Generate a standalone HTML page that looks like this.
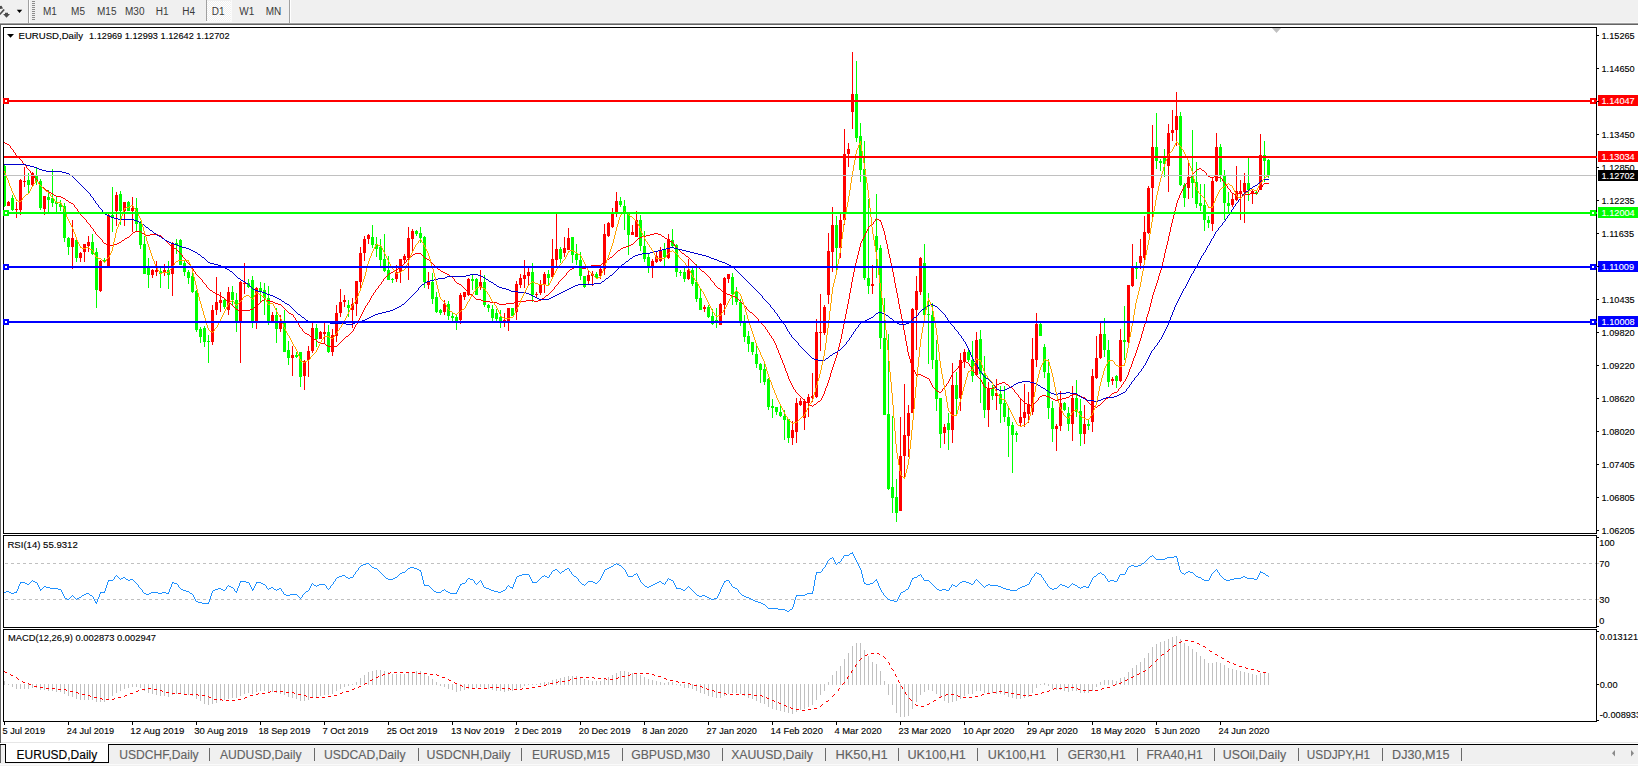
<!DOCTYPE html>
<html><head><meta charset="utf-8"><title>EURUSD,Daily</title>
<style>html,body{margin:0;padding:0;background:#fff;overflow:hidden}body{width:1638px;height:766px;position:relative}
text{font-family:"Liberation Sans",Arial,sans-serif}</style></head>
<body>
<svg width="1638" height="766" viewBox="0 0 1638 766" style="position:absolute;left:0;top:0" font-family="Liberation Sans, Arial, sans-serif">
<defs><clipPath id="cm"><rect x="4" y="28" width="1592" height="505"/></clipPath><clipPath id="cr"><rect x="4" y="536" width="1592" height="91"/></clipPath><clipPath id="cd"><rect x="4" y="630" width="1592" height="91"/></clipPath></defs>
<g shape-rendering="crispEdges">
<rect x="0" y="0" width="1638" height="23" fill="#f0f0f0"/>
<rect x="0" y="22" width="1638" height="1" fill="#f7f7f7"/>
<rect x="0" y="23" width="1638" height="1" fill="#a0a0a0"/>
<rect x="0" y="24" width="1638" height="1" fill="#646464"/>
<rect x="0" y="24" width="1" height="719" fill="#646464"/>
<rect x="28" y="0" width="1" height="23" fill="#a0a0a0"/><rect x="29" y="0" width="1" height="23" fill="#ffffff"/>
<rect x="32" y="1" width="3" height="1" fill="#8c8c8c"/>
<rect x="32" y="3" width="3" height="1" fill="#8c8c8c"/>
<rect x="32" y="5" width="3" height="1" fill="#8c8c8c"/>
<rect x="32" y="7" width="3" height="1" fill="#8c8c8c"/>
<rect x="32" y="9" width="3" height="1" fill="#8c8c8c"/>
<rect x="32" y="11" width="3" height="1" fill="#8c8c8c"/>
<rect x="32" y="13" width="3" height="1" fill="#8c8c8c"/>
<rect x="32" y="15" width="3" height="1" fill="#8c8c8c"/>
<rect x="32" y="17" width="3" height="1" fill="#8c8c8c"/>
<rect x="32" y="19" width="3" height="1" fill="#8c8c8c"/>
<defs><pattern id="chk" x="0" y="0" width="2" height="2" patternUnits="userSpaceOnUse"><rect width="2" height="2" fill="#f0f0f0"/><rect width="1" height="1" fill="#fff"/><rect x="1" y="1" width="1" height="1" fill="#fff"/></pattern></defs>
<rect x="207" y="1" width="24" height="20" fill="url(#chk)"/>
<rect x="206" y="0" width="1" height="21" fill="#a0a0a0"/>
<rect x="231" y="0" width="1" height="22" fill="#fafafa"/>
<rect x="206" y="21" width="26" height="1" fill="#fafafa"/>
<rect x="289" y="0" width="1" height="23" fill="#a0a0a0"/><rect x="290" y="0" width="1" height="23" fill="#ffffff"/>
<rect x="3" y="27" width="1594" height="507" fill="#000"/>
<rect x="4" y="28" width="1592" height="505" fill="#fff"/>
<rect x="3" y="535" width="1594" height="93" fill="#000"/>
<rect x="4" y="536" width="1592" height="91" fill="#fff"/>
<rect x="3" y="629" width="1594" height="93" fill="#000"/>
<rect x="4" y="630" width="1592" height="91" fill="#fff"/>
<rect x="1" y="742" width="1637" height="1" fill="#e6e6e6"/>
<rect x="0" y="744" width="1638" height="1" fill="#000"/>
<rect x="0" y="745" width="1638" height="21" fill="#f0f0f0"/>
<rect x="0" y="764" width="1638" height="1" fill="#fafafa"/>
<rect x="0" y="745" width="1" height="18" fill="#646464"/>
<rect x="5" y="744" width="104" height="19" fill="#000"/>
<rect x="6" y="744" width="102" height="18" fill="#fff"/>
</g>
<g clip-path="url(#cm)" shape-rendering="crispEdges">
<rect x="4" y="165" width="1" height="42" fill="#00ff00"/>
<rect x="3" y="166" width="3" height="40" fill="#00ff00"/>
<rect x="8" y="201" width="1" height="5" fill="#ff0000"/>
<rect x="7" y="202" width="3" height="4" fill="#ff0000"/>
<rect x="12" y="195" width="1" height="16" fill="#00ff00"/>
<rect x="11" y="198" width="3" height="12" fill="#00ff00"/>
<rect x="16" y="202" width="1" height="16" fill="#ff0000"/>
<rect x="15" y="209" width="3" height="1" fill="#ff0000"/>
<rect x="20" y="179" width="1" height="36" fill="#ff0000"/>
<rect x="19" y="180" width="3" height="30" fill="#ff0000"/>
<rect x="24" y="167" width="1" height="20" fill="#ff0000"/>
<rect x="23" y="181" width="3" height="1" fill="#ff0000"/>
<rect x="28" y="173" width="1" height="20" fill="#00ff00"/>
<rect x="27" y="180" width="3" height="5" fill="#00ff00"/>
<rect x="32" y="172" width="1" height="14" fill="#ff0000"/>
<rect x="31" y="173" width="3" height="12" fill="#ff0000"/>
<rect x="36" y="167" width="1" height="18" fill="#00ff00"/>
<rect x="35" y="175" width="3" height="6" fill="#00ff00"/>
<rect x="40" y="179" width="1" height="31" fill="#00ff00"/>
<rect x="39" y="181" width="3" height="27" fill="#00ff00"/>
<rect x="44" y="196" width="1" height="19" fill="#ff0000"/>
<rect x="43" y="196" width="3" height="13" fill="#ff0000"/>
<rect x="48" y="190" width="1" height="22" fill="#00ff00"/>
<rect x="47" y="197" width="3" height="3" fill="#00ff00"/>
<rect x="52" y="169" width="1" height="38" fill="#00ff00"/>
<rect x="51" y="198" width="3" height="5" fill="#00ff00"/>
<rect x="56" y="197" width="1" height="15" fill="#00ff00"/>
<rect x="55" y="202" width="3" height="2" fill="#00ff00"/>
<rect x="60" y="200" width="1" height="11" fill="#00ff00"/>
<rect x="59" y="204" width="3" height="3" fill="#00ff00"/>
<rect x="64" y="203" width="1" height="39" fill="#00ff00"/>
<rect x="63" y="206" width="3" height="32" fill="#00ff00"/>
<rect x="68" y="237" width="1" height="18" fill="#00ff00"/>
<rect x="67" y="238" width="3" height="9" fill="#00ff00"/>
<rect x="72" y="220" width="1" height="49" fill="#ff0000"/>
<rect x="71" y="238" width="3" height="9" fill="#ff0000"/>
<rect x="76" y="239" width="1" height="23" fill="#00ff00"/>
<rect x="75" y="240" width="3" height="18" fill="#00ff00"/>
<rect x="80" y="252" width="1" height="10" fill="#ff0000"/>
<rect x="79" y="253" width="3" height="5" fill="#ff0000"/>
<rect x="84" y="244" width="1" height="18" fill="#ff0000"/>
<rect x="83" y="244" width="3" height="8" fill="#ff0000"/>
<rect x="88" y="236" width="1" height="16" fill="#ff0000"/>
<rect x="87" y="242" width="3" height="4" fill="#ff0000"/>
<rect x="92" y="234" width="1" height="21" fill="#00ff00"/>
<rect x="91" y="242" width="3" height="12" fill="#00ff00"/>
<rect x="96" y="248" width="1" height="60" fill="#00ff00"/>
<rect x="95" y="252" width="3" height="38" fill="#00ff00"/>
<rect x="100" y="260" width="1" height="32" fill="#ff0000"/>
<rect x="99" y="261" width="3" height="30" fill="#ff0000"/>
<rect x="104" y="258" width="1" height="5" fill="#00ff00"/>
<rect x="103" y="260" width="3" height="2" fill="#00ff00"/>
<rect x="108" y="214" width="1" height="52" fill="#ff0000"/>
<rect x="107" y="215" width="3" height="51" fill="#ff0000"/>
<rect x="112" y="187" width="1" height="45" fill="#00ff00"/>
<rect x="111" y="215" width="3" height="2" fill="#00ff00"/>
<rect x="116" y="192" width="1" height="34" fill="#ff0000"/>
<rect x="115" y="195" width="3" height="16" fill="#ff0000"/>
<rect x="120" y="191" width="1" height="34" fill="#00ff00"/>
<rect x="119" y="194" width="3" height="17" fill="#00ff00"/>
<rect x="124" y="202" width="1" height="24" fill="#ff0000"/>
<rect x="123" y="202" width="3" height="9" fill="#ff0000"/>
<rect x="128" y="201" width="1" height="10" fill="#00ff00"/>
<rect x="127" y="202" width="3" height="9" fill="#00ff00"/>
<rect x="132" y="197" width="1" height="35" fill="#ff0000"/>
<rect x="131" y="208" width="3" height="3" fill="#ff0000"/>
<rect x="136" y="198" width="1" height="33" fill="#00ff00"/>
<rect x="135" y="208" width="3" height="16" fill="#00ff00"/>
<rect x="140" y="221" width="1" height="28" fill="#00ff00"/>
<rect x="139" y="222" width="3" height="23" fill="#00ff00"/>
<rect x="144" y="236" width="1" height="38" fill="#00ff00"/>
<rect x="143" y="244" width="3" height="30" fill="#00ff00"/>
<rect x="148" y="258" width="1" height="30" fill="#00ff00"/>
<rect x="147" y="267" width="3" height="8" fill="#00ff00"/>
<rect x="152" y="269" width="1" height="9" fill="#ff0000"/>
<rect x="151" y="270" width="3" height="5" fill="#ff0000"/>
<rect x="156" y="261" width="1" height="15" fill="#ff0000"/>
<rect x="155" y="270" width="3" height="2" fill="#ff0000"/>
<rect x="160" y="266" width="1" height="22" fill="#00ff00"/>
<rect x="159" y="271" width="3" height="3" fill="#00ff00"/>
<rect x="164" y="264" width="1" height="12" fill="#ff0000"/>
<rect x="163" y="270" width="3" height="2" fill="#ff0000"/>
<rect x="168" y="261" width="1" height="28" fill="#00ff00"/>
<rect x="167" y="270" width="3" height="5" fill="#00ff00"/>
<rect x="172" y="242" width="1" height="54" fill="#ff0000"/>
<rect x="171" y="243" width="3" height="31" fill="#ff0000"/>
<rect x="176" y="239" width="1" height="15" fill="#00ff00"/>
<rect x="175" y="243" width="3" height="2" fill="#00ff00"/>
<rect x="180" y="239" width="1" height="26" fill="#00ff00"/>
<rect x="179" y="240" width="3" height="25" fill="#00ff00"/>
<rect x="184" y="260" width="1" height="16" fill="#00ff00"/>
<rect x="183" y="263" width="3" height="9" fill="#00ff00"/>
<rect x="188" y="270" width="1" height="14" fill="#00ff00"/>
<rect x="187" y="272" width="3" height="6" fill="#00ff00"/>
<rect x="192" y="272" width="1" height="21" fill="#00ff00"/>
<rect x="191" y="276" width="3" height="16" fill="#00ff00"/>
<rect x="196" y="290" width="1" height="42" fill="#00ff00"/>
<rect x="195" y="291" width="3" height="39" fill="#00ff00"/>
<rect x="200" y="327" width="1" height="16" fill="#00ff00"/>
<rect x="199" y="329" width="3" height="8" fill="#00ff00"/>
<rect x="204" y="326" width="1" height="21" fill="#00ff00"/>
<rect x="203" y="328" width="3" height="14" fill="#00ff00"/>
<rect x="208" y="335" width="1" height="28" fill="#00ff00"/>
<rect x="207" y="341" width="3" height="1" fill="#00ff00"/>
<rect x="212" y="305" width="1" height="40" fill="#ff0000"/>
<rect x="211" y="310" width="3" height="32" fill="#ff0000"/>
<rect x="216" y="277" width="1" height="38" fill="#ff0000"/>
<rect x="215" y="302" width="3" height="8" fill="#ff0000"/>
<rect x="220" y="292" width="1" height="20" fill="#ff0000"/>
<rect x="219" y="300" width="3" height="3" fill="#ff0000"/>
<rect x="224" y="298" width="1" height="11" fill="#00ff00"/>
<rect x="223" y="300" width="3" height="7" fill="#00ff00"/>
<rect x="228" y="287" width="1" height="28" fill="#ff0000"/>
<rect x="227" y="292" width="3" height="18" fill="#ff0000"/>
<rect x="232" y="286" width="1" height="20" fill="#00ff00"/>
<rect x="231" y="292" width="3" height="8" fill="#00ff00"/>
<rect x="236" y="293" width="1" height="39" fill="#00ff00"/>
<rect x="235" y="300" width="3" height="23" fill="#00ff00"/>
<rect x="240" y="281" width="1" height="82" fill="#ff0000"/>
<rect x="239" y="282" width="3" height="41" fill="#ff0000"/>
<rect x="244" y="263" width="1" height="31" fill="#ff0000"/>
<rect x="243" y="283" width="3" height="1" fill="#ff0000"/>
<rect x="248" y="279" width="1" height="9" fill="#00ff00"/>
<rect x="247" y="283" width="3" height="4" fill="#00ff00"/>
<rect x="252" y="276" width="1" height="52" fill="#00ff00"/>
<rect x="251" y="280" width="3" height="41" fill="#00ff00"/>
<rect x="256" y="287" width="1" height="42" fill="#ff0000"/>
<rect x="255" y="288" width="3" height="33" fill="#ff0000"/>
<rect x="260" y="282" width="1" height="20" fill="#00ff00"/>
<rect x="259" y="288" width="3" height="3" fill="#00ff00"/>
<rect x="264" y="283" width="1" height="32" fill="#00ff00"/>
<rect x="263" y="290" width="3" height="8" fill="#00ff00"/>
<rect x="268" y="286" width="1" height="39" fill="#00ff00"/>
<rect x="267" y="298" width="3" height="23" fill="#00ff00"/>
<rect x="272" y="312" width="1" height="9" fill="#ff0000"/>
<rect x="271" y="315" width="3" height="6" fill="#ff0000"/>
<rect x="276" y="308" width="1" height="35" fill="#00ff00"/>
<rect x="275" y="315" width="3" height="14" fill="#00ff00"/>
<rect x="280" y="315" width="1" height="17" fill="#ff0000"/>
<rect x="279" y="322" width="3" height="7" fill="#ff0000"/>
<rect x="284" y="310" width="1" height="42" fill="#00ff00"/>
<rect x="283" y="323" width="3" height="29" fill="#00ff00"/>
<rect x="288" y="341" width="1" height="24" fill="#00ff00"/>
<rect x="287" y="350" width="3" height="8" fill="#00ff00"/>
<rect x="292" y="346" width="1" height="30" fill="#ff0000"/>
<rect x="291" y="355" width="3" height="3" fill="#ff0000"/>
<rect x="296" y="352" width="1" height="6" fill="#00ff00"/>
<rect x="295" y="355" width="3" height="2" fill="#00ff00"/>
<rect x="300" y="352" width="1" height="35" fill="#00ff00"/>
<rect x="299" y="352" width="3" height="25" fill="#00ff00"/>
<rect x="304" y="360" width="1" height="30" fill="#ff0000"/>
<rect x="303" y="361" width="3" height="15" fill="#ff0000"/>
<rect x="308" y="346" width="1" height="31" fill="#ff0000"/>
<rect x="307" y="351" width="3" height="9" fill="#ff0000"/>
<rect x="312" y="323" width="1" height="30" fill="#ff0000"/>
<rect x="311" y="328" width="3" height="23" fill="#ff0000"/>
<rect x="316" y="324" width="1" height="23" fill="#00ff00"/>
<rect x="315" y="328" width="3" height="11" fill="#00ff00"/>
<rect x="320" y="331" width="1" height="8" fill="#ff0000"/>
<rect x="319" y="332" width="3" height="7" fill="#ff0000"/>
<rect x="324" y="323" width="1" height="21" fill="#ff0000"/>
<rect x="323" y="332" width="3" height="2" fill="#ff0000"/>
<rect x="328" y="325" width="1" height="28" fill="#00ff00"/>
<rect x="327" y="332" width="3" height="20" fill="#00ff00"/>
<rect x="332" y="329" width="1" height="27" fill="#ff0000"/>
<rect x="331" y="335" width="3" height="17" fill="#ff0000"/>
<rect x="336" y="305" width="1" height="37" fill="#ff0000"/>
<rect x="335" y="313" width="3" height="23" fill="#ff0000"/>
<rect x="340" y="289" width="1" height="28" fill="#ff0000"/>
<rect x="339" y="302" width="3" height="11" fill="#ff0000"/>
<rect x="344" y="295" width="1" height="12" fill="#ff0000"/>
<rect x="343" y="300" width="3" height="2" fill="#ff0000"/>
<rect x="348" y="300" width="1" height="17" fill="#00ff00"/>
<rect x="347" y="305" width="3" height="3" fill="#00ff00"/>
<rect x="352" y="298" width="1" height="30" fill="#ff0000"/>
<rect x="351" y="304" width="3" height="6" fill="#ff0000"/>
<rect x="356" y="281" width="1" height="35" fill="#ff0000"/>
<rect x="355" y="281" width="3" height="23" fill="#ff0000"/>
<rect x="360" y="247" width="1" height="41" fill="#ff0000"/>
<rect x="359" y="253" width="3" height="29" fill="#ff0000"/>
<rect x="364" y="236" width="1" height="25" fill="#ff0000"/>
<rect x="363" y="239" width="3" height="14" fill="#ff0000"/>
<rect x="368" y="234" width="1" height="10" fill="#ff0000"/>
<rect x="367" y="235" width="3" height="4" fill="#ff0000"/>
<rect x="372" y="225" width="1" height="23" fill="#00ff00"/>
<rect x="371" y="237" width="3" height="8" fill="#00ff00"/>
<rect x="376" y="237" width="1" height="20" fill="#00ff00"/>
<rect x="375" y="244" width="3" height="5" fill="#00ff00"/>
<rect x="380" y="239" width="1" height="27" fill="#00ff00"/>
<rect x="379" y="247" width="3" height="13" fill="#00ff00"/>
<rect x="384" y="234" width="1" height="38" fill="#00ff00"/>
<rect x="383" y="259" width="3" height="12" fill="#00ff00"/>
<rect x="388" y="256" width="1" height="24" fill="#00ff00"/>
<rect x="387" y="270" width="3" height="10" fill="#00ff00"/>
<rect x="392" y="278" width="1" height="5" fill="#00ff00"/>
<rect x="391" y="279" width="3" height="1" fill="#00ff00"/>
<rect x="396" y="265" width="1" height="17" fill="#ff0000"/>
<rect x="395" y="272" width="3" height="7" fill="#ff0000"/>
<rect x="400" y="259" width="1" height="24" fill="#ff0000"/>
<rect x="399" y="259" width="3" height="13" fill="#ff0000"/>
<rect x="404" y="254" width="1" height="10" fill="#ff0000"/>
<rect x="403" y="256" width="3" height="4" fill="#ff0000"/>
<rect x="408" y="227" width="1" height="53" fill="#ff0000"/>
<rect x="407" y="238" width="3" height="20" fill="#ff0000"/>
<rect x="412" y="229" width="1" height="24" fill="#ff0000"/>
<rect x="411" y="231" width="3" height="8" fill="#ff0000"/>
<rect x="416" y="230" width="1" height="6" fill="#00ff00"/>
<rect x="415" y="231" width="3" height="3" fill="#00ff00"/>
<rect x="420" y="227" width="1" height="16" fill="#00ff00"/>
<rect x="419" y="233" width="3" height="5" fill="#00ff00"/>
<rect x="424" y="236" width="1" height="52" fill="#00ff00"/>
<rect x="423" y="237" width="3" height="45" fill="#00ff00"/>
<rect x="428" y="272" width="1" height="17" fill="#ff0000"/>
<rect x="427" y="282" width="3" height="3" fill="#ff0000"/>
<rect x="432" y="273" width="1" height="31" fill="#00ff00"/>
<rect x="431" y="282" width="3" height="17" fill="#00ff00"/>
<rect x="436" y="292" width="1" height="21" fill="#00ff00"/>
<rect x="435" y="297" width="3" height="15" fill="#00ff00"/>
<rect x="440" y="309" width="1" height="6" fill="#00ff00"/>
<rect x="439" y="310" width="3" height="3" fill="#00ff00"/>
<rect x="444" y="300" width="1" height="15" fill="#ff0000"/>
<rect x="443" y="304" width="3" height="8" fill="#ff0000"/>
<rect x="448" y="301" width="1" height="19" fill="#00ff00"/>
<rect x="447" y="304" width="3" height="12" fill="#00ff00"/>
<rect x="452" y="312" width="1" height="11" fill="#00ff00"/>
<rect x="451" y="316" width="3" height="2" fill="#00ff00"/>
<rect x="456" y="315" width="1" height="15" fill="#00ff00"/>
<rect x="455" y="317" width="3" height="4" fill="#00ff00"/>
<rect x="460" y="293" width="1" height="31" fill="#ff0000"/>
<rect x="459" y="295" width="3" height="25" fill="#ff0000"/>
<rect x="464" y="292" width="1" height="8" fill="#ff0000"/>
<rect x="463" y="292" width="3" height="5" fill="#ff0000"/>
<rect x="468" y="278" width="1" height="18" fill="#ff0000"/>
<rect x="467" y="279" width="3" height="16" fill="#ff0000"/>
<rect x="472" y="275" width="1" height="15" fill="#00ff00"/>
<rect x="471" y="279" width="3" height="2" fill="#00ff00"/>
<rect x="476" y="278" width="1" height="17" fill="#00ff00"/>
<rect x="475" y="279" width="3" height="16" fill="#00ff00"/>
<rect x="480" y="270" width="1" height="20" fill="#ff0000"/>
<rect x="479" y="282" width="3" height="5" fill="#ff0000"/>
<rect x="484" y="275" width="1" height="32" fill="#00ff00"/>
<rect x="483" y="282" width="3" height="23" fill="#00ff00"/>
<rect x="488" y="304" width="1" height="8" fill="#00ff00"/>
<rect x="487" y="305" width="3" height="3" fill="#00ff00"/>
<rect x="492" y="305" width="1" height="16" fill="#00ff00"/>
<rect x="491" y="309" width="3" height="9" fill="#00ff00"/>
<rect x="496" y="309" width="1" height="12" fill="#00ff00"/>
<rect x="495" y="313" width="3" height="6" fill="#00ff00"/>
<rect x="500" y="310" width="1" height="18" fill="#00ff00"/>
<rect x="499" y="317" width="3" height="6" fill="#00ff00"/>
<rect x="504" y="313" width="1" height="14" fill="#ff0000"/>
<rect x="503" y="320" width="3" height="3" fill="#ff0000"/>
<rect x="508" y="308" width="1" height="23" fill="#ff0000"/>
<rect x="507" y="308" width="3" height="13" fill="#ff0000"/>
<rect x="512" y="308" width="1" height="8" fill="#00ff00"/>
<rect x="511" y="308" width="3" height="8" fill="#00ff00"/>
<rect x="516" y="281" width="1" height="39" fill="#ff0000"/>
<rect x="515" y="284" width="3" height="28" fill="#ff0000"/>
<rect x="520" y="274" width="1" height="14" fill="#ff0000"/>
<rect x="519" y="278" width="3" height="7" fill="#ff0000"/>
<rect x="524" y="260" width="1" height="28" fill="#ff0000"/>
<rect x="523" y="275" width="3" height="4" fill="#ff0000"/>
<rect x="528" y="267" width="1" height="19" fill="#ff0000"/>
<rect x="527" y="272" width="3" height="4" fill="#ff0000"/>
<rect x="532" y="263" width="1" height="39" fill="#00ff00"/>
<rect x="531" y="272" width="3" height="23" fill="#00ff00"/>
<rect x="536" y="292" width="1" height="5" fill="#ff0000"/>
<rect x="535" y="294" width="3" height="1" fill="#ff0000"/>
<rect x="540" y="280" width="1" height="15" fill="#ff0000"/>
<rect x="539" y="284" width="3" height="9" fill="#ff0000"/>
<rect x="544" y="272" width="1" height="21" fill="#ff0000"/>
<rect x="543" y="274" width="3" height="11" fill="#ff0000"/>
<rect x="548" y="270" width="1" height="15" fill="#00ff00"/>
<rect x="547" y="274" width="3" height="4" fill="#00ff00"/>
<rect x="552" y="239" width="1" height="39" fill="#ff0000"/>
<rect x="551" y="259" width="3" height="18" fill="#ff0000"/>
<rect x="556" y="214" width="1" height="52" fill="#ff0000"/>
<rect x="555" y="249" width="3" height="11" fill="#ff0000"/>
<rect x="560" y="247" width="1" height="16" fill="#00ff00"/>
<rect x="559" y="249" width="3" height="10" fill="#00ff00"/>
<rect x="564" y="237" width="1" height="20" fill="#ff0000"/>
<rect x="563" y="248" width="3" height="5" fill="#ff0000"/>
<rect x="568" y="228" width="1" height="22" fill="#ff0000"/>
<rect x="567" y="238" width="3" height="12" fill="#ff0000"/>
<rect x="572" y="237" width="1" height="26" fill="#00ff00"/>
<rect x="571" y="237" width="3" height="18" fill="#00ff00"/>
<rect x="576" y="244" width="1" height="21" fill="#00ff00"/>
<rect x="575" y="254" width="3" height="6" fill="#00ff00"/>
<rect x="580" y="252" width="1" height="28" fill="#00ff00"/>
<rect x="579" y="260" width="3" height="16" fill="#00ff00"/>
<rect x="584" y="276" width="1" height="12" fill="#00ff00"/>
<rect x="583" y="276" width="3" height="11" fill="#00ff00"/>
<rect x="588" y="271" width="1" height="14" fill="#ff0000"/>
<rect x="587" y="275" width="3" height="6" fill="#ff0000"/>
<rect x="592" y="271" width="1" height="15" fill="#ff0000"/>
<rect x="591" y="274" width="3" height="2" fill="#ff0000"/>
<rect x="596" y="272" width="1" height="7" fill="#00ff00"/>
<rect x="595" y="274" width="3" height="4" fill="#00ff00"/>
<rect x="600" y="268" width="1" height="11" fill="#ff0000"/>
<rect x="599" y="269" width="3" height="7" fill="#ff0000"/>
<rect x="604" y="224" width="1" height="51" fill="#ff0000"/>
<rect x="603" y="234" width="3" height="35" fill="#ff0000"/>
<rect x="608" y="222" width="1" height="15" fill="#ff0000"/>
<rect x="607" y="223" width="3" height="13" fill="#ff0000"/>
<rect x="612" y="208" width="1" height="20" fill="#ff0000"/>
<rect x="611" y="214" width="3" height="13" fill="#ff0000"/>
<rect x="616" y="192" width="1" height="25" fill="#ff0000"/>
<rect x="615" y="201" width="3" height="13" fill="#ff0000"/>
<rect x="620" y="197" width="1" height="10" fill="#00ff00"/>
<rect x="619" y="201" width="3" height="4" fill="#00ff00"/>
<rect x="624" y="200" width="1" height="30" fill="#00ff00"/>
<rect x="623" y="206" width="3" height="8" fill="#00ff00"/>
<rect x="628" y="214" width="1" height="41" fill="#00ff00"/>
<rect x="627" y="214" width="3" height="21" fill="#00ff00"/>
<rect x="632" y="225" width="1" height="10" fill="#ff0000"/>
<rect x="631" y="232" width="3" height="3" fill="#ff0000"/>
<rect x="636" y="211" width="1" height="26" fill="#ff0000"/>
<rect x="635" y="220" width="3" height="17" fill="#ff0000"/>
<rect x="640" y="215" width="1" height="36" fill="#00ff00"/>
<rect x="639" y="220" width="3" height="26" fill="#00ff00"/>
<rect x="644" y="231" width="1" height="31" fill="#00ff00"/>
<rect x="643" y="246" width="3" height="13" fill="#00ff00"/>
<rect x="648" y="254" width="1" height="19" fill="#00ff00"/>
<rect x="647" y="257" width="3" height="9" fill="#00ff00"/>
<rect x="652" y="259" width="1" height="19" fill="#ff0000"/>
<rect x="651" y="261" width="3" height="5" fill="#ff0000"/>
<rect x="656" y="252" width="1" height="11" fill="#ff0000"/>
<rect x="655" y="256" width="3" height="6" fill="#ff0000"/>
<rect x="660" y="247" width="1" height="15" fill="#ff0000"/>
<rect x="659" y="250" width="3" height="11" fill="#ff0000"/>
<rect x="664" y="243" width="1" height="23" fill="#00ff00"/>
<rect x="663" y="250" width="3" height="7" fill="#00ff00"/>
<rect x="668" y="234" width="1" height="25" fill="#ff0000"/>
<rect x="667" y="239" width="3" height="19" fill="#ff0000"/>
<rect x="672" y="229" width="1" height="18" fill="#00ff00"/>
<rect x="671" y="240" width="3" height="6" fill="#00ff00"/>
<rect x="676" y="244" width="1" height="33" fill="#00ff00"/>
<rect x="675" y="245" width="3" height="27" fill="#00ff00"/>
<rect x="680" y="270" width="1" height="6" fill="#00ff00"/>
<rect x="679" y="272" width="3" height="1" fill="#00ff00"/>
<rect x="684" y="268" width="1" height="14" fill="#00ff00"/>
<rect x="683" y="272" width="3" height="7" fill="#00ff00"/>
<rect x="688" y="259" width="1" height="21" fill="#ff0000"/>
<rect x="687" y="270" width="3" height="9" fill="#ff0000"/>
<rect x="692" y="268" width="1" height="18" fill="#00ff00"/>
<rect x="691" y="270" width="3" height="14" fill="#00ff00"/>
<rect x="696" y="264" width="1" height="38" fill="#00ff00"/>
<rect x="695" y="282" width="3" height="17" fill="#00ff00"/>
<rect x="700" y="289" width="1" height="21" fill="#00ff00"/>
<rect x="699" y="298" width="3" height="12" fill="#00ff00"/>
<rect x="704" y="305" width="1" height="7" fill="#ff0000"/>
<rect x="703" y="307" width="3" height="2" fill="#ff0000"/>
<rect x="708" y="305" width="1" height="13" fill="#00ff00"/>
<rect x="707" y="307" width="3" height="10" fill="#00ff00"/>
<rect x="712" y="309" width="1" height="16" fill="#00ff00"/>
<rect x="711" y="316" width="3" height="8" fill="#00ff00"/>
<rect x="716" y="308" width="1" height="20" fill="#00ff00"/>
<rect x="715" y="320" width="3" height="3" fill="#00ff00"/>
<rect x="720" y="303" width="1" height="22" fill="#ff0000"/>
<rect x="719" y="304" width="3" height="21" fill="#ff0000"/>
<rect x="724" y="277" width="1" height="38" fill="#ff0000"/>
<rect x="723" y="278" width="3" height="27" fill="#ff0000"/>
<rect x="728" y="274" width="1" height="9" fill="#ff0000"/>
<rect x="727" y="274" width="3" height="5" fill="#ff0000"/>
<rect x="732" y="273" width="1" height="32" fill="#00ff00"/>
<rect x="731" y="277" width="3" height="17" fill="#00ff00"/>
<rect x="736" y="287" width="1" height="18" fill="#00ff00"/>
<rect x="735" y="291" width="3" height="11" fill="#00ff00"/>
<rect x="740" y="299" width="1" height="27" fill="#00ff00"/>
<rect x="739" y="302" width="3" height="21" fill="#00ff00"/>
<rect x="744" y="315" width="1" height="27" fill="#00ff00"/>
<rect x="743" y="322" width="3" height="15" fill="#00ff00"/>
<rect x="748" y="331" width="1" height="21" fill="#00ff00"/>
<rect x="747" y="336" width="3" height="8" fill="#00ff00"/>
<rect x="752" y="342" width="1" height="13" fill="#00ff00"/>
<rect x="751" y="342" width="3" height="10" fill="#00ff00"/>
<rect x="756" y="346" width="1" height="22" fill="#00ff00"/>
<rect x="755" y="354" width="3" height="10" fill="#00ff00"/>
<rect x="760" y="363" width="1" height="20" fill="#00ff00"/>
<rect x="759" y="364" width="3" height="6" fill="#00ff00"/>
<rect x="764" y="363" width="1" height="22" fill="#00ff00"/>
<rect x="763" y="369" width="3" height="13" fill="#00ff00"/>
<rect x="768" y="378" width="1" height="32" fill="#00ff00"/>
<rect x="767" y="379" width="3" height="28" fill="#00ff00"/>
<rect x="772" y="399" width="1" height="19" fill="#00ff00"/>
<rect x="771" y="406" width="3" height="2" fill="#00ff00"/>
<rect x="776" y="407" width="1" height="8" fill="#00ff00"/>
<rect x="775" y="407" width="3" height="5" fill="#00ff00"/>
<rect x="780" y="406" width="1" height="11" fill="#00ff00"/>
<rect x="779" y="412" width="3" height="4" fill="#00ff00"/>
<rect x="784" y="410" width="1" height="30" fill="#00ff00"/>
<rect x="783" y="416" width="3" height="4" fill="#00ff00"/>
<rect x="788" y="419" width="1" height="24" fill="#00ff00"/>
<rect x="787" y="419" width="3" height="19" fill="#00ff00"/>
<rect x="792" y="421" width="1" height="24" fill="#ff0000"/>
<rect x="791" y="430" width="3" height="8" fill="#ff0000"/>
<rect x="796" y="398" width="1" height="45" fill="#ff0000"/>
<rect x="795" y="403" width="3" height="29" fill="#ff0000"/>
<rect x="800" y="398" width="1" height="8" fill="#ff0000"/>
<rect x="799" y="401" width="3" height="4" fill="#ff0000"/>
<rect x="804" y="399" width="1" height="31" fill="#ff0000"/>
<rect x="803" y="401" width="3" height="17" fill="#ff0000"/>
<rect x="808" y="394" width="1" height="23" fill="#ff0000"/>
<rect x="807" y="397" width="3" height="6" fill="#ff0000"/>
<rect x="812" y="373" width="1" height="29" fill="#ff0000"/>
<rect x="811" y="396" width="3" height="2" fill="#ff0000"/>
<rect x="816" y="319" width="1" height="79" fill="#ff0000"/>
<rect x="815" y="332" width="3" height="65" fill="#ff0000"/>
<rect x="820" y="294" width="1" height="57" fill="#ff0000"/>
<rect x="819" y="332" width="3" height="1" fill="#ff0000"/>
<rect x="824" y="305" width="1" height="30" fill="#ff0000"/>
<rect x="823" y="307" width="3" height="26" fill="#ff0000"/>
<rect x="828" y="233" width="1" height="71" fill="#ff0000"/>
<rect x="827" y="251" width="3" height="44" fill="#ff0000"/>
<rect x="832" y="207" width="1" height="65" fill="#ff0000"/>
<rect x="831" y="225" width="3" height="27" fill="#ff0000"/>
<rect x="836" y="216" width="1" height="54" fill="#00ff00"/>
<rect x="835" y="225" width="3" height="23" fill="#00ff00"/>
<rect x="840" y="214" width="1" height="44" fill="#ff0000"/>
<rect x="839" y="220" width="3" height="28" fill="#ff0000"/>
<rect x="844" y="129" width="1" height="96" fill="#ff0000"/>
<rect x="843" y="154" width="3" height="66" fill="#ff0000"/>
<rect x="848" y="143" width="1" height="24" fill="#ff0000"/>
<rect x="847" y="149" width="3" height="5" fill="#ff0000"/>
<rect x="852" y="52" width="1" height="77" fill="#ff0000"/>
<rect x="851" y="94" width="3" height="18" fill="#ff0000"/>
<rect x="856" y="61" width="1" height="81" fill="#00ff00"/>
<rect x="855" y="94" width="3" height="44" fill="#00ff00"/>
<rect x="860" y="123" width="1" height="59" fill="#00ff00"/>
<rect x="859" y="136" width="3" height="34" fill="#00ff00"/>
<rect x="864" y="141" width="1" height="139" fill="#00ff00"/>
<rect x="863" y="169" width="3" height="109" fill="#00ff00"/>
<rect x="868" y="199" width="1" height="95" fill="#00ff00"/>
<rect x="867" y="278" width="3" height="8" fill="#00ff00"/>
<rect x="872" y="265" width="1" height="29" fill="#ff0000"/>
<rect x="871" y="284" width="3" height="2" fill="#ff0000"/>
<rect x="876" y="194" width="1" height="84" fill="#00ff00"/>
<rect x="875" y="236" width="3" height="14" fill="#00ff00"/>
<rect x="880" y="245" width="1" height="104" fill="#00ff00"/>
<rect x="879" y="248" width="3" height="90" fill="#00ff00"/>
<rect x="884" y="298" width="1" height="117" fill="#00ff00"/>
<rect x="883" y="338" width="3" height="77" fill="#00ff00"/>
<rect x="888" y="334" width="1" height="156" fill="#00ff00"/>
<rect x="887" y="414" width="3" height="75" fill="#00ff00"/>
<rect x="892" y="416" width="1" height="97" fill="#00ff00"/>
<rect x="891" y="487" width="3" height="11" fill="#00ff00"/>
<rect x="896" y="479" width="1" height="43" fill="#00ff00"/>
<rect x="895" y="497" width="3" height="16" fill="#00ff00"/>
<rect x="900" y="417" width="1" height="94" fill="#ff0000"/>
<rect x="899" y="456" width="3" height="55" fill="#ff0000"/>
<rect x="904" y="384" width="1" height="93" fill="#ff0000"/>
<rect x="903" y="435" width="3" height="21" fill="#ff0000"/>
<rect x="908" y="405" width="1" height="52" fill="#ff0000"/>
<rect x="907" y="413" width="3" height="23" fill="#ff0000"/>
<rect x="912" y="308" width="1" height="105" fill="#ff0000"/>
<rect x="911" y="309" width="3" height="104" fill="#ff0000"/>
<rect x="916" y="276" width="1" height="74" fill="#ff0000"/>
<rect x="915" y="291" width="3" height="19" fill="#ff0000"/>
<rect x="920" y="257" width="1" height="38" fill="#ff0000"/>
<rect x="919" y="258" width="3" height="34" fill="#ff0000"/>
<rect x="924" y="244" width="1" height="71" fill="#00ff00"/>
<rect x="923" y="263" width="3" height="52" fill="#00ff00"/>
<rect x="928" y="293" width="1" height="71" fill="#00ff00"/>
<rect x="927" y="314" width="3" height="1" fill="#00ff00"/>
<rect x="932" y="303" width="1" height="66" fill="#00ff00"/>
<rect x="931" y="315" width="3" height="45" fill="#00ff00"/>
<rect x="936" y="340" width="1" height="71" fill="#00ff00"/>
<rect x="935" y="360" width="3" height="39" fill="#00ff00"/>
<rect x="940" y="398" width="1" height="50" fill="#00ff00"/>
<rect x="939" y="398" width="3" height="36" fill="#00ff00"/>
<rect x="944" y="424" width="1" height="20" fill="#ff0000"/>
<rect x="943" y="427" width="3" height="6" fill="#ff0000"/>
<rect x="948" y="413" width="1" height="37" fill="#00ff00"/>
<rect x="947" y="423" width="3" height="7" fill="#00ff00"/>
<rect x="952" y="363" width="1" height="80" fill="#ff0000"/>
<rect x="951" y="385" width="3" height="45" fill="#ff0000"/>
<rect x="956" y="372" width="1" height="44" fill="#00ff00"/>
<rect x="955" y="385" width="3" height="14" fill="#00ff00"/>
<rect x="960" y="353" width="1" height="58" fill="#ff0000"/>
<rect x="959" y="360" width="3" height="38" fill="#ff0000"/>
<rect x="964" y="349" width="1" height="19" fill="#ff0000"/>
<rect x="963" y="352" width="3" height="9" fill="#ff0000"/>
<rect x="968" y="349" width="1" height="13" fill="#00ff00"/>
<rect x="967" y="352" width="3" height="8" fill="#00ff00"/>
<rect x="972" y="341" width="1" height="41" fill="#00ff00"/>
<rect x="971" y="360" width="3" height="16" fill="#00ff00"/>
<rect x="976" y="332" width="1" height="44" fill="#ff0000"/>
<rect x="975" y="340" width="3" height="35" fill="#ff0000"/>
<rect x="980" y="330" width="1" height="73" fill="#00ff00"/>
<rect x="979" y="339" width="3" height="35" fill="#00ff00"/>
<rect x="984" y="356" width="1" height="62" fill="#00ff00"/>
<rect x="983" y="374" width="3" height="36" fill="#00ff00"/>
<rect x="988" y="382" width="1" height="45" fill="#ff0000"/>
<rect x="987" y="388" width="3" height="22" fill="#ff0000"/>
<rect x="992" y="385" width="1" height="15" fill="#00ff00"/>
<rect x="991" y="388" width="3" height="8" fill="#00ff00"/>
<rect x="996" y="379" width="1" height="31" fill="#ff0000"/>
<rect x="995" y="393" width="3" height="3" fill="#ff0000"/>
<rect x="1000" y="386" width="1" height="37" fill="#00ff00"/>
<rect x="999" y="394" width="3" height="10" fill="#00ff00"/>
<rect x="1004" y="386" width="1" height="36" fill="#00ff00"/>
<rect x="1003" y="403" width="3" height="14" fill="#00ff00"/>
<rect x="1008" y="408" width="1" height="49" fill="#00ff00"/>
<rect x="1007" y="417" width="3" height="9" fill="#00ff00"/>
<rect x="1012" y="422" width="1" height="51" fill="#00ff00"/>
<rect x="1011" y="425" width="3" height="10" fill="#00ff00"/>
<rect x="1016" y="431" width="1" height="11" fill="#00ff00"/>
<rect x="1015" y="433" width="3" height="2" fill="#00ff00"/>
<rect x="1020" y="399" width="1" height="27" fill="#ff0000"/>
<rect x="1019" y="417" width="3" height="6" fill="#ff0000"/>
<rect x="1024" y="384" width="1" height="43" fill="#ff0000"/>
<rect x="1023" y="412" width="3" height="6" fill="#ff0000"/>
<rect x="1028" y="392" width="1" height="31" fill="#ff0000"/>
<rect x="1027" y="404" width="3" height="10" fill="#ff0000"/>
<rect x="1032" y="338" width="1" height="77" fill="#ff0000"/>
<rect x="1031" y="359" width="3" height="53" fill="#ff0000"/>
<rect x="1036" y="313" width="1" height="54" fill="#ff0000"/>
<rect x="1035" y="324" width="3" height="36" fill="#ff0000"/>
<rect x="1040" y="323" width="1" height="13" fill="#00ff00"/>
<rect x="1039" y="324" width="3" height="12" fill="#00ff00"/>
<rect x="1044" y="344" width="1" height="34" fill="#00ff00"/>
<rect x="1043" y="347" width="3" height="25" fill="#00ff00"/>
<rect x="1048" y="359" width="1" height="60" fill="#00ff00"/>
<rect x="1047" y="373" width="3" height="35" fill="#00ff00"/>
<rect x="1052" y="401" width="1" height="41" fill="#00ff00"/>
<rect x="1051" y="408" width="3" height="21" fill="#00ff00"/>
<rect x="1056" y="424" width="1" height="27" fill="#ff0000"/>
<rect x="1055" y="426" width="3" height="3" fill="#ff0000"/>
<rect x="1060" y="391" width="1" height="40" fill="#ff0000"/>
<rect x="1059" y="403" width="3" height="23" fill="#ff0000"/>
<rect x="1064" y="402" width="1" height="9" fill="#00ff00"/>
<rect x="1063" y="403" width="3" height="7" fill="#00ff00"/>
<rect x="1068" y="407" width="1" height="24" fill="#00ff00"/>
<rect x="1067" y="413" width="3" height="11" fill="#00ff00"/>
<rect x="1072" y="386" width="1" height="55" fill="#ff0000"/>
<rect x="1071" y="398" width="3" height="26" fill="#ff0000"/>
<rect x="1076" y="380" width="1" height="37" fill="#00ff00"/>
<rect x="1075" y="398" width="3" height="14" fill="#00ff00"/>
<rect x="1080" y="399" width="1" height="47" fill="#00ff00"/>
<rect x="1079" y="411" width="3" height="23" fill="#00ff00"/>
<rect x="1084" y="405" width="1" height="39" fill="#ff0000"/>
<rect x="1083" y="424" width="3" height="10" fill="#ff0000"/>
<rect x="1088" y="420" width="1" height="10" fill="#00ff00"/>
<rect x="1087" y="424" width="3" height="2" fill="#00ff00"/>
<rect x="1092" y="369" width="1" height="63" fill="#ff0000"/>
<rect x="1091" y="376" width="3" height="46" fill="#ff0000"/>
<rect x="1096" y="336" width="1" height="43" fill="#ff0000"/>
<rect x="1095" y="358" width="3" height="20" fill="#ff0000"/>
<rect x="1100" y="322" width="1" height="37" fill="#ff0000"/>
<rect x="1099" y="334" width="3" height="24" fill="#ff0000"/>
<rect x="1104" y="318" width="1" height="39" fill="#00ff00"/>
<rect x="1103" y="334" width="3" height="16" fill="#00ff00"/>
<rect x="1108" y="340" width="1" height="47" fill="#00ff00"/>
<rect x="1107" y="350" width="3" height="32" fill="#00ff00"/>
<rect x="1112" y="377" width="1" height="8" fill="#ff0000"/>
<rect x="1111" y="379" width="3" height="2" fill="#ff0000"/>
<rect x="1116" y="375" width="1" height="13" fill="#00ff00"/>
<rect x="1115" y="376" width="3" height="5" fill="#00ff00"/>
<rect x="1120" y="329" width="1" height="53" fill="#ff0000"/>
<rect x="1119" y="340" width="3" height="41" fill="#ff0000"/>
<rect x="1124" y="306" width="1" height="54" fill="#00ff00"/>
<rect x="1123" y="340" width="3" height="2" fill="#00ff00"/>
<rect x="1128" y="285" width="1" height="59" fill="#ff0000"/>
<rect x="1127" y="285" width="3" height="57" fill="#ff0000"/>
<rect x="1132" y="244" width="1" height="43" fill="#ff0000"/>
<rect x="1131" y="266" width="3" height="20" fill="#ff0000"/>
<rect x="1136" y="262" width="1" height="17" fill="#00ff00"/>
<rect x="1135" y="267" width="3" height="2" fill="#00ff00"/>
<rect x="1140" y="239" width="1" height="30" fill="#ff0000"/>
<rect x="1139" y="256" width="3" height="7" fill="#ff0000"/>
<rect x="1144" y="216" width="1" height="44" fill="#ff0000"/>
<rect x="1143" y="232" width="3" height="26" fill="#ff0000"/>
<rect x="1148" y="186" width="1" height="48" fill="#ff0000"/>
<rect x="1147" y="188" width="3" height="45" fill="#ff0000"/>
<rect x="1152" y="125" width="1" height="92" fill="#ff0000"/>
<rect x="1151" y="147" width="3" height="41" fill="#ff0000"/>
<rect x="1156" y="113" width="1" height="56" fill="#00ff00"/>
<rect x="1155" y="147" width="3" height="14" fill="#00ff00"/>
<rect x="1160" y="159" width="1" height="12" fill="#00ff00"/>
<rect x="1159" y="161" width="3" height="2" fill="#00ff00"/>
<rect x="1164" y="149" width="1" height="28" fill="#00ff00"/>
<rect x="1163" y="158" width="3" height="6" fill="#00ff00"/>
<rect x="1168" y="124" width="1" height="68" fill="#ff0000"/>
<rect x="1167" y="133" width="3" height="33" fill="#ff0000"/>
<rect x="1172" y="110" width="1" height="31" fill="#ff0000"/>
<rect x="1171" y="130" width="3" height="3" fill="#ff0000"/>
<rect x="1176" y="92" width="1" height="54" fill="#ff0000"/>
<rect x="1175" y="116" width="3" height="14" fill="#ff0000"/>
<rect x="1180" y="112" width="1" height="74" fill="#00ff00"/>
<rect x="1179" y="116" width="3" height="69" fill="#00ff00"/>
<rect x="1184" y="183" width="1" height="24" fill="#00ff00"/>
<rect x="1183" y="185" width="3" height="13" fill="#00ff00"/>
<rect x="1188" y="162" width="1" height="37" fill="#ff0000"/>
<rect x="1187" y="177" width="3" height="11" fill="#ff0000"/>
<rect x="1192" y="130" width="1" height="68" fill="#00ff00"/>
<rect x="1191" y="177" width="3" height="6" fill="#00ff00"/>
<rect x="1196" y="162" width="1" height="46" fill="#00ff00"/>
<rect x="1195" y="182" width="3" height="22" fill="#00ff00"/>
<rect x="1200" y="184" width="1" height="27" fill="#00ff00"/>
<rect x="1199" y="203" width="3" height="3" fill="#00ff00"/>
<rect x="1204" y="184" width="1" height="47" fill="#00ff00"/>
<rect x="1203" y="205" width="3" height="15" fill="#00ff00"/>
<rect x="1208" y="216" width="1" height="12" fill="#00ff00"/>
<rect x="1207" y="220" width="3" height="3" fill="#00ff00"/>
<rect x="1212" y="177" width="1" height="54" fill="#ff0000"/>
<rect x="1211" y="181" width="3" height="43" fill="#ff0000"/>
<rect x="1216" y="133" width="1" height="49" fill="#ff0000"/>
<rect x="1215" y="147" width="3" height="34" fill="#ff0000"/>
<rect x="1220" y="144" width="1" height="38" fill="#00ff00"/>
<rect x="1219" y="147" width="3" height="29" fill="#00ff00"/>
<rect x="1224" y="170" width="1" height="50" fill="#00ff00"/>
<rect x="1223" y="176" width="3" height="27" fill="#00ff00"/>
<rect x="1228" y="192" width="1" height="20" fill="#00ff00"/>
<rect x="1227" y="203" width="3" height="3" fill="#00ff00"/>
<rect x="1232" y="193" width="1" height="14" fill="#ff0000"/>
<rect x="1231" y="199" width="3" height="6" fill="#ff0000"/>
<rect x="1236" y="166" width="1" height="35" fill="#ff0000"/>
<rect x="1235" y="191" width="3" height="9" fill="#ff0000"/>
<rect x="1240" y="180" width="1" height="40" fill="#ff0000"/>
<rect x="1239" y="191" width="3" height="3" fill="#ff0000"/>
<rect x="1244" y="173" width="1" height="50" fill="#ff0000"/>
<rect x="1243" y="183" width="3" height="9" fill="#ff0000"/>
<rect x="1248" y="158" width="1" height="43" fill="#00ff00"/>
<rect x="1247" y="183" width="3" height="7" fill="#00ff00"/>
<rect x="1252" y="190" width="1" height="14" fill="#ff0000"/>
<rect x="1251" y="191" width="3" height="3" fill="#ff0000"/>
<rect x="1256" y="190" width="1" height="5" fill="#00ff00"/>
<rect x="1255" y="192" width="3" height="2" fill="#00ff00"/>
<rect x="1260" y="134" width="1" height="56" fill="#ff0000"/>
<rect x="1259" y="155" width="3" height="35" fill="#ff0000"/>
<rect x="1264" y="141" width="1" height="41" fill="#00ff00"/>
<rect x="1263" y="155" width="3" height="6" fill="#00ff00"/>
<rect x="1268" y="159" width="1" height="19" fill="#00ff00"/>
<rect x="1267" y="160" width="3" height="15" fill="#00ff00"/>
<path fill="none" stroke="#ff0000" stroke-width="1" shape-rendering="crispEdges" d="M4.5 142v1M5.5 143v1M6.5 143v1M7.5 144v1M8.5 144v1M9.5 145v1M10.5 146v2M11.5 148v1M12.5 149v1M13.5 150v2M14.5 152v1M15.5 153v2M16.5 155v1M17.5 156v1M18.5 157v1M19.5 158v1M20.5 159v1M21.5 160v1M22.5 161v2M23.5 163v1M24.5 164v1M25.5 165v1M26.5 166v2M27.5 168v1M28.5 169v1M29.5 170v1M30.5 171v2M31.5 173v1M32.5 174v1M33.5 175v1M34.5 176v2M35.5 178v1M36.5 179v1M37.5 180v2M38.5 182v1M39.5 183v2M40.5 185v1M41.5 186v1M42.5 187v1M43.5 187v1M44.5 188v1M45.5 189v1M46.5 190v1M47.5 190v1M48.5 191v1M49.5 192v1M50.5 192v1M51.5 193v1M52.5 193v1M53.5 194v1M54.5 195v1M55.5 195v1M56.5 196v1M57.5 196v1M58.5 196v1M59.5 196v1M60.5 196v1M61.5 197v1M62.5 197v1M63.5 198v1M64.5 198v1M65.5 199v1M66.5 200v1M67.5 200v1M68.5 201v1M69.5 202v1M70.5 202v1M71.5 203v1M72.5 203v1M73.5 204v1M74.5 205v2M75.5 207v1M76.5 208v1M77.5 209v2M78.5 211v1M79.5 212v2M80.5 214v1M81.5 215v1M82.5 216v1M83.5 217v1M84.5 218v1M85.5 219v1M86.5 220v2M87.5 222v1M88.5 223v1M89.5 224v1M90.5 225v2M91.5 227v1M92.5 228v1M93.5 229v2M94.5 231v1M95.5 232v2M96.5 234v1M97.5 235v1M98.5 236v1M99.5 237v1M100.5 238v1M101.5 239v1M102.5 240v2M103.5 242v1M104.5 243v1M105.5 243v1M106.5 244v1M107.5 244v1M108.5 244v1M109.5 244v1M110.5 245v1M111.5 245v1M112.5 245v1M113.5 245v1M114.5 244v1M115.5 244v1M116.5 244v1M117.5 243v1M118.5 243v1M119.5 242v1M120.5 242v1M121.5 241v1M122.5 240v1M123.5 240v1M124.5 239v1M125.5 238v1M126.5 238v1M127.5 237v1M128.5 237v1M129.5 236v1M130.5 235v1M131.5 234v1M132.5 233v1M133.5 232v1M134.5 232v1M135.5 231v1M136.5 231v1M137.5 231v1M138.5 231v1M139.5 231v1M140.5 231v1M141.5 232v1M142.5 233v1M143.5 233v1M144.5 234v1M145.5 234v1M146.5 235v1M147.5 235v1M148.5 235v1M149.5 235v1M150.5 234v1M151.5 234v1M152.5 234v1M153.5 234v1M154.5 234v1M155.5 234v1M156.5 234v1M157.5 234v1M158.5 235v1M159.5 235v1M160.5 235v1M161.5 236v1M162.5 237v1M163.5 238v1M164.5 239v1M165.5 240v1M166.5 241v1M167.5 242v1M168.5 243v1M169.5 244v1M170.5 245v1M171.5 245v1M172.5 246v1M173.5 247v1M174.5 248v1M175.5 248v1M176.5 249v1M177.5 250v1M178.5 251v1M179.5 252v1M180.5 253v1M181.5 254v1M182.5 255v2M183.5 257v1M184.5 258v1M185.5 259v1M186.5 260v2M187.5 262v1M188.5 263v1M189.5 264v1M190.5 265v2M191.5 267v1M192.5 268v1M193.5 269v2M194.5 271v1M195.5 272v2M196.5 274v1M197.5 275v1M198.5 276v1M199.5 277v1M200.5 278v1M201.5 279v1M202.5 280v2M203.5 282v1M204.5 283v1M205.5 284v1M206.5 285v2M207.5 287v1M208.5 288v1M209.5 289v1M210.5 290v1M211.5 290v1M212.5 291v1M213.5 292v1M214.5 292v1M215.5 293v1M216.5 293v1M217.5 294v1M218.5 294v1M219.5 295v1M220.5 295v1M221.5 296v1M222.5 297v1M223.5 297v1M224.5 298v1M225.5 299v1M226.5 300v1M227.5 300v1M228.5 301v1M229.5 302v1M230.5 303v1M231.5 304v1M232.5 305v1M233.5 306v1M234.5 307v1M235.5 308v1M236.5 309v1M237.5 309v1M238.5 310v1M239.5 310v1M240.5 310v1M241.5 310v1M242.5 310v1M243.5 310v1M244.5 310v1M245.5 310v1M246.5 310v1M247.5 310v1M248.5 310v1M249.5 310v1M250.5 309v1M251.5 309v1M252.5 309v1M253.5 308v1M254.5 307v1M255.5 307v1M256.5 306v1M257.5 305v1M258.5 304v1M259.5 303v1M260.5 302v1M261.5 301v1M262.5 300v1M263.5 300v1M264.5 299v1M265.5 299v1M266.5 300v1M267.5 300v1M268.5 300v1M269.5 300v1M270.5 301v1M271.5 301v1M272.5 301v1M273.5 302v1M274.5 302v1M275.5 303v1M276.5 303v1M277.5 303v1M278.5 304v1M279.5 304v1M280.5 304v1M281.5 305v1M282.5 306v1M283.5 307v1M284.5 308v1M285.5 309v1M286.5 310v1M287.5 311v1M288.5 312v1M289.5 313v1M290.5 313v1M291.5 314v1M292.5 314v1M293.5 315v2M294.5 317v1M295.5 318v2M296.5 320v1M297.5 321v2M298.5 323v2M299.5 325v2M300.5 327v1M301.5 328v1M302.5 329v2M303.5 331v1M304.5 332v1M305.5 333v1M306.5 333v1M307.5 334v1M308.5 334v1M309.5 335v1M310.5 336v1M311.5 336v1M312.5 337v1M313.5 338v1M314.5 339v1M315.5 339v1M316.5 340v1M317.5 341v1M318.5 342v1M319.5 342v1M320.5 343v1M321.5 343v1M322.5 343v1M323.5 343v1M324.5 343v1M325.5 344v1M326.5 345v1M327.5 345v1M328.5 346v1M329.5 346v1M330.5 346v1M331.5 346v1M332.5 346v1M333.5 346v1M334.5 346v1M335.5 346v1M336.5 346v1M337.5 345v1M338.5 344v1M339.5 343v1M340.5 342v1M341.5 341v1M342.5 340v1M343.5 339v1M344.5 338v1M345.5 337v1M346.5 336v1M347.5 336v1M348.5 335v1M349.5 334v1M350.5 333v1M351.5 332v1M352.5 331v1M353.5 329v2M354.5 327v2M355.5 325v2M356.5 324v1M357.5 322v2M358.5 320v2M359.5 318v2M360.5 316v2M361.5 314v2M362.5 312v2M363.5 310v2M364.5 308v2M365.5 306v2M366.5 305v1M367.5 303v2M368.5 302v1M369.5 300v2M370.5 298v2M371.5 296v2M372.5 295v1M373.5 293v2M374.5 292v1M375.5 290v2M376.5 289v1M377.5 288v1M378.5 286v2M379.5 285v1M380.5 284v1M381.5 282v2M382.5 281v1M383.5 279v2M384.5 278v1M385.5 277v1M386.5 276v1M387.5 275v1M388.5 274v1M389.5 273v1M390.5 273v1M391.5 272v1M392.5 272v1M393.5 271v1M394.5 271v1M395.5 270v1M396.5 270v1M397.5 269v1M398.5 268v1M399.5 268v1M400.5 267v1M401.5 266v1M402.5 265v1M403.5 264v1M404.5 263v1M405.5 262v1M406.5 260v2M407.5 259v1M408.5 258v1M409.5 257v1M410.5 256v1M411.5 256v1M412.5 255v1M413.5 254v1M414.5 254v1M415.5 253v1M416.5 253v1M417.5 253v1M418.5 253v1M419.5 253v1M420.5 253v1M421.5 254v1M422.5 255v1M423.5 256v1M424.5 257v1M425.5 258v1M426.5 258v1M427.5 259v1M428.5 259v1M429.5 260v1M430.5 261v1M431.5 262v1M432.5 263v1M433.5 264v1M434.5 265v1M435.5 266v1M436.5 267v1M437.5 268v1M438.5 269v1M439.5 269v1M440.5 270v1M441.5 271v1M442.5 271v1M443.5 272v1M444.5 272v1M445.5 273v1M446.5 273v1M447.5 274v1M448.5 274v1M449.5 275v1M450.5 276v1M451.5 276v1M452.5 277v1M453.5 278v1M454.5 279v2M455.5 281v1M456.5 282v1M457.5 283v1M458.5 283v1M459.5 284v1M460.5 284v1M461.5 285v1M462.5 286v1M463.5 287v1M464.5 288v1M465.5 289v1M466.5 290v1M467.5 291v1M468.5 292v1M469.5 293v1M470.5 294v1M471.5 294v1M472.5 295v1M473.5 296v1M474.5 297v1M475.5 298v1M476.5 299v1M477.5 299v1M478.5 299v1M479.5 299v1M480.5 299v1M481.5 300v1M482.5 300v1M483.5 301v1M484.5 301v1M485.5 301v1M486.5 301v1M487.5 301v1M488.5 301v1M489.5 301v1M490.5 302v1M491.5 302v1M492.5 302v1M493.5 302v1M494.5 302v1M495.5 302v1M496.5 302v1M497.5 303v1M498.5 303v1M499.5 304v1M500.5 304v1M501.5 304v1M502.5 304v1M503.5 304v1M504.5 304v1M505.5 304v1M506.5 303v1M507.5 303v1M508.5 303v1M509.5 303v1M510.5 303v1M511.5 303v1M512.5 303v1M513.5 303v1M514.5 302v1M515.5 302v1M516.5 302v1M517.5 302v1M518.5 301v1M519.5 301v1M520.5 301v1M521.5 301v1M522.5 301v1M523.5 301v1M524.5 301v1M525.5 301v1M526.5 300v1M527.5 300v1M528.5 300v1M529.5 300v1M530.5 300v1M531.5 300v1M532.5 300v1M533.5 300v1M534.5 301v1M535.5 301v1M536.5 301v1M537.5 301v1M538.5 300v1M539.5 300v1M540.5 300v1M541.5 299v1M542.5 298v1M543.5 298v1M544.5 297v1M545.5 296v1M546.5 295v1M547.5 295v1M548.5 294v1M549.5 293v1M550.5 292v1M551.5 291v1M552.5 290v1M553.5 289v1M554.5 287v2M555.5 286v1M556.5 285v1M557.5 284v1M558.5 282v2M559.5 281v1M560.5 280v1M561.5 279v1M562.5 278v1M563.5 277v1M564.5 276v1M565.5 275v1M566.5 273v2M567.5 272v1M568.5 271v1M569.5 270v1M570.5 269v1M571.5 269v1M572.5 268v1M573.5 268v1M574.5 267v1M575.5 267v1M576.5 267v1M577.5 267v1M578.5 267v1M579.5 267v1M580.5 267v1M581.5 267v1M582.5 268v1M583.5 268v1M584.5 268v1M585.5 268v1M586.5 267v1M587.5 267v1M588.5 267v1M589.5 266v1M590.5 266v1M591.5 265v1M592.5 265v1M593.5 265v1M594.5 265v1M595.5 265v1M596.5 265v1M597.5 265v1M598.5 265v1M599.5 265v1M600.5 265v1M601.5 264v1M602.5 263v1M603.5 262v1M604.5 261v1M605.5 260v1M606.5 260v1M607.5 259v1M608.5 259v1M609.5 258v1M610.5 257v1M611.5 257v1M612.5 256v1M613.5 255v1M614.5 254v1M615.5 253v1M616.5 252v1M617.5 251v1M618.5 250v1M619.5 250v1M620.5 249v1M621.5 248v1M622.5 248v1M623.5 247v1M624.5 247v1M625.5 247v1M626.5 246v1M627.5 246v1M628.5 246v1M629.5 245v1M630.5 245v1M631.5 244v1M632.5 244v1M633.5 243v1M634.5 242v1M635.5 241v1M636.5 240v1M637.5 239v1M638.5 238v1M639.5 238v1M640.5 237v1M641.5 237v1M642.5 236v1M643.5 236v1M644.5 236v1M645.5 236v1M646.5 235v1M647.5 235v1M648.5 235v1M649.5 235v1M650.5 234v1M651.5 234v1M652.5 234v1M653.5 234v1M654.5 233v1M655.5 233v1M656.5 233v1M657.5 233v1M658.5 234v1M659.5 234v1M660.5 234v1M661.5 235v1M662.5 236v1M663.5 236v1M664.5 237v1M665.5 238v1M666.5 238v1M667.5 239v1M668.5 239v1M669.5 240v1M670.5 241v1M671.5 241v1M672.5 242v1M673.5 243v1M674.5 244v2M675.5 246v1M676.5 247v1M677.5 248v1M678.5 249v1M679.5 250v1M680.5 251v1M681.5 252v1M682.5 253v1M683.5 253v1M684.5 254v1M685.5 255v1M686.5 256v1M687.5 256v1M688.5 257v1M689.5 258v1M690.5 259v1M691.5 260v1M692.5 261v1M693.5 262v1M694.5 263v1M695.5 264v1M696.5 265v1M697.5 266v1M698.5 267v1M699.5 268v1M700.5 269v1M701.5 270v1M702.5 271v1M703.5 271v1M704.5 272v1M705.5 273v1M706.5 274v1M707.5 275v1M708.5 276v1M709.5 277v1M710.5 278v2M711.5 280v1M712.5 281v1M713.5 282v1M714.5 283v2M715.5 285v1M716.5 286v1M717.5 287v1M718.5 288v1M719.5 288v1M720.5 289v1M721.5 290v1M722.5 291v1M723.5 291v1M724.5 292v1M725.5 293v1M726.5 293v1M727.5 294v1M728.5 294v1M729.5 294v1M730.5 295v1M731.5 295v1M732.5 295v1M733.5 296v1M734.5 296v1M735.5 297v1M736.5 297v1M737.5 298v1M738.5 299v1M739.5 300v1M740.5 301v1M741.5 302v1M742.5 303v1M743.5 304v1M744.5 305v1M745.5 306v1M746.5 307v2M747.5 309v1M748.5 310v1M749.5 311v1M750.5 312v1M751.5 312v1M752.5 313v1M753.5 314v1M754.5 315v1M755.5 316v1M756.5 317v1M757.5 318v1M758.5 319v2M759.5 321v1M760.5 322v1M761.5 323v1M762.5 324v1M763.5 325v1M764.5 326v1M765.5 327v2M766.5 329v1M767.5 330v2M768.5 332v1M769.5 333v2M770.5 335v1M771.5 336v2M772.5 338v1M773.5 339v2M774.5 341v2M775.5 343v2M776.5 345v3M777.5 348v2M778.5 350v3M779.5 353v2M780.5 355v3M781.5 358v2M782.5 360v3M783.5 363v2M784.5 365v3M785.5 368v3M786.5 371v2M787.5 373v3M788.5 376v3M789.5 379v2M790.5 381v2M791.5 383v2M792.5 385v2M793.5 387v2M794.5 389v1M795.5 390v2M796.5 392v1M797.5 393v1M798.5 394v1M799.5 395v1M800.5 396v1M801.5 397v1M802.5 398v1M803.5 399v1M804.5 400v1M805.5 401v1M806.5 402v1M807.5 402v1M808.5 403v1M809.5 404v1M810.5 405v1M811.5 405v1M812.5 406v1M813.5 405v1M814.5 404v1M815.5 404v1M816.5 403v1M817.5 402v1M818.5 401v1M819.5 401v1M820.5 400v1M821.5 398v2M822.5 396v2M823.5 394v2M824.5 391v3M825.5 388v3M826.5 386v2M827.5 383v3M828.5 380v3M829.5 377v3M830.5 373v4M831.5 370v3M832.5 367v3M833.5 364v3M834.5 361v3M835.5 358v3M836.5 355v3M837.5 351v4M838.5 347v4M839.5 343v4M840.5 339v4M841.5 334v5M842.5 329v5M843.5 324v5M844.5 319v5M845.5 314v5M846.5 309v5M847.5 304v5M848.5 299v5M849.5 293v6M850.5 288v5M851.5 282v6M852.5 277v5M853.5 272v5M854.5 268v4M855.5 263v5M856.5 259v4M857.5 255v4M858.5 251v4M859.5 247v4M860.5 243v4M861.5 241v2M862.5 239v2M863.5 237v2M864.5 235v2M865.5 233v2M866.5 231v2M867.5 229v2M868.5 227v2M869.5 226v1M870.5 225v1M871.5 225v1M872.5 224v1M873.5 222v2M874.5 221v1M875.5 219v2M876.5 218v1M877.5 219v1M878.5 219v1M879.5 220v1M880.5 220v2M881.5 222v3M882.5 225v3M883.5 228v3M884.5 231v4M885.5 235v5M886.5 240v4M887.5 244v5M888.5 249v5M889.5 254v4M890.5 258v5M891.5 263v4M892.5 267v5M893.5 272v5M894.5 277v6M895.5 283v5M896.5 288v5M897.5 293v5M898.5 298v6M899.5 304v5M900.5 309v5M901.5 314v5M902.5 319v6M903.5 325v5M904.5 330v5M905.5 335v6M906.5 341v5M907.5 346v6M908.5 352v4M909.5 356v3M910.5 359v4M911.5 363v3M912.5 366v2M913.5 368v2M914.5 370v2M915.5 372v2M916.5 374v2M917.5 375v1M918.5 374v1M919.5 374v1M920.5 374v1M921.5 375v1M922.5 375v1M923.5 376v1M924.5 376v1M925.5 377v1M926.5 377v1M927.5 378v1M928.5 378v1M929.5 379v2M930.5 381v2M931.5 383v2M932.5 385v2M933.5 387v1M934.5 388v1M935.5 389v1M936.5 390v1M937.5 391v1M938.5 391v1M939.5 392v1M940.5 392v1M941.5 391v1M942.5 389v2M943.5 388v1M944.5 387v1M945.5 386v1M946.5 384v2M947.5 383v1M948.5 381v2M949.5 379v2M950.5 377v2M951.5 375v2M952.5 373v2M953.5 372v1M954.5 371v1M955.5 370v1M956.5 369v1M957.5 368v1M958.5 366v2M959.5 365v1M960.5 364v1M961.5 363v1M962.5 362v1M963.5 361v1M964.5 360v1M965.5 361v1M966.5 362v1M967.5 362v1M968.5 363v1M969.5 364v2M970.5 366v1M971.5 367v2M972.5 369v1M973.5 370v2M974.5 372v1M975.5 373v2M976.5 375v1M977.5 376v1M978.5 377v1M979.5 378v1M980.5 379v1M981.5 380v2M982.5 382v2M983.5 384v2M984.5 386v1M985.5 387v1M986.5 387v1M987.5 388v1M988.5 388v1M989.5 388v1M990.5 388v1M991.5 388v1M992.5 388v1M993.5 387v1M994.5 386v1M995.5 386v1M996.5 385v1M997.5 384v1M998.5 384v1M999.5 383v1M1000.5 383v1M1001.5 383v1M1002.5 382v1M1003.5 382v1M1004.5 382v1M1005.5 383v1M1006.5 384v1M1007.5 384v1M1008.5 385v1M1009.5 386v1M1010.5 387v1M1011.5 387v1M1012.5 388v1M1013.5 389v1M1014.5 390v2M1015.5 392v1M1016.5 393v1M1017.5 394v1M1018.5 395v2M1019.5 397v1M1020.5 398v1M1021.5 399v1M1022.5 400v1M1023.5 401v1M1024.5 402v1M1025.5 403v1M1026.5 403v1M1027.5 404v1M1028.5 404v1M1029.5 404v1M1030.5 405v1M1031.5 405v1M1032.5 405v1M1033.5 404v1M1034.5 403v1M1035.5 402v1M1036.5 401v1M1037.5 400v1M1038.5 398v2M1039.5 397v1M1040.5 396v1M1041.5 396v1M1042.5 395v1M1043.5 395v1M1044.5 395v1M1045.5 395v1M1046.5 396v1M1047.5 396v1M1048.5 396v1M1049.5 397v1M1050.5 397v1M1051.5 398v1M1052.5 398v1M1053.5 399v1M1054.5 399v1M1055.5 400v1M1056.5 400v1M1057.5 400v1M1058.5 399v1M1059.5 399v1M1060.5 399v1M1061.5 399v1M1062.5 398v1M1063.5 398v1M1064.5 398v1M1065.5 398v1M1066.5 397v1M1067.5 397v1M1068.5 397v1M1069.5 396v1M1070.5 395v1M1071.5 395v1M1072.5 394v1M1073.5 394v1M1074.5 394v1M1075.5 394v1M1076.5 394v1M1077.5 395v1M1078.5 395v1M1079.5 396v1M1080.5 396v1M1081.5 396v1M1082.5 397v1M1083.5 397v1M1084.5 397v1M1085.5 398v1M1086.5 399v2M1087.5 401v1M1088.5 402v1M1089.5 403v1M1090.5 404v1M1091.5 404v1M1092.5 405v1M1093.5 406v1M1094.5 406v1M1095.5 407v1M1096.5 407v1M1097.5 406v1M1098.5 405v1M1099.5 405v1M1100.5 404v1M1101.5 403v1M1102.5 402v1M1103.5 401v1M1104.5 400v1M1105.5 399v1M1106.5 398v1M1107.5 398v1M1108.5 397v1M1109.5 396v1M1110.5 395v1M1111.5 394v1M1112.5 393v1M1113.5 393v1M1114.5 392v1M1115.5 392v1M1116.5 392v1M1117.5 391v1M1118.5 389v2M1119.5 388v1M1120.5 387v1M1121.5 385v2M1122.5 384v1M1123.5 382v2M1124.5 381v1M1125.5 379v2M1126.5 377v2M1127.5 375v2M1128.5 372v3M1129.5 369v3M1130.5 367v2M1131.5 364v3M1132.5 361v3M1133.5 358v3M1134.5 356v2M1135.5 353v3M1136.5 350v3M1137.5 347v3M1138.5 344v3M1139.5 341v3M1140.5 338v3M1141.5 334v4M1142.5 331v3M1143.5 327v4M1144.5 324v3M1145.5 321v3M1146.5 317v4M1147.5 314v3M1148.5 311v3M1149.5 307v4M1150.5 303v4M1151.5 299v4M1152.5 295v4M1153.5 292v3M1154.5 289v3M1155.5 286v3M1156.5 283v3M1157.5 280v3M1158.5 276v4M1159.5 273v3M1160.5 270v3M1161.5 266v4M1162.5 262v4M1163.5 258v4M1164.5 253v5M1165.5 249v4M1166.5 245v4M1167.5 241v4M1168.5 236v5M1169.5 232v4M1170.5 227v5M1171.5 223v4M1172.5 219v4M1173.5 215v4M1174.5 211v4M1175.5 207v4M1176.5 203v4M1177.5 200v3M1178.5 198v2M1179.5 195v3M1180.5 193v2M1181.5 191v2M1182.5 189v2M1183.5 187v2M1184.5 186v1M1185.5 184v2M1186.5 183v1M1187.5 181v2M1188.5 180v1M1189.5 178v2M1190.5 177v1M1191.5 175v2M1192.5 174v1M1193.5 173v1M1194.5 172v1M1195.5 171v1M1196.5 170v1M1197.5 169v1M1198.5 169v1M1199.5 168v1M1200.5 168v1M1201.5 169v1M1202.5 170v1M1203.5 170v1M1204.5 171v1M1205.5 172v1M1206.5 173v2M1207.5 175v1M1208.5 176v1M1209.5 176v1M1210.5 177v1M1211.5 177v1M1212.5 177v1M1213.5 177v1M1214.5 176v1M1215.5 176v1M1216.5 176v1M1217.5 176v1M1218.5 177v1M1219.5 177v1M1220.5 177v1M1221.5 178v1M1222.5 179v2M1223.5 181v1M1224.5 182v1M1225.5 183v2M1226.5 185v1M1227.5 186v2M1228.5 188v1M1229.5 189v1M1230.5 190v2M1231.5 192v1M1232.5 193v1M1233.5 193v1M1234.5 194v1M1235.5 194v1M1236.5 194v1M1237.5 194v1M1238.5 193v1M1239.5 193v1M1240.5 193v1M1241.5 193v1M1242.5 194v1M1243.5 194v1M1244.5 194v1M1245.5 194v1M1246.5 194v1M1247.5 194v1M1248.5 194v1M1249.5 194v1M1250.5 193v1M1251.5 193v1M1252.5 193v1M1253.5 193v1M1254.5 193v1M1255.5 193v1M1256.5 193v1M1257.5 192v1M1258.5 190v2M1259.5 189v1M1260.5 188v1M1261.5 187v1M1262.5 185v2M1263.5 184v1M1264.5 183v1M1265.5 183v1M1266.5 183v1M1267.5 183v1M1268.5 183v1"/>
<path fill="none" stroke="#0000cd" stroke-width="1" shape-rendering="crispEdges" d="M4.5 164v1M5.5 164v1M6.5 164v1M7.5 164v1M8.5 164v1M9.5 164v1M10.5 164v1M11.5 164v1M12.5 164v1M13.5 164v1M14.5 164v1M15.5 164v1M16.5 164v1M17.5 164v1M18.5 164v1M19.5 164v1M20.5 164v1M21.5 164v1M22.5 164v1M23.5 164v1M24.5 164v1M25.5 164v1M26.5 165v1M27.5 165v1M28.5 165v1M29.5 165v1M30.5 166v1M31.5 166v1M32.5 166v1M33.5 166v1M34.5 167v1M35.5 167v1M36.5 167v1M37.5 168v1M38.5 168v1M39.5 169v1M40.5 169v1M41.5 169v1M42.5 170v1M43.5 170v1M44.5 170v1M45.5 170v1M46.5 171v1M47.5 171v1M48.5 171v1M49.5 171v1M50.5 171v1M51.5 171v1M52.5 171v1M53.5 171v1M54.5 171v1M55.5 171v1M56.5 171v1M57.5 171v1M58.5 171v1M59.5 171v1M60.5 171v1M61.5 171v1M62.5 172v1M63.5 172v1M64.5 172v1M65.5 172v1M66.5 173v1M67.5 173v1M68.5 173v1M69.5 174v1M70.5 175v1M71.5 175v1M72.5 176v1M73.5 177v1M74.5 178v1M75.5 179v1M76.5 180v1M77.5 181v1M78.5 182v1M79.5 183v1M80.5 184v1M81.5 185v1M82.5 186v1M83.5 187v1M84.5 188v1M85.5 189v1M86.5 190v1M87.5 191v1M88.5 192v1M89.5 193v1M90.5 194v2M91.5 196v1M92.5 197v1M93.5 198v2M94.5 200v1M95.5 201v2M96.5 203v1M97.5 204v1M98.5 205v2M99.5 207v1M100.5 208v1M101.5 209v1M102.5 210v2M103.5 212v1M104.5 213v1M105.5 214v1M106.5 214v1M107.5 215v1M108.5 215v1M109.5 216v1M110.5 216v1M111.5 217v1M112.5 217v1M113.5 217v1M114.5 218v1M115.5 218v1M116.5 218v1M117.5 218v1M118.5 219v1M119.5 219v1M120.5 219v1M121.5 219v1M122.5 219v1M123.5 219v1M124.5 219v1M125.5 219v1M126.5 219v1M127.5 219v1M128.5 219v1M129.5 219v1M130.5 219v1M131.5 219v1M132.5 219v1M133.5 219v1M134.5 220v1M135.5 220v1M136.5 220v1M137.5 221v1M138.5 221v1M139.5 222v1M140.5 222v1M141.5 223v1M142.5 224v1M143.5 224v1M144.5 225v1M145.5 226v1M146.5 227v1M147.5 227v1M148.5 228v1M149.5 229v1M150.5 230v1M151.5 230v1M152.5 231v1M153.5 232v1M154.5 233v1M155.5 233v1M156.5 234v1M157.5 235v1M158.5 235v1M159.5 236v1M160.5 236v1M161.5 237v1M162.5 238v1M163.5 238v1M164.5 239v1M165.5 240v1M166.5 240v1M167.5 241v1M168.5 241v1M169.5 242v1M170.5 242v1M171.5 243v1M172.5 243v1M173.5 243v1M174.5 244v1M175.5 244v1M176.5 244v1M177.5 245v1M178.5 245v1M179.5 246v1M180.5 246v1M181.5 246v1M182.5 247v1M183.5 247v1M184.5 247v1M185.5 247v1M186.5 248v1M187.5 248v1M188.5 248v1M189.5 249v1M190.5 249v1M191.5 250v1M192.5 250v1M193.5 251v1M194.5 251v1M195.5 252v1M196.5 252v1M197.5 253v1M198.5 254v1M199.5 254v1M200.5 255v1M201.5 256v1M202.5 257v1M203.5 257v1M204.5 258v1M205.5 259v1M206.5 260v1M207.5 261v1M208.5 262v1M209.5 262v1M210.5 263v1M211.5 263v1M212.5 263v1M213.5 263v1M214.5 264v1M215.5 264v1M216.5 264v1M217.5 264v1M218.5 265v1M219.5 265v1M220.5 265v1M221.5 266v1M222.5 266v1M223.5 267v1M224.5 267v1M225.5 268v1M226.5 268v1M227.5 269v1M228.5 269v1M229.5 270v1M230.5 271v1M231.5 271v1M232.5 272v1M233.5 273v1M234.5 274v1M235.5 275v1M236.5 276v1M237.5 277v1M238.5 278v1M239.5 278v1M240.5 279v1M241.5 280v1M242.5 280v1M243.5 281v1M244.5 281v1M245.5 282v1M246.5 283v1M247.5 283v1M248.5 284v1M249.5 285v1M250.5 286v1M251.5 287v1M252.5 288v1M253.5 289v1M254.5 289v1M255.5 290v1M256.5 290v1M257.5 290v1M258.5 291v1M259.5 291v1M260.5 291v1M261.5 291v1M262.5 292v1M263.5 292v1M264.5 292v1M265.5 293v1M266.5 293v1M267.5 294v1M268.5 294v1M269.5 294v1M270.5 295v1M271.5 295v1M272.5 295v1M273.5 296v1M274.5 296v1M275.5 297v1M276.5 297v1M277.5 298v1M278.5 298v1M279.5 299v1M280.5 299v1M281.5 300v1M282.5 301v1M283.5 301v1M284.5 302v1M285.5 303v1M286.5 303v1M287.5 304v1M288.5 304v1M289.5 305v1M290.5 306v1M291.5 307v1M292.5 308v1M293.5 309v1M294.5 310v1M295.5 311v1M296.5 312v1M297.5 313v1M298.5 314v1M299.5 314v1M300.5 315v1M301.5 316v1M302.5 317v1M303.5 317v1M304.5 318v1M305.5 319v1M306.5 320v1M307.5 320v1M308.5 321v1M309.5 321v1M310.5 322v1M311.5 322v1M312.5 322v1M313.5 322v1M314.5 322v1M315.5 322v1M316.5 322v1M317.5 322v1M318.5 322v1M319.5 322v1M320.5 322v1M321.5 322v1M322.5 322v1M323.5 322v1M324.5 322v1M325.5 322v1M326.5 322v1M327.5 322v1M328.5 322v1M329.5 322v1M330.5 323v1M331.5 323v1M332.5 323v1M333.5 323v1M334.5 323v1M335.5 323v1M336.5 323v1M337.5 323v1M338.5 323v1M339.5 323v1M340.5 323v1M341.5 323v1M342.5 323v1M343.5 323v1M344.5 323v1M345.5 323v1M346.5 324v1M347.5 324v1M348.5 324v1M349.5 324v1M350.5 324v1M351.5 324v1M352.5 324v1M353.5 323v1M354.5 323v1M355.5 322v1M356.5 322v1M357.5 322v1M358.5 321v1M359.5 321v1M360.5 321v1M361.5 321v1M362.5 320v1M363.5 320v1M364.5 320v1M365.5 319v1M366.5 319v1M367.5 318v1M368.5 318v1M369.5 317v1M370.5 317v1M371.5 316v1M372.5 316v1M373.5 315v1M374.5 315v1M375.5 314v1M376.5 314v1M377.5 314v1M378.5 313v1M379.5 313v1M380.5 313v1M381.5 313v1M382.5 312v1M383.5 312v1M384.5 312v1M385.5 312v1M386.5 311v1M387.5 311v1M388.5 311v1M389.5 311v1M390.5 310v1M391.5 310v1M392.5 310v1M393.5 309v1M394.5 309v1M395.5 308v1M396.5 308v1M397.5 307v1M398.5 307v1M399.5 306v1M400.5 306v1M401.5 305v1M402.5 304v1M403.5 304v1M404.5 303v1M405.5 302v1M406.5 301v1M407.5 300v1M408.5 299v1M409.5 298v1M410.5 297v1M411.5 296v1M412.5 295v1M413.5 294v1M414.5 293v1M415.5 292v1M416.5 291v1M417.5 290v1M418.5 288v2M419.5 287v1M420.5 286v1M421.5 285v1M422.5 284v1M423.5 284v1M424.5 283v1M425.5 282v1M426.5 282v1M427.5 281v1M428.5 281v1M429.5 281v1M430.5 280v1M431.5 280v1M432.5 280v1M433.5 280v1M434.5 279v1M435.5 279v1M436.5 279v1M437.5 279v1M438.5 278v1M439.5 278v1M440.5 278v1M441.5 278v1M442.5 278v1M443.5 278v1M444.5 278v1M445.5 277v1M446.5 277v1M447.5 276v1M448.5 276v1M449.5 276v1M450.5 276v1M451.5 276v1M452.5 276v1M453.5 276v1M454.5 276v1M455.5 276v1M456.5 276v1M457.5 276v1M458.5 276v1M459.5 276v1M460.5 276v1M461.5 276v1M462.5 276v1M463.5 276v1M464.5 276v1M465.5 276v1M466.5 275v1M467.5 275v1M468.5 275v1M469.5 275v1M470.5 274v1M471.5 274v1M472.5 274v1M473.5 274v1M474.5 274v1M475.5 274v1M476.5 274v1M477.5 274v1M478.5 275v1M479.5 275v1M480.5 275v1M481.5 276v1M482.5 276v1M483.5 277v1M484.5 277v1M485.5 278v1M486.5 279v1M487.5 279v1M488.5 280v1M489.5 281v1M490.5 281v1M491.5 282v1M492.5 282v1M493.5 283v1M494.5 284v1M495.5 284v1M496.5 285v1M497.5 286v1M498.5 286v1M499.5 287v1M500.5 287v1M501.5 287v1M502.5 288v1M503.5 288v1M504.5 288v1M505.5 288v1M506.5 289v1M507.5 289v1M508.5 289v1M509.5 290v1M510.5 290v1M511.5 291v1M512.5 291v1M513.5 291v1M514.5 291v1M515.5 291v1M516.5 291v1M517.5 291v1M518.5 292v1M519.5 292v1M520.5 292v1M521.5 292v1M522.5 292v1M523.5 292v1M524.5 292v1M525.5 292v1M526.5 293v1M527.5 293v1M528.5 293v1M529.5 294v1M530.5 294v1M531.5 295v1M532.5 295v1M533.5 296v1M534.5 296v1M535.5 297v1M536.5 297v1M537.5 298v1M538.5 298v1M539.5 299v1M540.5 299v1M541.5 299v1M542.5 299v1M543.5 299v1M544.5 299v1M545.5 299v1M546.5 299v1M547.5 299v1M548.5 299v1M549.5 298v1M550.5 298v1M551.5 297v1M552.5 297v1M553.5 296v1M554.5 296v1M555.5 295v1M556.5 295v1M557.5 294v1M558.5 294v1M559.5 293v1M560.5 293v1M561.5 292v1M562.5 292v1M563.5 291v1M564.5 291v1M565.5 290v1M566.5 290v1M567.5 289v1M568.5 289v1M569.5 288v1M570.5 288v1M571.5 287v1M572.5 287v1M573.5 286v1M574.5 286v1M575.5 285v1M576.5 285v1M577.5 285v1M578.5 284v1M579.5 284v1M580.5 284v1M581.5 284v1M582.5 284v1M583.5 284v1M584.5 284v1M585.5 284v1M586.5 284v1M587.5 284v1M588.5 284v1M589.5 284v1M590.5 284v1M591.5 284v1M592.5 284v1M593.5 284v1M594.5 283v1M595.5 283v1M596.5 283v1M597.5 283v1M598.5 283v1M599.5 283v1M600.5 283v1M601.5 282v1M602.5 281v1M603.5 281v1M604.5 280v1M605.5 279v1M606.5 278v1M607.5 278v1M608.5 277v1M609.5 276v1M610.5 275v1M611.5 275v1M612.5 274v1M613.5 273v1M614.5 272v1M615.5 271v1M616.5 270v1M617.5 269v1M618.5 268v1M619.5 267v1M620.5 266v1M621.5 265v1M622.5 264v1M623.5 264v1M624.5 263v1M625.5 262v1M626.5 261v1M627.5 261v1M628.5 260v1M629.5 259v1M630.5 258v1M631.5 258v1M632.5 257v1M633.5 256v1M634.5 256v1M635.5 255v1M636.5 255v1M637.5 255v1M638.5 254v1M639.5 254v1M640.5 254v1M641.5 254v1M642.5 253v1M643.5 253v1M644.5 253v1M645.5 253v1M646.5 253v1M647.5 253v1M648.5 253v1M649.5 253v1M650.5 252v1M651.5 252v1M652.5 252v1M653.5 252v1M654.5 251v1M655.5 251v1M656.5 251v1M657.5 251v1M658.5 250v1M659.5 250v1M660.5 250v1M661.5 250v1M662.5 249v1M663.5 249v1M664.5 249v1M665.5 249v1M666.5 248v1M667.5 248v1M668.5 248v1M669.5 248v1M670.5 247v1M671.5 247v1M672.5 247v1M673.5 247v1M674.5 248v1M675.5 248v1M676.5 248v1M677.5 248v1M678.5 249v1M679.5 249v1M680.5 249v1M681.5 249v1M682.5 250v1M683.5 250v1M684.5 250v1M685.5 250v1M686.5 251v1M687.5 251v1M688.5 251v1M689.5 251v1M690.5 252v1M691.5 252v1M692.5 252v1M693.5 252v1M694.5 253v1M695.5 253v1M696.5 253v1M697.5 253v1M698.5 254v1M699.5 254v1M700.5 254v1M701.5 254v1M702.5 255v1M703.5 255v1M704.5 255v1M705.5 255v1M706.5 256v1M707.5 256v1M708.5 256v1M709.5 257v1M710.5 257v1M711.5 258v1M712.5 258v1M713.5 258v1M714.5 259v1M715.5 259v1M716.5 259v1M717.5 260v1M718.5 260v1M719.5 261v1M720.5 261v1M721.5 261v1M722.5 262v1M723.5 262v1M724.5 262v1M725.5 263v1M726.5 263v1M727.5 264v1M728.5 264v1M729.5 265v1M730.5 265v1M731.5 266v1M732.5 266v1M733.5 267v1M734.5 268v1M735.5 269v1M736.5 270v1M737.5 271v1M738.5 272v1M739.5 273v1M740.5 274v1M741.5 275v1M742.5 276v1M743.5 277v1M744.5 278v1M745.5 279v1M746.5 280v1M747.5 281v1M748.5 282v1M749.5 283v1M750.5 284v1M751.5 285v1M752.5 286v1M753.5 287v1M754.5 288v1M755.5 289v1M756.5 290v1M757.5 291v1M758.5 292v1M759.5 293v1M760.5 294v1M761.5 295v1M762.5 296v2M763.5 298v1M764.5 299v1M765.5 300v1M766.5 301v1M767.5 302v1M768.5 303v1M769.5 304v1M770.5 305v2M771.5 307v1M772.5 308v1M773.5 309v1M774.5 310v2M775.5 312v1M776.5 313v1M777.5 314v2M778.5 316v1M779.5 317v2M780.5 319v1M781.5 320v1M782.5 321v2M783.5 323v1M784.5 324v1M785.5 325v2M786.5 327v2M787.5 329v2M788.5 331v1M789.5 332v2M790.5 334v1M791.5 335v2M792.5 337v1M793.5 338v1M794.5 339v1M795.5 340v1M796.5 341v1M797.5 342v1M798.5 343v2M799.5 345v1M800.5 346v1M801.5 347v1M802.5 348v1M803.5 349v1M804.5 350v1M805.5 351v1M806.5 352v1M807.5 353v1M808.5 354v1M809.5 355v1M810.5 356v1M811.5 357v1M812.5 358v1M813.5 358v1M814.5 359v1M815.5 359v1M816.5 359v1M817.5 359v1M818.5 360v1M819.5 360v1M820.5 360v1M821.5 360v1M822.5 360v1M823.5 360v1M824.5 360v1M825.5 359v1M826.5 358v1M827.5 358v1M828.5 357v1M829.5 356v1M830.5 355v1M831.5 355v1M832.5 354v1M833.5 353v1M834.5 353v1M835.5 352v1M836.5 352v1M837.5 351v1M838.5 350v1M839.5 350v1M840.5 349v1M841.5 348v1M842.5 347v1M843.5 346v1M844.5 345v1M845.5 344v1M846.5 342v2M847.5 341v1M848.5 340v1M849.5 338v2M850.5 337v1M851.5 335v2M852.5 334v1M853.5 332v2M854.5 331v1M855.5 329v2M856.5 328v1M857.5 327v1M858.5 325v2M859.5 324v1M860.5 323v1M861.5 322v1M862.5 322v1M863.5 321v1M864.5 321v1M865.5 320v1M866.5 320v1M867.5 319v1M868.5 319v1M869.5 318v1M870.5 318v1M871.5 317v1M872.5 317v1M873.5 316v1M874.5 315v1M875.5 314v1M876.5 313v1M877.5 313v1M878.5 312v1M879.5 312v1M880.5 312v1M881.5 312v1M882.5 313v1M883.5 313v1M884.5 313v1M885.5 314v1M886.5 315v1M887.5 315v1M888.5 316v1M889.5 317v1M890.5 318v1M891.5 318v1M892.5 319v1M893.5 320v1M894.5 321v1M895.5 321v1M896.5 322v1M897.5 323v1M898.5 323v1M899.5 324v1M900.5 324v1M901.5 324v1M902.5 324v1M903.5 324v1M904.5 324v1M905.5 324v1M906.5 323v1M907.5 323v1M908.5 323v1M909.5 322v1M910.5 321v1M911.5 320v1M912.5 319v1M913.5 318v1M914.5 317v1M915.5 317v1M916.5 316v1M917.5 315v1M918.5 313v2M919.5 312v1M920.5 311v1M921.5 310v1M922.5 309v1M923.5 309v1M924.5 308v1M925.5 307v1M926.5 306v1M927.5 306v1M928.5 305v1M929.5 305v1M930.5 304v1M931.5 304v1M932.5 304v1M933.5 305v1M934.5 305v1M935.5 306v1M936.5 306v1M937.5 307v1M938.5 308v1M939.5 309v1M940.5 310v1M941.5 311v1M942.5 312v1M943.5 313v1M944.5 314v1M945.5 315v2M946.5 317v1M947.5 318v2M948.5 320v1M949.5 321v1M950.5 322v2M951.5 324v1M952.5 325v1M953.5 326v1M954.5 327v2M955.5 329v1M956.5 330v1M957.5 331v1M958.5 332v2M959.5 334v1M960.5 335v1M961.5 336v2M962.5 338v1M963.5 339v2M964.5 341v1M965.5 342v2M966.5 344v2M967.5 346v2M968.5 348v2M969.5 350v2M970.5 352v3M971.5 355v2M972.5 357v2M973.5 359v2M974.5 361v1M975.5 362v2M976.5 364v1M977.5 365v2M978.5 367v2M979.5 369v2M980.5 371v1M981.5 372v1M982.5 373v2M983.5 375v1M984.5 376v1M985.5 377v1M986.5 378v1M987.5 378v1M988.5 379v1M989.5 380v1M990.5 381v1M991.5 382v1M992.5 383v1M993.5 384v1M994.5 385v2M995.5 387v1M996.5 388v1M997.5 389v1M998.5 389v1M999.5 390v1M1000.5 390v1M1001.5 390v1M1002.5 390v1M1003.5 390v1M1004.5 390v1M1005.5 389v1M1006.5 389v1M1007.5 388v1M1008.5 388v1M1009.5 387v1M1010.5 387v1M1011.5 386v1M1012.5 386v1M1013.5 385v1M1014.5 384v1M1015.5 384v1M1016.5 383v1M1017.5 383v1M1018.5 382v1M1019.5 382v1M1020.5 382v1M1021.5 382v1M1022.5 381v1M1023.5 381v1M1024.5 381v1M1025.5 381v1M1026.5 381v1M1027.5 381v1M1028.5 381v1M1029.5 381v1M1030.5 382v1M1031.5 382v1M1032.5 382v1M1033.5 382v1M1034.5 383v1M1035.5 383v1M1036.5 383v1M1037.5 384v1M1038.5 385v1M1039.5 385v1M1040.5 386v1M1041.5 387v1M1042.5 387v1M1043.5 388v1M1044.5 388v1M1045.5 389v1M1046.5 390v1M1047.5 390v1M1048.5 391v1M1049.5 392v1M1050.5 392v1M1051.5 393v1M1052.5 393v1M1053.5 393v1M1054.5 394v1M1055.5 394v1M1056.5 394v1M1057.5 394v1M1058.5 393v1M1059.5 393v1M1060.5 393v1M1061.5 393v1M1062.5 393v1M1063.5 393v1M1064.5 393v1M1065.5 393v1M1066.5 392v1M1067.5 392v1M1068.5 392v1M1069.5 392v1M1070.5 393v1M1071.5 393v1M1072.5 393v1M1073.5 393v1M1074.5 393v1M1075.5 393v1M1076.5 393v1M1077.5 394v1M1078.5 395v1M1079.5 395v1M1080.5 396v1M1081.5 397v1M1082.5 397v1M1083.5 398v1M1084.5 398v1M1085.5 399v1M1086.5 399v1M1087.5 400v1M1088.5 400v1M1089.5 400v1M1090.5 400v1M1091.5 400v1M1092.5 400v1M1093.5 400v1M1094.5 401v1M1095.5 401v1M1096.5 401v1M1097.5 401v1M1098.5 400v1M1099.5 400v1M1100.5 400v1M1101.5 399v1M1102.5 399v1M1103.5 398v1M1104.5 398v1M1105.5 398v1M1106.5 397v1M1107.5 397v1M1108.5 397v1M1109.5 397v1M1110.5 397v1M1111.5 397v1M1112.5 397v1M1113.5 397v1M1114.5 396v1M1115.5 396v1M1116.5 396v1M1117.5 395v1M1118.5 395v1M1119.5 394v1M1120.5 394v1M1121.5 393v1M1122.5 393v1M1123.5 392v1M1124.5 392v1M1125.5 391v1M1126.5 389v2M1127.5 388v1M1128.5 387v1M1129.5 385v2M1130.5 384v1M1131.5 382v2M1132.5 381v1M1133.5 380v1M1134.5 378v2M1135.5 377v1M1136.5 376v1M1137.5 375v1M1138.5 373v2M1139.5 372v1M1140.5 371v1M1141.5 369v2M1142.5 368v1M1143.5 366v2M1144.5 365v1M1145.5 363v2M1146.5 361v2M1147.5 359v2M1148.5 357v2M1149.5 355v2M1150.5 353v2M1151.5 351v2M1152.5 350v1M1153.5 349v1M1154.5 347v2M1155.5 346v1M1156.5 345v1M1157.5 343v2M1158.5 342v1M1159.5 340v2M1160.5 339v1M1161.5 337v2M1162.5 335v2M1163.5 333v2M1164.5 331v2M1165.5 329v2M1166.5 327v2M1167.5 325v2M1168.5 322v3M1169.5 320v2M1170.5 317v3M1171.5 315v2M1172.5 312v3M1173.5 310v2M1174.5 307v3M1175.5 305v2M1176.5 303v2M1177.5 301v2M1178.5 299v2M1179.5 297v2M1180.5 295v2M1181.5 293v2M1182.5 291v2M1183.5 289v2M1184.5 288v1M1185.5 286v2M1186.5 284v2M1187.5 282v2M1188.5 280v2M1189.5 278v2M1190.5 276v2M1191.5 274v2M1192.5 273v1M1193.5 271v2M1194.5 269v2M1195.5 267v2M1196.5 266v1M1197.5 264v2M1198.5 262v2M1199.5 260v2M1200.5 258v2M1201.5 256v2M1202.5 255v1M1203.5 253v2M1204.5 252v1M1205.5 250v2M1206.5 248v2M1207.5 246v2M1208.5 245v1M1209.5 243v2M1210.5 241v2M1211.5 239v2M1212.5 238v1M1213.5 236v2M1214.5 234v2M1215.5 232v2M1216.5 231v1M1217.5 230v1M1218.5 228v2M1219.5 227v1M1220.5 226v1M1221.5 225v1M1222.5 223v2M1223.5 222v1M1224.5 221v1M1225.5 219v2M1226.5 218v1M1227.5 216v2M1228.5 215v1M1229.5 213v2M1230.5 212v1M1231.5 210v2M1232.5 209v1M1233.5 207v2M1234.5 206v1M1235.5 204v2M1236.5 203v1M1237.5 202v1M1238.5 200v2M1239.5 199v1M1240.5 198v1M1241.5 197v1M1242.5 195v2M1243.5 194v1M1244.5 193v1M1245.5 192v1M1246.5 191v1M1247.5 191v1M1248.5 190v1M1249.5 189v1M1250.5 188v1M1251.5 188v1M1252.5 187v1M1253.5 186v1M1254.5 186v1M1255.5 185v1M1256.5 185v1M1257.5 184v1M1258.5 183v1M1259.5 182v1M1260.5 181v1M1261.5 180v1M1262.5 180v1M1263.5 179v1M1264.5 179v1M1265.5 179v1M1266.5 179v1M1267.5 179v1M1268.5 179v1"/>
<path fill="none" stroke="#ffa500" stroke-width="1" shape-rendering="crispEdges" d="M4.5 171v2M5.5 173v2M6.5 175v3M7.5 178v2M8.5 180v3M9.5 183v3M10.5 186v2M11.5 188v3M12.5 191v2M13.5 193v2M14.5 195v2M15.5 197v2M16.5 199v2M17.5 200v1M18.5 201v1M19.5 201v1M20.5 201v1M21.5 200v1M22.5 198v2M23.5 197v1M24.5 196v1M25.5 195v1M26.5 194v1M27.5 194v1M28.5 193v1M29.5 191v2M30.5 189v2M31.5 187v2M32.5 186v1M33.5 184v2M34.5 183v1M35.5 181v2M36.5 180v1M37.5 181v1M38.5 182v2M39.5 184v1M40.5 185v1M41.5 186v1M42.5 187v1M43.5 188v1M44.5 189v1M45.5 190v1M46.5 191v1M47.5 191v1M48.5 192v1M49.5 193v1M50.5 194v2M51.5 196v1M52.5 197v1M53.5 198v1M54.5 199v2M55.5 201v1M56.5 202v1M57.5 202v1M58.5 202v1M59.5 202v1M60.5 202v1M61.5 203v2M62.5 205v2M63.5 207v2M64.5 209v3M65.5 212v2M66.5 214v3M67.5 217v2M68.5 219v2M69.5 221v2M70.5 223v2M71.5 225v2M72.5 227v2M73.5 229v3M74.5 232v2M75.5 234v3M76.5 237v3M77.5 240v2M78.5 242v2M79.5 244v2M80.5 246v2M81.5 247v1M82.5 248v1M83.5 248v1M84.5 248v1M85.5 248v1M86.5 247v1M87.5 247v1M88.5 247v1M89.5 248v1M90.5 249v1M91.5 249v1M92.5 250v1M93.5 251v2M94.5 253v2M95.5 255v2M96.5 257v1M97.5 257v1M98.5 258v1M99.5 258v1M100.5 258v1M101.5 259v1M102.5 260v1M103.5 261v1M104.5 262v1M105.5 261v1M106.5 259v2M107.5 258v1M108.5 257v1M109.5 255v2M110.5 253v2M111.5 251v2M112.5 247v4M113.5 242v5M114.5 238v4M115.5 233v5M116.5 229v4M117.5 227v2M118.5 224v3M119.5 222v2M120.5 219v3M121.5 216v3M122.5 213v3M123.5 210v3M124.5 208v2M125.5 208v1M126.5 207v1M127.5 207v1M128.5 207v1M129.5 206v1M130.5 206v1M131.5 205v1M132.5 205v1M133.5 206v2M134.5 208v1M135.5 209v2M136.5 211v1M137.5 212v2M138.5 214v2M139.5 216v2M140.5 218v2M141.5 220v4M142.5 224v3M143.5 227v4M144.5 231v3M145.5 234v3M146.5 237v4M147.5 241v3M148.5 244v3M149.5 247v3M150.5 250v3M151.5 253v3M152.5 256v3M153.5 259v2M154.5 261v3M155.5 264v2M156.5 266v2M157.5 268v2M158.5 270v1M159.5 271v2M160.5 273v1M161.5 273v1M162.5 272v1M163.5 272v1M164.5 272v1M165.5 272v1M166.5 272v1M167.5 272v1M168.5 272v1M169.5 270v2M170.5 269v1M171.5 267v2M172.5 266v1M173.5 265v1M174.5 263v2M175.5 262v1M176.5 261v1M177.5 261v1M178.5 260v1M179.5 260v1M180.5 260v1M181.5 260v1M182.5 260v1M183.5 260v1M184.5 260v1M185.5 260v1M186.5 260v1M187.5 260v1M188.5 260v2M189.5 262v2M190.5 264v3M191.5 267v2M192.5 269v4M193.5 273v4M194.5 277v4M195.5 281v4M196.5 285v4M197.5 289v4M198.5 293v4M199.5 297v4M200.5 301v3M201.5 304v4M202.5 308v3M203.5 311v4M204.5 315v3M205.5 318v3M206.5 321v4M207.5 325v3M208.5 328v2M209.5 330v1M210.5 331v1M211.5 331v1M212.5 332v1M213.5 331v1M214.5 329v2M215.5 328v1M216.5 327v1M217.5 325v2M218.5 323v2M219.5 321v2M220.5 319v2M221.5 317v2M222.5 315v2M223.5 313v2M224.5 311v2M225.5 309v2M226.5 307v2M227.5 305v2M228.5 303v2M229.5 302v1M230.5 301v1M231.5 301v1M232.5 300v1M233.5 301v1M234.5 302v2M235.5 304v1M236.5 305v1M237.5 304v1M238.5 303v1M239.5 302v1M240.5 301v1M241.5 300v1M242.5 298v2M243.5 297v1M244.5 296v1M245.5 296v1M246.5 295v1M247.5 295v1M248.5 295v1M249.5 296v1M250.5 297v1M251.5 298v1M252.5 299v1M253.5 297v2M254.5 295v2M255.5 293v2M256.5 292v1M257.5 293v1M258.5 293v1M259.5 294v1M260.5 294v1M261.5 295v1M262.5 296v1M263.5 296v1M264.5 297v1M265.5 298v2M266.5 300v2M267.5 302v2M268.5 304v1M269.5 304v1M270.5 303v1M271.5 303v1M272.5 303v1M273.5 304v2M274.5 306v2M275.5 308v2M276.5 310v2M277.5 312v2M278.5 314v1M279.5 315v2M280.5 317v2M281.5 319v3M282.5 322v2M283.5 324v3M284.5 327v2M285.5 329v2M286.5 331v2M287.5 333v2M288.5 335v1M289.5 336v2M290.5 338v2M291.5 340v2M292.5 342v2M293.5 344v2M294.5 346v1M295.5 347v2M296.5 349v2M297.5 351v3M298.5 354v2M299.5 356v3M300.5 359v2M301.5 361v1M302.5 361v1M303.5 362v1M304.5 362v1M305.5 361v1M306.5 361v1M307.5 360v1M308.5 360v1M309.5 359v1M310.5 357v2M311.5 356v1M312.5 355v1M313.5 354v1M314.5 353v1M315.5 352v1M316.5 350v2M317.5 348v2M318.5 346v2M319.5 344v2M320.5 342v2M321.5 340v2M322.5 339v1M323.5 337v2M324.5 336v1M325.5 336v1M326.5 336v1M327.5 336v1M328.5 336v1M329.5 337v1M330.5 337v1M331.5 338v1M332.5 338v1M333.5 337v1M334.5 335v2M335.5 334v1M336.5 333v1M337.5 331v2M338.5 330v1M339.5 328v2M340.5 327v1M341.5 325v2M342.5 323v2M343.5 321v2M344.5 320v1M345.5 318v2M346.5 316v2M347.5 314v2M348.5 312v2M349.5 310v2M350.5 308v2M351.5 306v2M352.5 305v1M353.5 303v2M354.5 302v1M355.5 300v2M356.5 298v2M357.5 296v2M358.5 293v3M359.5 291v2M360.5 288v3M361.5 285v3M362.5 282v3M363.5 279v3M364.5 276v3M365.5 272v4M366.5 268v4M367.5 264v4M368.5 261v3M369.5 258v3M370.5 256v2M371.5 253v3M372.5 251v2M373.5 249v2M374.5 247v2M375.5 245v2M376.5 244v1M377.5 244v1M378.5 245v1M379.5 245v1M380.5 245v1M381.5 246v2M382.5 248v2M383.5 250v2M384.5 252v2M385.5 254v2M386.5 256v2M387.5 258v2M388.5 260v2M389.5 262v2M390.5 264v2M391.5 266v2M392.5 268v1M393.5 269v1M394.5 270v2M395.5 272v1M396.5 273v1M397.5 273v1M398.5 272v1M399.5 272v1M400.5 272v1M401.5 271v1M402.5 270v1M403.5 270v1M404.5 269v1M405.5 267v2M406.5 265v2M407.5 263v2M408.5 260v3M409.5 258v2M410.5 255v3M411.5 253v2M412.5 251v2M413.5 249v2M414.5 247v2M415.5 245v2M416.5 244v1M417.5 243v1M418.5 241v2M419.5 240v1M420.5 239v1M421.5 240v2M422.5 242v1M423.5 243v2M424.5 245v2M425.5 247v2M426.5 249v2M427.5 251v2M428.5 253v3M429.5 256v3M430.5 259v4M431.5 263v3M432.5 266v3M433.5 269v4M434.5 273v4M435.5 277v4M436.5 281v4M437.5 285v4M438.5 289v4M439.5 293v4M440.5 297v2M441.5 299v1M442.5 300v1M443.5 301v1M444.5 302v1M445.5 303v2M446.5 305v2M447.5 307v2M448.5 309v1M449.5 310v1M450.5 311v1M451.5 311v1M452.5 312v1M453.5 313v1M454.5 313v1M455.5 314v1M456.5 314v1M457.5 313v1M458.5 312v1M459.5 312v1M460.5 311v1M461.5 310v1M462.5 309v1M463.5 309v1M464.5 308v1M465.5 306v2M466.5 304v2M467.5 302v2M468.5 301v1M469.5 299v2M470.5 297v2M471.5 295v2M472.5 294v1M473.5 292v2M474.5 291v1M475.5 289v2M476.5 288v1M477.5 287v1M478.5 287v1M479.5 286v1M480.5 286v1M481.5 287v1M482.5 287v1M483.5 288v1M484.5 288v1M485.5 289v2M486.5 291v1M487.5 292v2M488.5 294v1M489.5 295v2M490.5 297v2M491.5 299v2M492.5 301v1M493.5 302v1M494.5 303v2M495.5 305v1M496.5 306v2M497.5 308v2M498.5 310v2M499.5 312v2M500.5 314v2M501.5 316v1M502.5 317v1M503.5 317v1M504.5 318v1M505.5 318v1M506.5 318v1M507.5 318v1M508.5 318v1M509.5 318v1M510.5 317v1M511.5 317v1M512.5 317v1M513.5 315v2M514.5 313v2M515.5 311v2M516.5 309v2M517.5 307v2M518.5 305v2M519.5 303v2M520.5 300v3M521.5 298v2M522.5 296v2M523.5 294v2M524.5 292v2M525.5 290v2M526.5 288v2M527.5 286v2M528.5 285v1M529.5 284v1M530.5 283v1M531.5 282v1M532.5 281v1M533.5 282v1M534.5 282v1M535.5 283v1M536.5 283v1M537.5 283v1M538.5 284v1M539.5 284v1M540.5 284v1M541.5 284v1M542.5 284v1M543.5 284v1M544.5 284v1M545.5 284v1M546.5 285v1M547.5 285v1M548.5 285v1M549.5 283v2M550.5 281v2M551.5 279v2M552.5 277v2M553.5 275v2M554.5 273v2M555.5 271v2M556.5 269v2M557.5 268v1M558.5 266v2M559.5 265v1M560.5 264v1M561.5 263v1M562.5 261v2M563.5 260v1M564.5 259v1M565.5 257v2M566.5 255v2M567.5 253v2M568.5 251v2M569.5 251v1M570.5 250v1M571.5 250v1M572.5 250v1M573.5 251v1M574.5 251v1M575.5 252v1M576.5 252v1M577.5 253v1M578.5 254v1M579.5 254v1M580.5 255v1M581.5 256v2M582.5 258v2M583.5 260v2M584.5 262v2M585.5 264v2M586.5 266v2M587.5 268v2M588.5 270v1M589.5 271v1M590.5 272v1M591.5 273v1M592.5 274v1M593.5 275v1M594.5 276v1M595.5 277v1M596.5 278v1M597.5 278v1M598.5 277v1M599.5 277v1M600.5 276v2M601.5 273v3M602.5 271v2M603.5 268v3M604.5 265v3M605.5 263v2M606.5 260v3M607.5 258v2M608.5 255v3M609.5 252v3M610.5 249v3M611.5 246v3M612.5 243v3M613.5 239v4M614.5 235v4M615.5 231v4M616.5 227v4M617.5 224v3M618.5 220v4M619.5 217v3M620.5 215v2M621.5 214v1M622.5 213v1M623.5 212v1M624.5 211v1M625.5 212v1M626.5 213v1M627.5 213v1M628.5 214v1M629.5 215v1M630.5 216v1M631.5 216v1M632.5 217v1M633.5 218v1M634.5 219v1M635.5 220v1M636.5 221v1M637.5 222v2M638.5 224v2M639.5 226v2M640.5 228v3M641.5 231v2M642.5 233v2M643.5 235v2M644.5 237v2M645.5 239v2M646.5 241v1M647.5 242v2M648.5 244v1M649.5 245v2M650.5 247v1M651.5 248v2M652.5 250v1M653.5 251v2M654.5 253v2M655.5 255v2M656.5 257v2M657.5 258v1M658.5 258v1M659.5 258v1M660.5 258v1M661.5 258v1M662.5 258v1M663.5 258v1M664.5 258v1M665.5 257v1M666.5 255v2M667.5 254v1M668.5 253v1M669.5 252v1M670.5 251v1M671.5 251v1M672.5 250v1M673.5 251v1M674.5 252v1M675.5 252v1M676.5 253v1M677.5 254v1M678.5 255v2M679.5 257v1M680.5 258v1M681.5 259v1M682.5 260v1M683.5 261v1M684.5 262v1M685.5 263v2M686.5 265v1M687.5 266v2M688.5 268v1M689.5 269v2M690.5 271v2M691.5 273v2M692.5 275v2M693.5 277v1M694.5 278v2M695.5 280v1M696.5 281v1M697.5 282v2M698.5 284v2M699.5 286v2M700.5 288v1M701.5 289v2M702.5 291v1M703.5 292v2M704.5 294v2M705.5 296v2M706.5 298v2M707.5 300v2M708.5 302v2M709.5 304v2M710.5 306v2M711.5 308v2M712.5 310v2M713.5 312v1M714.5 313v2M715.5 315v1M716.5 316v1M717.5 316v1M718.5 315v1M719.5 315v1M720.5 315v1M721.5 313v2M722.5 312v1M723.5 310v2M724.5 309v1M725.5 307v2M726.5 305v2M727.5 303v2M728.5 301v2M729.5 299v2M730.5 298v1M731.5 296v2M732.5 295v1M733.5 294v1M734.5 292v2M735.5 291v1M736.5 290v1M737.5 291v1M738.5 292v1M739.5 293v1M740.5 294v2M741.5 296v3M742.5 299v3M743.5 302v3M744.5 305v3M745.5 308v4M746.5 312v3M747.5 315v4M748.5 319v3M749.5 322v3M750.5 325v3M751.5 328v3M752.5 331v3M753.5 334v3M754.5 337v3M755.5 340v3M756.5 343v3M757.5 346v2M758.5 348v2M759.5 350v2M760.5 352v3M761.5 355v2M762.5 357v2M763.5 359v2M764.5 361v3M765.5 364v3M766.5 367v4M767.5 371v3M768.5 374v3M769.5 377v3M770.5 380v2M771.5 382v3M772.5 385v3M773.5 388v2M774.5 390v3M775.5 393v2M776.5 395v3M777.5 398v2M778.5 400v2M779.5 402v2M780.5 404v2M781.5 406v2M782.5 408v2M783.5 410v2M784.5 412v2M785.5 414v2M786.5 416v1M787.5 417v2M788.5 419v1M789.5 420v1M790.5 421v1M791.5 422v1M792.5 423v1M793.5 423v1M794.5 422v1M795.5 422v1M796.5 422v1M797.5 421v1M798.5 420v1M799.5 419v1M800.5 418v1M801.5 417v1M802.5 416v1M803.5 416v1M804.5 414v2M805.5 412v2M806.5 410v2M807.5 408v2M808.5 406v2M809.5 404v2M810.5 403v1M811.5 401v2M812.5 399v2M813.5 395v4M814.5 392v3M815.5 388v4M816.5 385v3M817.5 381v4M818.5 378v3M819.5 374v4M820.5 370v4M821.5 365v5M822.5 361v4M823.5 356v5M824.5 350v6M825.5 343v7M826.5 335v8M827.5 328v7M828.5 320v8M829.5 311v9M830.5 303v8M831.5 294v9M832.5 287v7M833.5 283v4M834.5 279v4M835.5 275v4M836.5 270v5M837.5 264v6M838.5 259v5M839.5 253v6M840.5 247v6M841.5 239v8M842.5 232v7M843.5 224v8M844.5 218v6M845.5 213v5M846.5 207v6M847.5 202v5M848.5 196v6M849.5 190v6M850.5 183v7M851.5 177v6M852.5 171v6M853.5 165v6M854.5 160v5M855.5 154v6M856.5 150v4M857.5 148v2M858.5 145v3M859.5 143v2M860.5 141v4M861.5 145v6M862.5 151v6M863.5 157v6M864.5 163v7M865.5 170v7M866.5 177v6M867.5 183v7M868.5 190v8M869.5 198v10M870.5 208v9M871.5 217v10M872.5 227v7M873.5 234v6M874.5 240v6M875.5 246v6M876.5 252v7M877.5 259v8M878.5 267v8M879.5 275v8M880.5 283v8M881.5 291v7M882.5 298v7M883.5 305v7M884.5 312v8M885.5 320v10M886.5 330v10M887.5 340v10M888.5 350v11M889.5 361v11M890.5 372v10M891.5 382v11M892.5 393v12M893.5 405v13M894.5 418v13M895.5 431v13M896.5 444v9M897.5 453v6M898.5 459v6M899.5 465v6M900.5 471v4M901.5 475v1M902.5 476v1M903.5 477v1M904.5 477v2M905.5 473v4M906.5 469v4M907.5 465v4M908.5 459v6M909.5 449v10M910.5 440v9M911.5 430v10M912.5 420v10M913.5 409v11M914.5 398v11M915.5 387v11M916.5 377v10M917.5 367v10M918.5 357v10M919.5 347v10M920.5 339v8M921.5 333v6M922.5 327v6M923.5 321v6M924.5 315v6M925.5 310v5M926.5 306v4M927.5 301v5M928.5 298v3M929.5 300v2M930.5 302v3M931.5 305v2M932.5 307v4M933.5 311v6M934.5 317v5M935.5 322v6M936.5 328v7M937.5 335v9M938.5 344v8M939.5 352v9M940.5 361v7M941.5 368v6M942.5 374v5M943.5 379v6M944.5 385v5M945.5 390v6M946.5 396v6M947.5 402v6M948.5 408v3M949.5 411v1M950.5 412v2M951.5 414v1M952.5 415v1M953.5 415v1M954.5 415v1M955.5 415v1M956.5 414v2M957.5 410v4M958.5 406v4M959.5 402v4M960.5 399v3M961.5 395v4M962.5 391v4M963.5 387v4M964.5 384v3M965.5 380v4M966.5 377v3M967.5 373v4M968.5 371v2M969.5 371v1M970.5 370v1M971.5 370v1M972.5 369v2M973.5 366v3M974.5 363v3M975.5 360v3M976.5 358v2M977.5 359v1M978.5 359v1M979.5 360v1M980.5 360v2M981.5 362v3M982.5 365v3M983.5 368v3M984.5 371v2M985.5 373v2M986.5 375v1M987.5 376v2M988.5 378v1M989.5 379v1M990.5 380v1M991.5 381v1M992.5 382v2M993.5 384v2M994.5 386v3M995.5 389v2M996.5 391v2M997.5 393v2M998.5 395v1M999.5 396v2M1000.5 398v1M1001.5 398v1M1002.5 399v1M1003.5 399v1M1004.5 399v1M1005.5 400v2M1006.5 402v2M1007.5 404v2M1008.5 406v2M1009.5 408v2M1010.5 410v2M1011.5 412v2M1012.5 414v2M1013.5 416v2M1014.5 418v2M1015.5 420v2M1016.5 422v2M1017.5 424v1M1018.5 425v1M1019.5 425v1M1020.5 426v1M1021.5 426v1M1022.5 425v1M1023.5 425v1M1024.5 425v1M1025.5 424v1M1026.5 423v1M1027.5 422v1M1028.5 420v2M1029.5 416v4M1030.5 412v4M1031.5 408v4M1032.5 403v5M1033.5 397v6M1034.5 392v5M1035.5 386v6M1036.5 382v4M1037.5 378v4M1038.5 374v4M1039.5 370v4M1040.5 367v3M1041.5 365v2M1042.5 363v2M1043.5 361v2M1044.5 359v2M1045.5 359v1M1046.5 360v1M1047.5 360v1M1048.5 360v2M1049.5 362v4M1050.5 366v3M1051.5 369v4M1052.5 373v4M1053.5 377v5M1054.5 382v5M1055.5 387v5M1056.5 392v4M1057.5 396v4M1058.5 400v3M1059.5 403v4M1060.5 407v2M1061.5 409v2M1062.5 411v2M1063.5 413v2M1064.5 415v1M1065.5 416v1M1066.5 417v1M1067.5 417v1M1068.5 418v1M1069.5 416v2M1070.5 415v1M1071.5 413v2M1072.5 412v1M1073.5 411v1M1074.5 410v1M1075.5 410v1M1076.5 409v1M1077.5 410v2M1078.5 412v1M1079.5 413v2M1080.5 415v1M1081.5 416v1M1082.5 417v1M1083.5 417v1M1084.5 418v1M1085.5 418v1M1086.5 419v1M1087.5 419v1M1088.5 419v1M1089.5 418v1M1090.5 416v2M1091.5 415v1M1092.5 413v2M1093.5 410v3M1094.5 408v2M1095.5 405v3M1096.5 401v4M1097.5 396v5M1098.5 391v5M1099.5 386v5M1100.5 382v4M1101.5 378v4M1102.5 375v3M1103.5 371v4M1104.5 368v3M1105.5 366v2M1106.5 364v2M1107.5 362v2M1108.5 360v2M1109.5 360v1M1110.5 360v1M1111.5 360v1M1112.5 360v1M1113.5 361v1M1114.5 362v2M1115.5 364v1M1116.5 365v1M1117.5 365v1M1118.5 366v1M1119.5 366v1M1120.5 366v1M1121.5 366v1M1122.5 365v1M1123.5 365v1M1124.5 363v3M1125.5 358v5M1126.5 353v5M1127.5 348v5M1128.5 343v5M1129.5 337v6M1130.5 332v5M1131.5 326v6M1132.5 321v5M1133.5 315v6M1134.5 309v6M1135.5 303v6M1136.5 299v4M1137.5 295v4M1138.5 291v4M1139.5 287v4M1140.5 282v5M1141.5 276v6M1142.5 271v5M1143.5 265v6M1144.5 260v5M1145.5 255v5M1146.5 250v5M1147.5 245v5M1148.5 240v5M1149.5 234v6M1150.5 228v6M1151.5 222v6M1152.5 217v5M1153.5 211v6M1154.5 206v5M1155.5 200v6M1156.5 195v5M1157.5 191v4M1158.5 186v5M1159.5 182v4M1160.5 178v4M1161.5 174v4M1162.5 171v3M1163.5 167v4M1164.5 164v3M1165.5 161v3M1166.5 159v2M1167.5 156v3M1168.5 154v2M1169.5 153v1M1170.5 152v1M1171.5 151v1M1172.5 149v2M1173.5 147v2M1174.5 145v2M1175.5 143v2M1176.5 141v2M1177.5 142v1M1178.5 143v2M1179.5 145v1M1180.5 146v1M1181.5 147v2M1182.5 149v1M1183.5 150v2M1184.5 152v2M1185.5 154v2M1186.5 156v2M1187.5 158v2M1188.5 160v3M1189.5 163v3M1190.5 166v2M1191.5 168v3M1192.5 171v4M1193.5 175v4M1194.5 179v4M1195.5 183v4M1196.5 187v3M1197.5 190v1M1198.5 191v2M1199.5 193v1M1200.5 194v1M1201.5 195v1M1202.5 196v1M1203.5 197v1M1204.5 198v2M1205.5 200v2M1206.5 202v2M1207.5 204v2M1208.5 206v2M1209.5 207v1M1210.5 207v1M1211.5 207v1M1212.5 206v2M1213.5 203v3M1214.5 201v2M1215.5 198v3M1216.5 196v2M1217.5 194v2M1218.5 192v2M1219.5 190v2M1220.5 189v1M1221.5 188v1M1222.5 187v1M1223.5 187v1M1224.5 186v1M1225.5 185v1M1226.5 184v1M1227.5 184v1M1228.5 183v1M1229.5 184v1M1230.5 185v1M1231.5 185v1M1232.5 186v2M1233.5 188v2M1234.5 190v2M1235.5 192v2M1236.5 194v2M1237.5 196v1M1238.5 197v1M1239.5 197v1M1240.5 198v1M1241.5 197v1M1242.5 196v1M1243.5 195v1M1244.5 194v1M1245.5 193v1M1246.5 192v1M1247.5 192v1M1248.5 191v1M1249.5 190v1M1250.5 190v1M1251.5 189v1M1252.5 189v1M1253.5 189v1M1254.5 190v1M1255.5 190v1M1256.5 190v1M1257.5 188v2M1258.5 186v2M1259.5 184v2M1260.5 183v1M1261.5 182v1M1262.5 180v2M1263.5 179v1M1264.5 178v1M1265.5 177v1M1266.5 176v1M1267.5 176v1M1268.5 175v1"/>
<rect x="4" y="175" width="1592" height="1" fill="#c0c0c0"/>
<polygon points="1272,28 1281,28 1276.5,33" fill="#c0c0c0" shape-rendering="auto"/>
</g>
<g shape-rendering="crispEdges">
<rect x="4" y="100" width="1593" height="2" fill="#ff0000"/>
<rect x="3" y="98" width="6" height="6" fill="#ff0000"/><rect x="5" y="100" width="2" height="2" fill="#fff"/>
<rect x="1590" y="98" width="6" height="6" fill="#ff0000"/><rect x="1592" y="100" width="2" height="2" fill="#fff"/>
<rect x="4" y="156" width="1593" height="2" fill="#ff0000"/>
<rect x="4" y="212" width="1593" height="2" fill="#00ff00"/>
<rect x="3" y="210" width="6" height="6" fill="#00ff00"/><rect x="5" y="212" width="2" height="2" fill="#fff"/>
<rect x="1590" y="210" width="6" height="6" fill="#00ff00"/><rect x="1592" y="212" width="2" height="2" fill="#fff"/>
<rect x="4" y="266" width="1593" height="2" fill="#0000ff"/>
<rect x="3" y="264" width="6" height="6" fill="#0000ff"/><rect x="5" y="266" width="2" height="2" fill="#fff"/>
<rect x="1590" y="264" width="6" height="6" fill="#0000ff"/><rect x="1592" y="266" width="2" height="2" fill="#fff"/>
<rect x="4" y="321" width="1593" height="2" fill="#0000ff"/>
<rect x="3" y="319" width="6" height="6" fill="#0000ff"/><rect x="5" y="321" width="2" height="2" fill="#fff"/>
<rect x="1590" y="319" width="6" height="6" fill="#0000ff"/><rect x="1592" y="321" width="2" height="2" fill="#fff"/>
</g>
<g clip-path="url(#cr)">
<line x1="5" y1="563.5" x2="1596" y2="563.5" stroke="#c0c0c0" stroke-width="1" stroke-dasharray="3,3" shape-rendering="crispEdges"/>
<line x1="5" y1="599.5" x2="1596" y2="599.5" stroke="#c0c0c0" stroke-width="1" stroke-dasharray="3,3" shape-rendering="crispEdges"/>
<path fill="none" stroke="#1e90ff" stroke-width="1" shape-rendering="crispEdges" d="M4.5 592v1M5.5 592v1M6.5 591v1M7.5 591v1M8.5 591v1M9.5 592v1M10.5 592v1M11.5 593v1M12.5 593v1M13.5 593v1M14.5 592v1M15.5 592v1M16.5 591v2M17.5 589v2M18.5 586v3M19.5 584v2M20.5 582v2M21.5 582v1M22.5 582v1M23.5 582v1M24.5 582v1M25.5 583v1M26.5 583v1M27.5 584v1M28.5 584v1M29.5 583v1M30.5 582v1M31.5 581v1M32.5 580v1M33.5 581v1M34.5 581v1M35.5 582v1M36.5 582v1M37.5 583v2M38.5 585v2M39.5 587v2M40.5 589v2M41.5 589v1M42.5 588v1M43.5 587v1M44.5 586v1M45.5 586v1M46.5 587v1M47.5 587v1M48.5 587v1M49.5 587v1M50.5 588v1M51.5 588v1M52.5 588v1M53.5 588v1M54.5 588v1M55.5 588v1M56.5 588v1M57.5 588v1M58.5 589v1M59.5 589v1M60.5 589v1M61.5 590v2M62.5 592v2M63.5 594v2M64.5 596v2M65.5 598v1M66.5 598v1M67.5 599v1M68.5 599v1M69.5 598v1M70.5 597v1M71.5 596v1M72.5 595v1M73.5 596v1M74.5 597v1M75.5 598v1M76.5 599v1M77.5 598v1M78.5 598v1M79.5 597v1M80.5 597v1M81.5 596v1M82.5 595v1M83.5 595v1M84.5 594v1M85.5 594v1M86.5 593v1M87.5 593v1M88.5 593v1M89.5 594v1M90.5 595v1M91.5 595v1M92.5 596v1M93.5 597v2M94.5 599v2M95.5 601v2M96.5 602v2M97.5 599v3M98.5 597v2M99.5 594v3M100.5 592v2M101.5 592v1M102.5 592v1M103.5 592v1M104.5 591v2M105.5 588v3M106.5 585v3M107.5 582v3M108.5 580v2M109.5 580v1M110.5 580v1M111.5 580v1M112.5 580v1M113.5 579v1M114.5 577v2M115.5 576v1M116.5 575v1M117.5 576v1M118.5 577v1M119.5 578v1M120.5 579v1M121.5 578v1M122.5 578v1M123.5 577v1M124.5 577v1M125.5 578v1M126.5 579v1M127.5 579v1M128.5 580v1M129.5 580v1M130.5 579v1M131.5 579v1M132.5 579v1M133.5 580v1M134.5 581v1M135.5 582v1M136.5 583v1M137.5 584v1M138.5 585v2M139.5 587v1M140.5 588v1M141.5 589v1M142.5 590v2M143.5 592v1M144.5 593v1M145.5 593v1M146.5 594v1M147.5 594v1M148.5 594v1M149.5 593v1M150.5 593v1M151.5 592v1M152.5 592v1M153.5 592v1M154.5 592v1M155.5 592v1M156.5 592v1M157.5 592v1M158.5 593v1M159.5 593v1M160.5 593v1M161.5 593v1M162.5 592v1M163.5 592v1M164.5 592v1M165.5 592v1M166.5 593v1M167.5 593v1M168.5 592v2M169.5 589v3M170.5 587v2M171.5 584v3M172.5 582v2M173.5 582v1M174.5 583v1M175.5 583v1M176.5 583v1M177.5 584v1M178.5 585v2M179.5 587v1M180.5 588v1M181.5 589v1M182.5 589v1M183.5 590v1M184.5 590v1M185.5 590v1M186.5 591v1M187.5 591v1M188.5 591v1M189.5 592v1M190.5 593v1M191.5 593v1M192.5 594v1M193.5 595v2M194.5 597v2M195.5 599v2M196.5 601v1M197.5 601v1M198.5 602v1M199.5 602v1M200.5 602v1M201.5 602v1M202.5 603v1M203.5 603v1M204.5 603v1M205.5 603v1M206.5 603v1M207.5 603v1M208.5 602v2M209.5 599v3M210.5 596v3M211.5 593v3M212.5 591v2M213.5 590v1M214.5 590v1M215.5 589v1M216.5 589v1M217.5 589v1M218.5 588v1M219.5 588v1M220.5 588v1M221.5 589v1M222.5 589v1M223.5 590v1M224.5 590v1M225.5 589v1M226.5 587v2M227.5 586v1M228.5 585v1M229.5 586v1M230.5 586v1M231.5 587v1M232.5 587v1M233.5 588v1M234.5 589v2M235.5 591v1M236.5 591v2M237.5 588v3M238.5 586v2M239.5 583v3M240.5 581v2M241.5 581v1M242.5 581v1M243.5 581v1M244.5 581v1M245.5 581v1M246.5 582v1M247.5 582v1M248.5 582v1M249.5 583v2M250.5 585v2M251.5 587v2M252.5 589v2M253.5 588v2M254.5 586v2M255.5 584v2M256.5 582v2M257.5 582v1M258.5 582v1M259.5 582v1M260.5 582v1M261.5 583v1M262.5 583v1M263.5 584v1M264.5 584v1M265.5 585v1M266.5 586v2M267.5 588v1M268.5 589v1M269.5 588v1M270.5 588v1M271.5 587v1M272.5 587v1M273.5 588v1M274.5 589v1M275.5 589v1M276.5 590v1M277.5 589v1M278.5 589v1M279.5 588v1M280.5 588v1M281.5 589v2M282.5 591v1M283.5 592v2M284.5 594v1M285.5 594v1M286.5 595v1M287.5 595v1M288.5 595v1M289.5 595v1M290.5 594v1M291.5 594v1M292.5 594v1M293.5 594v1M294.5 594v1M295.5 594v1M296.5 594v1M297.5 595v1M298.5 596v1M299.5 597v1M300.5 598v1M301.5 597v1M302.5 595v2M303.5 594v1M304.5 593v1M305.5 592v1M306.5 591v1M307.5 591v1M308.5 590v1M309.5 588v2M310.5 586v2M311.5 584v2M312.5 583v1M313.5 584v1M314.5 585v1M315.5 585v1M316.5 586v1M317.5 585v1M318.5 585v1M319.5 584v1M320.5 584v1M321.5 584v1M322.5 584v1M323.5 584v1M324.5 584v1M325.5 585v1M326.5 586v2M327.5 588v1M328.5 589v1M329.5 588v1M330.5 586v2M331.5 585v1M332.5 584v1M333.5 582v2M334.5 581v1M335.5 579v2M336.5 578v1M337.5 577v1M338.5 577v1M339.5 576v1M340.5 576v1M341.5 576v1M342.5 575v1M343.5 575v1M344.5 575v1M345.5 576v1M346.5 577v1M347.5 577v1M348.5 578v1M349.5 578v1M350.5 577v1M351.5 577v1M352.5 577v1M353.5 575v2M354.5 574v1M355.5 572v2M356.5 571v1M357.5 570v1M358.5 568v2M359.5 567v1M360.5 566v1M361.5 565v1M362.5 565v1M363.5 564v1M364.5 564v1M365.5 564v1M366.5 563v1M367.5 563v1M368.5 563v1M369.5 564v1M370.5 565v1M371.5 566v1M372.5 567v1M373.5 567v1M374.5 568v1M375.5 568v1M376.5 568v1M377.5 569v1M378.5 570v1M379.5 571v1M380.5 572v1M381.5 573v1M382.5 574v1M383.5 575v1M384.5 576v1M385.5 577v1M386.5 578v1M387.5 578v1M388.5 579v1M389.5 579v1M390.5 579v1M391.5 579v1M392.5 579v1M393.5 578v1M394.5 578v1M395.5 577v1M396.5 577v1M397.5 576v1M398.5 575v1M399.5 574v1M400.5 573v1M401.5 573v1M402.5 572v1M403.5 572v1M404.5 572v1M405.5 571v1M406.5 570v1M407.5 569v1M408.5 568v1M409.5 568v1M410.5 567v1M411.5 567v1M412.5 567v1M413.5 567v1M414.5 568v1M415.5 568v1M416.5 568v1M417.5 569v1M418.5 569v1M419.5 570v1M420.5 570v2M421.5 572v4M422.5 576v4M423.5 580v4M424.5 584v2M425.5 585v1M426.5 585v1M427.5 585v1M428.5 585v1M429.5 586v1M430.5 587v1M431.5 588v1M432.5 589v1M433.5 590v1M434.5 591v1M435.5 591v1M436.5 592v1M437.5 592v1M438.5 592v1M439.5 592v1M440.5 592v1M441.5 591v1M442.5 590v1M443.5 590v1M444.5 589v1M445.5 590v1M446.5 591v1M447.5 591v1M448.5 592v1M449.5 592v1M450.5 593v1M451.5 593v1M452.5 593v1M453.5 593v1M454.5 593v1M455.5 593v1M456.5 592v2M457.5 590v2M458.5 588v2M459.5 586v2M460.5 584v2M461.5 584v1M462.5 583v1M463.5 583v1M464.5 583v1M465.5 582v1M466.5 580v2M467.5 579v1M468.5 578v1M469.5 578v1M470.5 579v1M471.5 579v1M472.5 579v1M473.5 580v1M474.5 581v2M475.5 583v1M476.5 584v1M477.5 583v1M478.5 582v1M479.5 581v1M480.5 580v1M481.5 581v2M482.5 583v2M483.5 585v2M484.5 587v1M485.5 587v1M486.5 588v1M487.5 588v1M488.5 588v1M489.5 589v1M490.5 589v1M491.5 590v1M492.5 590v1M493.5 590v1M494.5 591v1M495.5 591v1M496.5 591v1M497.5 591v1M498.5 592v1M499.5 592v1M500.5 592v1M501.5 591v1M502.5 591v1M503.5 590v1M504.5 590v1M505.5 589v1M506.5 587v2M507.5 586v1M508.5 585v1M509.5 586v1M510.5 587v1M511.5 587v1M512.5 587v2M513.5 584v3M514.5 582v2M515.5 579v3M516.5 577v2M517.5 576v1M518.5 576v1M519.5 575v1M520.5 575v1M521.5 575v1M522.5 574v1M523.5 574v1M524.5 574v1M525.5 574v1M526.5 574v1M527.5 574v1M528.5 574v1M529.5 575v2M530.5 577v2M531.5 579v2M532.5 581v2M533.5 582v1M534.5 582v1M535.5 582v1M536.5 582v1M537.5 581v1M538.5 580v1M539.5 579v1M540.5 578v1M541.5 577v1M542.5 576v1M543.5 576v1M544.5 575v1M545.5 576v1M546.5 576v1M547.5 577v1M548.5 577v1M549.5 575v2M550.5 574v1M551.5 572v2M552.5 571v1M553.5 570v1M554.5 570v1M555.5 569v1M556.5 569v1M557.5 570v1M558.5 571v1M559.5 572v1M560.5 573v1M561.5 572v1M562.5 571v1M563.5 571v1M564.5 570v1M565.5 569v1M566.5 569v1M567.5 568v1M568.5 568v1M569.5 569v2M570.5 571v1M571.5 572v2M572.5 574v1M573.5 575v1M574.5 576v1M575.5 576v1M576.5 577v1M577.5 578v1M578.5 579v2M579.5 581v1M580.5 582v1M581.5 583v1M582.5 584v1M583.5 584v1M584.5 585v1M585.5 584v1M586.5 583v1M587.5 582v1M588.5 581v1M589.5 581v1M590.5 581v1M591.5 581v1M592.5 581v1M593.5 582v1M594.5 582v1M595.5 583v1M596.5 583v1M597.5 582v1M598.5 581v1M599.5 580v1M600.5 578v2M601.5 576v2M602.5 574v2M603.5 572v2M604.5 570v2M605.5 569v1M606.5 569v1M607.5 568v1M608.5 568v1M609.5 567v1M610.5 567v1M611.5 566v1M612.5 566v1M613.5 565v1M614.5 564v1M615.5 564v1M616.5 563v1M617.5 564v1M618.5 564v1M619.5 565v1M620.5 565v1M621.5 566v1M622.5 567v1M623.5 568v1M624.5 569v1M625.5 570v2M626.5 572v2M627.5 574v2M628.5 576v1M629.5 576v1M630.5 576v1M631.5 576v1M632.5 576v1M633.5 575v1M634.5 574v1M635.5 574v1M636.5 573v1M637.5 574v2M638.5 576v2M639.5 578v2M640.5 580v2M641.5 582v1M642.5 583v1M643.5 584v1M644.5 585v1M645.5 586v1M646.5 586v1M647.5 587v1M648.5 587v1M649.5 586v1M650.5 586v1M651.5 585v1M652.5 585v1M653.5 584v1M654.5 584v1M655.5 583v1M656.5 583v1M657.5 582v1M658.5 582v1M659.5 581v1M660.5 581v1M661.5 582v1M662.5 583v1M663.5 583v1M664.5 584v1M665.5 582v2M666.5 581v1M667.5 579v2M668.5 578v1M669.5 579v1M670.5 579v1M671.5 580v1M672.5 580v1M673.5 581v2M674.5 583v2M675.5 585v2M676.5 587v2M677.5 588v1M678.5 588v1M679.5 588v1M680.5 588v1M681.5 589v1M682.5 589v1M683.5 590v1M684.5 590v1M685.5 589v1M686.5 588v1M687.5 587v1M688.5 586v1M689.5 587v1M690.5 588v1M691.5 589v1M692.5 590v1M693.5 591v1M694.5 592v1M695.5 593v1M696.5 594v1M697.5 595v1M698.5 595v1M699.5 596v1M700.5 596v1M701.5 596v1M702.5 595v1M703.5 595v1M704.5 595v1M705.5 596v1M706.5 596v1M707.5 597v1M708.5 597v1M709.5 598v1M710.5 598v1M711.5 599v1M712.5 599v1M713.5 599v1M714.5 598v1M715.5 598v1M716.5 598v1M717.5 596v2M718.5 594v2M719.5 592v2M720.5 589v3M721.5 587v2M722.5 585v2M723.5 583v2M724.5 581v2M725.5 581v1M726.5 580v1M727.5 580v1M728.5 580v1M729.5 581v2M730.5 583v1M731.5 584v2M732.5 586v1M733.5 587v1M734.5 587v1M735.5 588v1M736.5 588v1M737.5 589v1M738.5 590v2M739.5 592v1M740.5 593v1M741.5 594v1M742.5 595v1M743.5 595v1M744.5 596v1M745.5 596v1M746.5 597v1M747.5 597v1M748.5 597v1M749.5 598v1M750.5 598v1M751.5 599v1M752.5 599v1M753.5 600v1M754.5 600v1M755.5 601v1M756.5 601v1M757.5 601v1M758.5 602v1M759.5 602v1M760.5 602v1M761.5 603v1M762.5 603v1M763.5 604v1M764.5 604v1M765.5 605v1M766.5 606v1M767.5 607v1M768.5 608v1M769.5 608v1M770.5 608v1M771.5 608v1M772.5 608v1M773.5 608v1M774.5 608v1M775.5 608v1M776.5 608v1M777.5 608v1M778.5 609v1M779.5 609v1M780.5 609v1M781.5 609v1M782.5 609v1M783.5 609v1M784.5 609v1M785.5 610v1M786.5 610v1M787.5 611v1M788.5 611v1M789.5 610v1M790.5 609v1M791.5 609v1M792.5 607v2M793.5 604v3M794.5 600v4M795.5 597v3M796.5 595v2M797.5 595v1M798.5 595v1M799.5 595v1M800.5 595v1M801.5 595v1M802.5 595v1M803.5 595v1M804.5 595v1M805.5 594v1M806.5 594v1M807.5 593v1M808.5 593v1M809.5 593v1M810.5 593v1M811.5 593v1M812.5 591v3M813.5 586v5M814.5 580v6M815.5 575v5M816.5 572v3M817.5 572v1M818.5 572v1M819.5 572v1M820.5 572v1M821.5 571v1M822.5 569v2M823.5 568v1M824.5 567v1M825.5 565v2M826.5 563v2M827.5 561v2M828.5 560v1M829.5 559v1M830.5 558v1M831.5 558v1M832.5 557v1M833.5 558v2M834.5 560v2M835.5 562v2M836.5 564v1M837.5 563v1M838.5 562v1M839.5 562v1M840.5 561v1M841.5 559v2M842.5 558v1M843.5 556v2M844.5 555v1M845.5 555v1M846.5 555v1M847.5 555v1M848.5 555v1M849.5 554v1M850.5 553v1M851.5 553v1M852.5 552v2M853.5 554v2M854.5 556v2M855.5 558v2M856.5 560v2M857.5 562v2M858.5 564v2M859.5 566v2M860.5 568v2M861.5 570v4M862.5 574v4M863.5 578v4M864.5 582v2M865.5 583v1M866.5 584v1M867.5 584v1M868.5 584v1M869.5 584v1M870.5 583v1M871.5 583v1M872.5 583v1M873.5 582v1M874.5 581v1M875.5 580v1M876.5 579v2M877.5 581v2M878.5 583v3M879.5 586v2M880.5 588v2M881.5 590v2M882.5 592v1M883.5 593v2M884.5 595v1M885.5 596v1M886.5 597v1M887.5 598v1M888.5 599v1M889.5 599v1M890.5 600v1M891.5 600v1M892.5 600v1M893.5 600v1M894.5 601v1M895.5 601v1M896.5 601v1M897.5 599v2M898.5 597v2M899.5 595v2M900.5 593v2M901.5 592v1M902.5 592v1M903.5 591v1M904.5 591v1M905.5 590v1M906.5 589v1M907.5 589v1M908.5 587v2M909.5 585v2M910.5 582v3M911.5 580v2M912.5 578v2M913.5 578v1M914.5 577v1M915.5 577v1M916.5 577v1M917.5 576v1M918.5 575v1M919.5 575v1M920.5 574v1M921.5 575v2M922.5 577v1M923.5 578v2M924.5 580v1M925.5 580v1M926.5 580v1M927.5 580v1M928.5 580v1M929.5 581v1M930.5 582v1M931.5 583v1M932.5 584v1M933.5 585v1M934.5 586v1M935.5 587v1M936.5 588v1M937.5 589v1M938.5 589v1M939.5 590v1M940.5 590v1M941.5 590v1M942.5 589v1M943.5 589v1M944.5 589v1M945.5 589v1M946.5 590v1M947.5 590v1M948.5 590v1M949.5 588v2M950.5 587v1M951.5 585v2M952.5 584v1M953.5 585v1M954.5 585v1M955.5 586v1M956.5 586v1M957.5 585v1M958.5 584v1M959.5 583v1M960.5 582v1M961.5 582v1M962.5 581v1M963.5 581v1M964.5 581v1M965.5 581v1M966.5 582v1M967.5 582v1M968.5 582v1M969.5 583v1M970.5 583v1M971.5 584v1M972.5 584v1M973.5 583v1M974.5 581v2M975.5 580v1M976.5 579v1M977.5 580v1M978.5 581v1M979.5 582v1M980.5 583v1M981.5 584v1M982.5 585v1M983.5 586v1M984.5 587v1M985.5 586v1M986.5 585v1M987.5 585v1M988.5 584v1M989.5 584v1M990.5 585v1M991.5 585v1M992.5 585v1M993.5 585v1M994.5 585v1M995.5 585v1M996.5 585v1M997.5 585v1M998.5 586v1M999.5 586v1M1000.5 586v1M1001.5 587v1M1002.5 587v1M1003.5 588v1M1004.5 588v1M1005.5 588v1M1006.5 589v1M1007.5 589v1M1008.5 589v1M1009.5 589v1M1010.5 590v1M1011.5 590v1M1012.5 590v1M1013.5 590v1M1014.5 590v1M1015.5 590v1M1016.5 590v1M1017.5 589v1M1018.5 588v1M1019.5 588v1M1020.5 587v1M1021.5 587v1M1022.5 586v1M1023.5 586v1M1024.5 586v1M1025.5 585v1M1026.5 585v1M1027.5 584v1M1028.5 584v1M1029.5 582v2M1030.5 580v2M1031.5 578v2M1032.5 577v1M1033.5 576v1M1034.5 574v2M1035.5 573v1M1036.5 572v1M1037.5 573v1M1038.5 573v1M1039.5 574v1M1040.5 574v1M1041.5 575v2M1042.5 577v1M1043.5 578v2M1044.5 580v1M1045.5 581v2M1046.5 583v1M1047.5 584v2M1048.5 586v1M1049.5 587v1M1050.5 588v1M1051.5 588v1M1052.5 589v1M1053.5 589v1M1054.5 588v1M1055.5 588v1M1056.5 588v1M1057.5 587v1M1058.5 586v1M1059.5 585v1M1060.5 584v1M1061.5 584v1M1062.5 585v1M1063.5 585v1M1064.5 585v1M1065.5 586v1M1066.5 586v1M1067.5 587v1M1068.5 587v1M1069.5 586v1M1070.5 585v1M1071.5 584v1M1072.5 583v1M1073.5 584v1M1074.5 584v1M1075.5 585v1M1076.5 585v1M1077.5 586v1M1078.5 587v1M1079.5 587v1M1080.5 588v1M1081.5 587v1M1082.5 587v1M1083.5 586v1M1084.5 586v1M1085.5 586v1M1086.5 587v1M1087.5 587v1M1088.5 586v2M1089.5 584v2M1090.5 582v2M1091.5 580v2M1092.5 578v2M1093.5 577v1M1094.5 576v1M1095.5 576v1M1096.5 575v1M1097.5 574v1M1098.5 573v1M1099.5 573v1M1100.5 572v1M1101.5 573v1M1102.5 574v1M1103.5 574v1M1104.5 575v1M1105.5 576v2M1106.5 578v1M1107.5 579v2M1108.5 581v1M1109.5 581v1M1110.5 580v1M1111.5 580v1M1112.5 580v1M1113.5 580v1M1114.5 581v1M1115.5 581v1M1116.5 581v1M1117.5 579v2M1118.5 577v2M1119.5 575v2M1120.5 574v1M1121.5 574v1M1122.5 574v1M1123.5 574v1M1124.5 574v1M1125.5 572v2M1126.5 570v2M1127.5 568v2M1128.5 567v1M1129.5 566v1M1130.5 566v1M1131.5 565v1M1132.5 565v1M1133.5 565v1M1134.5 566v1M1135.5 566v1M1136.5 566v1M1137.5 566v1M1138.5 565v1M1139.5 565v1M1140.5 565v1M1141.5 564v1M1142.5 563v1M1143.5 563v1M1144.5 562v1M1145.5 561v1M1146.5 560v1M1147.5 559v1M1148.5 558v1M1149.5 557v1M1150.5 556v1M1151.5 556v1M1152.5 555v1M1153.5 556v1M1154.5 557v1M1155.5 558v1M1156.5 559v1M1157.5 559v1M1158.5 559v1M1159.5 559v1M1160.5 559v1M1161.5 559v1M1162.5 559v1M1163.5 559v1M1164.5 559v1M1165.5 558v1M1166.5 558v1M1167.5 557v1M1168.5 557v1M1169.5 557v1M1170.5 557v1M1171.5 557v1M1172.5 557v1M1173.5 557v1M1174.5 556v1M1175.5 556v1M1176.5 556v2M1177.5 558v4M1178.5 562v4M1179.5 566v4M1180.5 570v2M1181.5 572v1M1182.5 573v1M1183.5 573v1M1184.5 574v1M1185.5 573v1M1186.5 572v1M1187.5 572v1M1188.5 571v1M1189.5 571v1M1190.5 572v1M1191.5 572v1M1192.5 572v1M1193.5 573v1M1194.5 574v1M1195.5 575v1M1196.5 576v1M1197.5 576v1M1198.5 577v1M1199.5 577v1M1200.5 577v1M1201.5 578v1M1202.5 579v1M1203.5 579v1M1204.5 580v1M1205.5 580v1M1206.5 580v1M1207.5 580v1M1208.5 580v1M1209.5 578v2M1210.5 576v2M1211.5 574v2M1212.5 573v1M1213.5 572v1M1214.5 571v1M1215.5 570v1M1216.5 569v1M1217.5 570v2M1218.5 572v1M1219.5 573v2M1220.5 575v1M1221.5 576v1M1222.5 577v1M1223.5 578v1M1224.5 579v1M1225.5 579v1M1226.5 580v1M1227.5 580v1M1228.5 580v1M1229.5 580v1M1230.5 579v1M1231.5 579v1M1232.5 579v1M1233.5 579v1M1234.5 578v1M1235.5 578v1M1236.5 578v1M1237.5 578v1M1238.5 578v1M1239.5 578v1M1240.5 578v1M1241.5 577v1M1242.5 577v1M1243.5 576v1M1244.5 576v1M1245.5 577v1M1246.5 577v1M1247.5 578v1M1248.5 578v1M1249.5 578v1M1250.5 578v1M1251.5 578v1M1252.5 578v1M1253.5 578v1M1254.5 579v1M1255.5 579v1M1256.5 579v1M1257.5 577v2M1258.5 575v2M1259.5 573v2M1260.5 571v2M1261.5 572v1M1262.5 572v1M1263.5 573v1M1264.5 573v1M1265.5 574v1M1266.5 575v1M1267.5 575v1M1268.5 576v1"/>
</g>
<g clip-path="url(#cd)" shape-rendering="crispEdges">
<rect x="4" y="681" width="1" height="4" fill="#c0c0c0"/>
<rect x="8" y="684" width="1" height="1" fill="#c0c0c0"/>
<rect x="12" y="684" width="1" height="3" fill="#c0c0c0"/>
<rect x="16" y="684" width="1" height="5" fill="#c0c0c0"/>
<rect x="20" y="684" width="1" height="5" fill="#c0c0c0"/>
<rect x="24" y="684" width="1" height="5" fill="#c0c0c0"/>
<rect x="28" y="684" width="1" height="5" fill="#c0c0c0"/>
<rect x="32" y="684" width="1" height="4" fill="#c0c0c0"/>
<rect x="36" y="684" width="1" height="4" fill="#c0c0c0"/>
<rect x="40" y="684" width="1" height="6" fill="#c0c0c0"/>
<rect x="44" y="684" width="1" height="6" fill="#c0c0c0"/>
<rect x="48" y="684" width="1" height="7" fill="#c0c0c0"/>
<rect x="52" y="684" width="1" height="7" fill="#c0c0c0"/>
<rect x="56" y="684" width="1" height="8" fill="#c0c0c0"/>
<rect x="60" y="684" width="1" height="8" fill="#c0c0c0"/>
<rect x="64" y="684" width="1" height="10" fill="#c0c0c0"/>
<rect x="68" y="684" width="1" height="12" fill="#c0c0c0"/>
<rect x="72" y="684" width="1" height="13" fill="#c0c0c0"/>
<rect x="76" y="684" width="1" height="15" fill="#c0c0c0"/>
<rect x="80" y="684" width="1" height="16" fill="#c0c0c0"/>
<rect x="84" y="684" width="1" height="16" fill="#c0c0c0"/>
<rect x="88" y="684" width="1" height="16" fill="#c0c0c0"/>
<rect x="92" y="684" width="1" height="16" fill="#c0c0c0"/>
<rect x="96" y="684" width="1" height="18" fill="#c0c0c0"/>
<rect x="100" y="684" width="1" height="18" fill="#c0c0c0"/>
<rect x="104" y="684" width="1" height="18" fill="#c0c0c0"/>
<rect x="108" y="684" width="1" height="15" fill="#c0c0c0"/>
<rect x="112" y="684" width="1" height="12" fill="#c0c0c0"/>
<rect x="116" y="684" width="1" height="9" fill="#c0c0c0"/>
<rect x="120" y="684" width="1" height="7" fill="#c0c0c0"/>
<rect x="124" y="684" width="1" height="5" fill="#c0c0c0"/>
<rect x="128" y="684" width="1" height="4" fill="#c0c0c0"/>
<rect x="132" y="684" width="1" height="3" fill="#c0c0c0"/>
<rect x="136" y="684" width="1" height="3" fill="#c0c0c0"/>
<rect x="140" y="684" width="1" height="4" fill="#c0c0c0"/>
<rect x="144" y="684" width="1" height="7" fill="#c0c0c0"/>
<rect x="148" y="684" width="1" height="9" fill="#c0c0c0"/>
<rect x="152" y="684" width="1" height="10" fill="#c0c0c0"/>
<rect x="156" y="684" width="1" height="11" fill="#c0c0c0"/>
<rect x="160" y="684" width="1" height="12" fill="#c0c0c0"/>
<rect x="164" y="684" width="1" height="12" fill="#c0c0c0"/>
<rect x="168" y="684" width="1" height="13" fill="#c0c0c0"/>
<rect x="172" y="684" width="1" height="11" fill="#c0c0c0"/>
<rect x="176" y="684" width="1" height="10" fill="#c0c0c0"/>
<rect x="180" y="684" width="1" height="10" fill="#c0c0c0"/>
<rect x="184" y="684" width="1" height="10" fill="#c0c0c0"/>
<rect x="188" y="684" width="1" height="11" fill="#c0c0c0"/>
<rect x="192" y="684" width="1" height="12" fill="#c0c0c0"/>
<rect x="196" y="684" width="1" height="15" fill="#c0c0c0"/>
<rect x="200" y="684" width="1" height="17" fill="#c0c0c0"/>
<rect x="204" y="684" width="1" height="20" fill="#c0c0c0"/>
<rect x="208" y="684" width="1" height="21" fill="#c0c0c0"/>
<rect x="212" y="684" width="1" height="20" fill="#c0c0c0"/>
<rect x="216" y="684" width="1" height="19" fill="#c0c0c0"/>
<rect x="220" y="684" width="1" height="17" fill="#c0c0c0"/>
<rect x="224" y="684" width="1" height="16" fill="#c0c0c0"/>
<rect x="228" y="684" width="1" height="15" fill="#c0c0c0"/>
<rect x="232" y="684" width="1" height="14" fill="#c0c0c0"/>
<rect x="236" y="684" width="1" height="14" fill="#c0c0c0"/>
<rect x="240" y="684" width="1" height="12" fill="#c0c0c0"/>
<rect x="244" y="684" width="1" height="10" fill="#c0c0c0"/>
<rect x="248" y="684" width="1" height="9" fill="#c0c0c0"/>
<rect x="252" y="684" width="1" height="10" fill="#c0c0c0"/>
<rect x="256" y="684" width="1" height="8" fill="#c0c0c0"/>
<rect x="260" y="684" width="1" height="7" fill="#c0c0c0"/>
<rect x="264" y="684" width="1" height="7" fill="#c0c0c0"/>
<rect x="268" y="684" width="1" height="8" fill="#c0c0c0"/>
<rect x="272" y="684" width="1" height="8" fill="#c0c0c0"/>
<rect x="276" y="684" width="1" height="9" fill="#c0c0c0"/>
<rect x="280" y="684" width="1" height="10" fill="#c0c0c0"/>
<rect x="284" y="684" width="1" height="11" fill="#c0c0c0"/>
<rect x="288" y="684" width="1" height="13" fill="#c0c0c0"/>
<rect x="292" y="684" width="1" height="14" fill="#c0c0c0"/>
<rect x="296" y="684" width="1" height="15" fill="#c0c0c0"/>
<rect x="300" y="684" width="1" height="17" fill="#c0c0c0"/>
<rect x="304" y="684" width="1" height="17" fill="#c0c0c0"/>
<rect x="308" y="684" width="1" height="16" fill="#c0c0c0"/>
<rect x="312" y="684" width="1" height="14" fill="#c0c0c0"/>
<rect x="316" y="684" width="1" height="13" fill="#c0c0c0"/>
<rect x="320" y="684" width="1" height="12" fill="#c0c0c0"/>
<rect x="324" y="684" width="1" height="11" fill="#c0c0c0"/>
<rect x="328" y="684" width="1" height="11" fill="#c0c0c0"/>
<rect x="332" y="684" width="1" height="10" fill="#c0c0c0"/>
<rect x="336" y="684" width="1" height="7" fill="#c0c0c0"/>
<rect x="340" y="684" width="1" height="5" fill="#c0c0c0"/>
<rect x="344" y="684" width="1" height="3" fill="#c0c0c0"/>
<rect x="348" y="684" width="1" height="2" fill="#c0c0c0"/>
<rect x="352" y="684" width="1" height="1" fill="#c0c0c0"/>
<rect x="356" y="682" width="1" height="3" fill="#c0c0c0"/>
<rect x="360" y="678" width="1" height="7" fill="#c0c0c0"/>
<rect x="364" y="675" width="1" height="10" fill="#c0c0c0"/>
<rect x="368" y="672" width="1" height="13" fill="#c0c0c0"/>
<rect x="372" y="671" width="1" height="14" fill="#c0c0c0"/>
<rect x="376" y="670" width="1" height="15" fill="#c0c0c0"/>
<rect x="380" y="670" width="1" height="15" fill="#c0c0c0"/>
<rect x="384" y="671" width="1" height="14" fill="#c0c0c0"/>
<rect x="388" y="672" width="1" height="13" fill="#c0c0c0"/>
<rect x="392" y="674" width="1" height="11" fill="#c0c0c0"/>
<rect x="396" y="674" width="1" height="11" fill="#c0c0c0"/>
<rect x="400" y="674" width="1" height="11" fill="#c0c0c0"/>
<rect x="404" y="674" width="1" height="11" fill="#c0c0c0"/>
<rect x="408" y="673" width="1" height="12" fill="#c0c0c0"/>
<rect x="412" y="672" width="1" height="13" fill="#c0c0c0"/>
<rect x="416" y="671" width="1" height="14" fill="#c0c0c0"/>
<rect x="420" y="671" width="1" height="14" fill="#c0c0c0"/>
<rect x="424" y="674" width="1" height="11" fill="#c0c0c0"/>
<rect x="428" y="676" width="1" height="9" fill="#c0c0c0"/>
<rect x="432" y="679" width="1" height="6" fill="#c0c0c0"/>
<rect x="436" y="682" width="1" height="3" fill="#c0c0c0"/>
<rect x="440" y="684" width="1" height="2" fill="#c0c0c0"/>
<rect x="444" y="684" width="1" height="3" fill="#c0c0c0"/>
<rect x="448" y="684" width="1" height="5" fill="#c0c0c0"/>
<rect x="452" y="684" width="1" height="6" fill="#c0c0c0"/>
<rect x="456" y="684" width="1" height="8" fill="#c0c0c0"/>
<rect x="460" y="684" width="1" height="7" fill="#c0c0c0"/>
<rect x="464" y="684" width="1" height="6" fill="#c0c0c0"/>
<rect x="468" y="684" width="1" height="5" fill="#c0c0c0"/>
<rect x="472" y="684" width="1" height="4" fill="#c0c0c0"/>
<rect x="476" y="684" width="1" height="4" fill="#c0c0c0"/>
<rect x="480" y="684" width="1" height="3" fill="#c0c0c0"/>
<rect x="484" y="684" width="1" height="4" fill="#c0c0c0"/>
<rect x="488" y="684" width="1" height="5" fill="#c0c0c0"/>
<rect x="492" y="684" width="1" height="6" fill="#c0c0c0"/>
<rect x="496" y="684" width="1" height="7" fill="#c0c0c0"/>
<rect x="500" y="684" width="1" height="7" fill="#c0c0c0"/>
<rect x="504" y="684" width="1" height="8" fill="#c0c0c0"/>
<rect x="508" y="684" width="1" height="7" fill="#c0c0c0"/>
<rect x="512" y="684" width="1" height="7" fill="#c0c0c0"/>
<rect x="516" y="684" width="1" height="6" fill="#c0c0c0"/>
<rect x="520" y="684" width="1" height="4" fill="#c0c0c0"/>
<rect x="524" y="684" width="1" height="2" fill="#c0c0c0"/>
<rect x="528" y="684" width="1" height="1" fill="#c0c0c0"/>
<rect x="532" y="684" width="1" height="1" fill="#c0c0c0"/>
<rect x="536" y="684" width="1" height="1" fill="#c0c0c0"/>
<rect x="540" y="683" width="1" height="2" fill="#c0c0c0"/>
<rect x="544" y="682" width="1" height="3" fill="#c0c0c0"/>
<rect x="548" y="682" width="1" height="3" fill="#c0c0c0"/>
<rect x="552" y="680" width="1" height="5" fill="#c0c0c0"/>
<rect x="556" y="679" width="1" height="6" fill="#c0c0c0"/>
<rect x="560" y="678" width="1" height="7" fill="#c0c0c0"/>
<rect x="564" y="677" width="1" height="8" fill="#c0c0c0"/>
<rect x="568" y="676" width="1" height="9" fill="#c0c0c0"/>
<rect x="572" y="676" width="1" height="9" fill="#c0c0c0"/>
<rect x="576" y="676" width="1" height="9" fill="#c0c0c0"/>
<rect x="580" y="677" width="1" height="8" fill="#c0c0c0"/>
<rect x="584" y="679" width="1" height="6" fill="#c0c0c0"/>
<rect x="588" y="680" width="1" height="5" fill="#c0c0c0"/>
<rect x="592" y="681" width="1" height="4" fill="#c0c0c0"/>
<rect x="596" y="681" width="1" height="4" fill="#c0c0c0"/>
<rect x="600" y="681" width="1" height="4" fill="#c0c0c0"/>
<rect x="604" y="679" width="1" height="6" fill="#c0c0c0"/>
<rect x="608" y="677" width="1" height="8" fill="#c0c0c0"/>
<rect x="612" y="675" width="1" height="10" fill="#c0c0c0"/>
<rect x="616" y="673" width="1" height="12" fill="#c0c0c0"/>
<rect x="620" y="671" width="1" height="14" fill="#c0c0c0"/>
<rect x="624" y="671" width="1" height="14" fill="#c0c0c0"/>
<rect x="628" y="672" width="1" height="13" fill="#c0c0c0"/>
<rect x="632" y="673" width="1" height="12" fill="#c0c0c0"/>
<rect x="636" y="673" width="1" height="12" fill="#c0c0c0"/>
<rect x="640" y="675" width="1" height="10" fill="#c0c0c0"/>
<rect x="644" y="677" width="1" height="8" fill="#c0c0c0"/>
<rect x="648" y="679" width="1" height="6" fill="#c0c0c0"/>
<rect x="652" y="680" width="1" height="5" fill="#c0c0c0"/>
<rect x="656" y="681" width="1" height="4" fill="#c0c0c0"/>
<rect x="660" y="682" width="1" height="3" fill="#c0c0c0"/>
<rect x="664" y="683" width="1" height="2" fill="#c0c0c0"/>
<rect x="668" y="682" width="1" height="3" fill="#c0c0c0"/>
<rect x="672" y="682" width="1" height="3" fill="#c0c0c0"/>
<rect x="676" y="684" width="1" height="1" fill="#c0c0c0"/>
<rect x="680" y="684" width="1" height="2" fill="#c0c0c0"/>
<rect x="684" y="684" width="1" height="4" fill="#c0c0c0"/>
<rect x="688" y="684" width="1" height="4" fill="#c0c0c0"/>
<rect x="692" y="684" width="1" height="5" fill="#c0c0c0"/>
<rect x="696" y="684" width="1" height="7" fill="#c0c0c0"/>
<rect x="700" y="684" width="1" height="9" fill="#c0c0c0"/>
<rect x="704" y="684" width="1" height="10" fill="#c0c0c0"/>
<rect x="708" y="684" width="1" height="12" fill="#c0c0c0"/>
<rect x="712" y="684" width="1" height="13" fill="#c0c0c0"/>
<rect x="716" y="684" width="1" height="14" fill="#c0c0c0"/>
<rect x="720" y="684" width="1" height="14" fill="#c0c0c0"/>
<rect x="724" y="684" width="1" height="12" fill="#c0c0c0"/>
<rect x="728" y="684" width="1" height="10" fill="#c0c0c0"/>
<rect x="732" y="684" width="1" height="9" fill="#c0c0c0"/>
<rect x="736" y="684" width="1" height="9" fill="#c0c0c0"/>
<rect x="740" y="684" width="1" height="10" fill="#c0c0c0"/>
<rect x="744" y="684" width="1" height="12" fill="#c0c0c0"/>
<rect x="748" y="684" width="1" height="14" fill="#c0c0c0"/>
<rect x="752" y="684" width="1" height="15" fill="#c0c0c0"/>
<rect x="756" y="684" width="1" height="17" fill="#c0c0c0"/>
<rect x="760" y="684" width="1" height="19" fill="#c0c0c0"/>
<rect x="764" y="684" width="1" height="20" fill="#c0c0c0"/>
<rect x="768" y="684" width="1" height="23" fill="#c0c0c0"/>
<rect x="772" y="684" width="1" height="25" fill="#c0c0c0"/>
<rect x="776" y="684" width="1" height="26" fill="#c0c0c0"/>
<rect x="780" y="684" width="1" height="27" fill="#c0c0c0"/>
<rect x="784" y="684" width="1" height="28" fill="#c0c0c0"/>
<rect x="788" y="684" width="1" height="29" fill="#c0c0c0"/>
<rect x="792" y="684" width="1" height="30" fill="#c0c0c0"/>
<rect x="796" y="684" width="1" height="28" fill="#c0c0c0"/>
<rect x="800" y="684" width="1" height="26" fill="#c0c0c0"/>
<rect x="804" y="684" width="1" height="25" fill="#c0c0c0"/>
<rect x="808" y="684" width="1" height="23" fill="#c0c0c0"/>
<rect x="812" y="684" width="1" height="21" fill="#c0c0c0"/>
<rect x="816" y="684" width="1" height="16" fill="#c0c0c0"/>
<rect x="820" y="684" width="1" height="11" fill="#c0c0c0"/>
<rect x="824" y="684" width="1" height="7" fill="#c0c0c0"/>
<rect x="828" y="682" width="1" height="3" fill="#c0c0c0"/>
<rect x="832" y="675" width="1" height="10" fill="#c0c0c0"/>
<rect x="836" y="671" width="1" height="14" fill="#c0c0c0"/>
<rect x="840" y="666" width="1" height="19" fill="#c0c0c0"/>
<rect x="844" y="659" width="1" height="26" fill="#c0c0c0"/>
<rect x="848" y="653" width="1" height="32" fill="#c0c0c0"/>
<rect x="852" y="646" width="1" height="39" fill="#c0c0c0"/>
<rect x="856" y="643" width="1" height="42" fill="#c0c0c0"/>
<rect x="860" y="643" width="1" height="42" fill="#c0c0c0"/>
<rect x="864" y="650" width="1" height="35" fill="#c0c0c0"/>
<rect x="868" y="656" width="1" height="29" fill="#c0c0c0"/>
<rect x="872" y="662" width="1" height="23" fill="#c0c0c0"/>
<rect x="876" y="664" width="1" height="21" fill="#c0c0c0"/>
<rect x="880" y="671" width="1" height="14" fill="#c0c0c0"/>
<rect x="884" y="681" width="1" height="4" fill="#c0c0c0"/>
<rect x="888" y="684" width="1" height="11" fill="#c0c0c0"/>
<rect x="892" y="684" width="1" height="21" fill="#c0c0c0"/>
<rect x="896" y="684" width="1" height="29" fill="#c0c0c0"/>
<rect x="900" y="684" width="1" height="33" fill="#c0c0c0"/>
<rect x="904" y="684" width="1" height="33" fill="#c0c0c0"/>
<rect x="908" y="684" width="1" height="32" fill="#c0c0c0"/>
<rect x="912" y="684" width="1" height="25" fill="#c0c0c0"/>
<rect x="916" y="684" width="1" height="18" fill="#c0c0c0"/>
<rect x="920" y="684" width="1" height="11" fill="#c0c0c0"/>
<rect x="924" y="684" width="1" height="8" fill="#c0c0c0"/>
<rect x="928" y="684" width="1" height="6" fill="#c0c0c0"/>
<rect x="932" y="684" width="1" height="7" fill="#c0c0c0"/>
<rect x="936" y="684" width="1" height="10" fill="#c0c0c0"/>
<rect x="940" y="684" width="1" height="14" fill="#c0c0c0"/>
<rect x="944" y="684" width="1" height="17" fill="#c0c0c0"/>
<rect x="948" y="684" width="1" height="19" fill="#c0c0c0"/>
<rect x="952" y="684" width="1" height="18" fill="#c0c0c0"/>
<rect x="956" y="684" width="1" height="17" fill="#c0c0c0"/>
<rect x="960" y="684" width="1" height="15" fill="#c0c0c0"/>
<rect x="964" y="684" width="1" height="12" fill="#c0c0c0"/>
<rect x="968" y="684" width="1" height="10" fill="#c0c0c0"/>
<rect x="972" y="684" width="1" height="10" fill="#c0c0c0"/>
<rect x="976" y="684" width="1" height="7" fill="#c0c0c0"/>
<rect x="980" y="684" width="1" height="7" fill="#c0c0c0"/>
<rect x="984" y="684" width="1" height="9" fill="#c0c0c0"/>
<rect x="988" y="684" width="1" height="9" fill="#c0c0c0"/>
<rect x="992" y="684" width="1" height="9" fill="#c0c0c0"/>
<rect x="996" y="684" width="1" height="10" fill="#c0c0c0"/>
<rect x="1000" y="684" width="1" height="10" fill="#c0c0c0"/>
<rect x="1004" y="684" width="1" height="11" fill="#c0c0c0"/>
<rect x="1008" y="684" width="1" height="13" fill="#c0c0c0"/>
<rect x="1012" y="684" width="1" height="14" fill="#c0c0c0"/>
<rect x="1016" y="684" width="1" height="15" fill="#c0c0c0"/>
<rect x="1020" y="684" width="1" height="15" fill="#c0c0c0"/>
<rect x="1024" y="684" width="1" height="14" fill="#c0c0c0"/>
<rect x="1028" y="684" width="1" height="13" fill="#c0c0c0"/>
<rect x="1032" y="684" width="1" height="9" fill="#c0c0c0"/>
<rect x="1036" y="684" width="1" height="4" fill="#c0c0c0"/>
<rect x="1040" y="684" width="1" height="1" fill="#c0c0c0"/>
<rect x="1044" y="683" width="1" height="2" fill="#c0c0c0"/>
<rect x="1048" y="684" width="1" height="2" fill="#c0c0c0"/>
<rect x="1052" y="684" width="1" height="5" fill="#c0c0c0"/>
<rect x="1056" y="684" width="1" height="6" fill="#c0c0c0"/>
<rect x="1060" y="684" width="1" height="6" fill="#c0c0c0"/>
<rect x="1064" y="684" width="1" height="7" fill="#c0c0c0"/>
<rect x="1068" y="684" width="1" height="8" fill="#c0c0c0"/>
<rect x="1072" y="684" width="1" height="7" fill="#c0c0c0"/>
<rect x="1076" y="684" width="1" height="7" fill="#c0c0c0"/>
<rect x="1080" y="684" width="1" height="9" fill="#c0c0c0"/>
<rect x="1084" y="684" width="1" height="9" fill="#c0c0c0"/>
<rect x="1088" y="684" width="1" height="9" fill="#c0c0c0"/>
<rect x="1092" y="684" width="1" height="7" fill="#c0c0c0"/>
<rect x="1096" y="684" width="1" height="3" fill="#c0c0c0"/>
<rect x="1100" y="682" width="1" height="3" fill="#c0c0c0"/>
<rect x="1104" y="680" width="1" height="5" fill="#c0c0c0"/>
<rect x="1108" y="680" width="1" height="5" fill="#c0c0c0"/>
<rect x="1112" y="680" width="1" height="5" fill="#c0c0c0"/>
<rect x="1116" y="681" width="1" height="4" fill="#c0c0c0"/>
<rect x="1120" y="678" width="1" height="7" fill="#c0c0c0"/>
<rect x="1124" y="677" width="1" height="8" fill="#c0c0c0"/>
<rect x="1128" y="672" width="1" height="13" fill="#c0c0c0"/>
<rect x="1132" y="668" width="1" height="17" fill="#c0c0c0"/>
<rect x="1136" y="665" width="1" height="20" fill="#c0c0c0"/>
<rect x="1140" y="662" width="1" height="23" fill="#c0c0c0"/>
<rect x="1144" y="658" width="1" height="27" fill="#c0c0c0"/>
<rect x="1148" y="653" width="1" height="32" fill="#c0c0c0"/>
<rect x="1152" y="647" width="1" height="38" fill="#c0c0c0"/>
<rect x="1156" y="644" width="1" height="41" fill="#c0c0c0"/>
<rect x="1160" y="642" width="1" height="43" fill="#c0c0c0"/>
<rect x="1164" y="641" width="1" height="44" fill="#c0c0c0"/>
<rect x="1168" y="639" width="1" height="46" fill="#c0c0c0"/>
<rect x="1172" y="637" width="1" height="48" fill="#c0c0c0"/>
<rect x="1176" y="636" width="1" height="49" fill="#c0c0c0"/>
<rect x="1180" y="639" width="1" height="46" fill="#c0c0c0"/>
<rect x="1184" y="643" width="1" height="42" fill="#c0c0c0"/>
<rect x="1188" y="646" width="1" height="39" fill="#c0c0c0"/>
<rect x="1192" y="649" width="1" height="36" fill="#c0c0c0"/>
<rect x="1196" y="652" width="1" height="33" fill="#c0c0c0"/>
<rect x="1200" y="656" width="1" height="29" fill="#c0c0c0"/>
<rect x="1204" y="659" width="1" height="26" fill="#c0c0c0"/>
<rect x="1208" y="663" width="1" height="22" fill="#c0c0c0"/>
<rect x="1212" y="663" width="1" height="22" fill="#c0c0c0"/>
<rect x="1216" y="662" width="1" height="23" fill="#c0c0c0"/>
<rect x="1220" y="663" width="1" height="22" fill="#c0c0c0"/>
<rect x="1224" y="665" width="1" height="20" fill="#c0c0c0"/>
<rect x="1228" y="668" width="1" height="17" fill="#c0c0c0"/>
<rect x="1232" y="669" width="1" height="16" fill="#c0c0c0"/>
<rect x="1236" y="670" width="1" height="15" fill="#c0c0c0"/>
<rect x="1240" y="671" width="1" height="14" fill="#c0c0c0"/>
<rect x="1244" y="672" width="1" height="13" fill="#c0c0c0"/>
<rect x="1248" y="673" width="1" height="12" fill="#c0c0c0"/>
<rect x="1252" y="674" width="1" height="11" fill="#c0c0c0"/>
<rect x="1256" y="675" width="1" height="10" fill="#c0c0c0"/>
<rect x="1260" y="673" width="1" height="12" fill="#c0c0c0"/>
<rect x="1264" y="673" width="1" height="12" fill="#c0c0c0"/>
<rect x="1268" y="673" width="1" height="12" fill="#c0c0c0"/>
<path fill="none" stroke="#ff0000" stroke-width="1" shape-rendering="crispEdges" d="M4.5 671v1M5.5 672v1M6.5 672v1M10.5 674v1M11.5 675v1M12.5 675v1M16.5 677v1M17.5 678v1M18.5 679v1M22.5 681v1M23.5 682v1M24.5 682v1M28.5 683v1M29.5 684v1M30.5 684v1M34.5 686v1M35.5 686v1M36.5 686v1M40.5 687v1M41.5 687v1M42.5 687v1M46.5 688v1M47.5 688v1M48.5 688v1M52.5 688v1M53.5 688v1M54.5 688v1M58.5 689v1M59.5 689v1M60.5 689v1M64.5 689v1M65.5 689v1M66.5 690v1M70.5 691v1M71.5 691v1M72.5 691v1M76.5 692v1M77.5 692v1M78.5 693v1M82.5 694v1M83.5 694v1M84.5 694v1M88.5 695v1M89.5 695v1M90.5 696v1M94.5 697v1M95.5 697v1M96.5 697v1M100.5 698v1M101.5 698v1M102.5 699v1M106.5 699v1M107.5 699v1M108.5 699v1M112.5 699v1M113.5 699v1M114.5 698v1M118.5 697v1M119.5 697v1M120.5 697v1M124.5 696v1M125.5 695v1M126.5 695v1M130.5 693v1M131.5 693v1M132.5 693v1M136.5 691v1M137.5 691v1M138.5 690v1M142.5 689v1M143.5 689v1M144.5 689v1M148.5 688v1M149.5 688v1M150.5 688v1M154.5 689v1M155.5 689v1M156.5 689v1M160.5 690v1M161.5 690v1M162.5 691v1M166.5 692v1M167.5 692v1M168.5 692v1M172.5 693v1M173.5 693v1M174.5 693v1M178.5 693v1M179.5 693v1M180.5 693v1M184.5 694v1M185.5 694v1M186.5 694v1M190.5 694v1M191.5 694v1M192.5 694v1M196.5 694v1M197.5 694v1M198.5 695v1M202.5 695v1M203.5 695v1M204.5 695v1M208.5 696v1M209.5 697v1M210.5 697v1M214.5 699v1M215.5 699v1M216.5 699v1M220.5 699v1M221.5 699v1M222.5 700v1M226.5 700v1M227.5 700v1M228.5 700v1M232.5 700v1M233.5 700v1M234.5 700v1M238.5 699v1M239.5 699v1M240.5 699v1M244.5 698v1M245.5 697v1M246.5 697v1M250.5 695v1M251.5 695v1M252.5 695v1M256.5 694v1M257.5 694v1M258.5 693v1M262.5 693v1M263.5 693v1M264.5 693v1M268.5 692v1M269.5 692v1M270.5 691v1M274.5 691v1M275.5 691v1M276.5 691v1M280.5 691v1M281.5 691v1M282.5 691v1M286.5 692v1M287.5 692v1M288.5 692v1M292.5 692v1M293.5 692v1M294.5 693v1M298.5 694v1M299.5 694v1M300.5 694v1M304.5 695v1M305.5 695v1M306.5 696v1M310.5 697v1M311.5 697v1M312.5 697v1M316.5 697v1M317.5 697v1M318.5 697v1M322.5 697v1M323.5 697v1M324.5 697v1M328.5 696v1M329.5 696v1M330.5 696v1M334.5 695v1M335.5 695v1M336.5 695v1M340.5 693v1M341.5 693v1M342.5 692v1M346.5 691v1M347.5 691v1M348.5 691v1M352.5 689v1M353.5 689v1M354.5 688v1M358.5 687v1M359.5 686v1M360.5 686v1M364.5 684v1M365.5 683v1M366.5 683v1M370.5 680v1M371.5 680v1M372.5 679v1M376.5 677v1M377.5 677v1M378.5 676v1M382.5 675v1M383.5 674v1M384.5 674v1M388.5 673v1M389.5 673v1M390.5 672v1M394.5 672v1M395.5 672v1M396.5 672v1M400.5 672v1M401.5 672v1M402.5 672v1M406.5 672v1M407.5 672v1M408.5 672v1M412.5 672v1M413.5 672v1M414.5 672v1M418.5 673v1M419.5 673v1M420.5 673v1M424.5 673v1M425.5 673v1M426.5 673v1M430.5 674v1M431.5 674v1M432.5 674v1M436.5 674v1M437.5 675v1M438.5 675v1M442.5 677v1M443.5 677v1M444.5 677v1M448.5 679v1M449.5 680v1M450.5 680v1M454.5 682v1M455.5 683v1M456.5 683v1M460.5 685v1M461.5 685v1M462.5 686v1M466.5 687v1M467.5 687v1M468.5 687v1M472.5 688v1M473.5 688v1M474.5 688v1M478.5 688v1M479.5 688v1M480.5 688v1M484.5 688v1M485.5 688v1M486.5 688v1M490.5 687v1M491.5 687v1M492.5 687v1M496.5 687v1M497.5 687v1M498.5 687v1M502.5 688v1M503.5 688v1M504.5 688v1M508.5 688v1M509.5 688v1M510.5 689v1M514.5 689v1M515.5 689v1M516.5 689v1M520.5 689v1M521.5 689v1M522.5 688v1M526.5 688v1M527.5 688v1M528.5 688v1M532.5 687v1M533.5 687v1M534.5 687v1M538.5 686v1M539.5 686v1M540.5 686v1M544.5 685v1M545.5 685v1M546.5 684v1M550.5 683v1M551.5 683v1M552.5 683v1M556.5 682v1M557.5 682v1M558.5 681v1M562.5 681v1M563.5 681v1M564.5 681v1M568.5 680v1M569.5 680v1M570.5 679v1M574.5 678v1M575.5 678v1M576.5 678v1M580.5 677v1M581.5 677v1M582.5 677v1M586.5 677v1M587.5 677v1M588.5 677v1M592.5 677v1M593.5 677v1M594.5 678v1M598.5 678v1M599.5 678v1M600.5 678v1M604.5 678v1M605.5 678v1M606.5 679v1M610.5 679v1M611.5 679v1M612.5 679v1M616.5 678v1M617.5 678v1M618.5 677v1M622.5 676v1M623.5 676v1M624.5 676v1M628.5 675v1M629.5 675v1M630.5 674v1M634.5 673v1M635.5 673v1M636.5 673v1M640.5 673v1M641.5 673v1M642.5 673v1M646.5 673v1M647.5 673v1M648.5 673v1M652.5 674v1M653.5 674v1M654.5 675v1M658.5 676v1M659.5 676v1M660.5 676v1M664.5 678v1M665.5 678v1M666.5 679v1M670.5 680v1M671.5 680v1M672.5 680v1M676.5 681v1M677.5 681v1M678.5 682v1M682.5 682v1M683.5 682v1M684.5 682v1M688.5 683v1M689.5 683v1M690.5 684v1M694.5 685v1M695.5 685v1M696.5 685v1M700.5 686v1M701.5 686v1M702.5 687v1M706.5 688v1M707.5 689v1M708.5 689v1M712.5 690v1M713.5 690v1M714.5 691v1M718.5 692v1M719.5 692v1M720.5 692v1M724.5 693v1M725.5 693v1M726.5 694v1M730.5 694v1M731.5 694v1M732.5 694v1M736.5 694v1M737.5 694v1M738.5 694v1M742.5 694v1M743.5 694v1M744.5 694v1M748.5 694v1M749.5 694v1M750.5 694v1M754.5 695v1M755.5 695v1M756.5 695v1M760.5 695v1M761.5 695v1M762.5 696v1M766.5 697v1M767.5 698v1M768.5 698v1M772.5 700v1M773.5 700v1M774.5 701v1M778.5 702v1M779.5 703v1M780.5 703v1M784.5 705v1M785.5 705v1M786.5 706v1M790.5 707v1M791.5 708v1M792.5 708v1M796.5 709v1M797.5 709v1M798.5 709v1M802.5 710v1M803.5 710v1M804.5 710v1M808.5 709v1M809.5 709v1M810.5 709v1M814.5 708v1M815.5 708v1M816.5 708v1M820.5 706v1M821.5 705v1M822.5 704v1M826.5 701v1M827.5 701v1M828.5 700v1M832.5 696v1M833.5 695v1M834.5 694v1M838.5 689v2M839.5 688v1M842.5 684v1M843.5 683v1M844.5 682v1M847.5 677v2M848.5 676v1M851.5 671v2M852.5 670v1M855.5 665v2M856.5 664v1M859.5 660v1M860.5 659v1M861.5 658v1M865.5 655v1M866.5 655v1M867.5 654v1M871.5 653v1M872.5 653v1M873.5 653v1M877.5 653v1M878.5 653v1M879.5 654v1M883.5 656v1M884.5 657v1M885.5 658v1M888.5 662v1M889.5 663v2M891.5 668v1M892.5 669v1M893.5 670v1M895.5 674v2M896.5 676v1M898.5 680v2M899.5 682v1M901.5 686v1M902.5 687v2M905.5 692v2M906.5 694v1M909.5 698v1M910.5 699v1M911.5 700v1M915.5 704v1M916.5 705v1M917.5 705v1M921.5 706v1M922.5 706v1M923.5 706v1M927.5 704v1M928.5 704v1M929.5 703v1M933.5 701v1M934.5 700v1M935.5 700v1M939.5 697v1M940.5 697v1M941.5 696v1M945.5 695v1M946.5 694v1M947.5 694v1M951.5 694v1M952.5 694v1M953.5 694v1M957.5 695v1M958.5 696v1M959.5 696v1M963.5 697v1M964.5 697v1M965.5 697v1M969.5 697v1M970.5 697v1M971.5 697v1M975.5 696v1M976.5 696v1M977.5 696v1M981.5 695v1M982.5 694v1M983.5 694v1M987.5 693v1M988.5 693v1M989.5 693v1M993.5 692v1M994.5 692v1M995.5 692v1M999.5 691v1M1000.5 691v1M1001.5 691v1M1005.5 692v1M1006.5 692v1M1007.5 692v1M1011.5 693v1M1012.5 693v1M1013.5 693v1M1017.5 694v1M1018.5 694v1M1019.5 694v1M1023.5 695v1M1024.5 695v1M1025.5 695v1M1029.5 695v1M1030.5 695v1M1031.5 695v1M1035.5 694v1M1036.5 694v1M1037.5 694v1M1041.5 693v1M1042.5 692v1M1043.5 692v1M1047.5 691v1M1048.5 691v1M1049.5 690v1M1053.5 689v1M1054.5 688v1M1055.5 688v1M1059.5 688v1M1060.5 688v1M1061.5 688v1M1065.5 687v1M1066.5 687v1M1067.5 687v1M1071.5 687v1M1072.5 687v1M1073.5 687v1M1077.5 688v1M1078.5 689v1M1079.5 689v1M1083.5 690v1M1084.5 690v1M1085.5 690v1M1089.5 690v1M1090.5 690v1M1091.5 690v1M1095.5 690v1M1096.5 690v1M1097.5 690v1M1101.5 689v1M1102.5 688v1M1103.5 688v1M1107.5 687v1M1108.5 687v1M1109.5 687v1M1113.5 685v1M1114.5 685v1M1115.5 684v1M1119.5 683v1M1120.5 683v1M1121.5 682v1M1125.5 680v1M1126.5 680v1M1127.5 679v1M1131.5 677v1M1132.5 677v1M1133.5 676v1M1137.5 674v1M1138.5 674v1M1139.5 673v1M1143.5 671v1M1144.5 671v1M1145.5 670v1M1149.5 667v1M1150.5 666v1M1151.5 665v1M1155.5 661v1M1156.5 660v1M1157.5 659v1M1161.5 655v1M1162.5 654v1M1163.5 654v1M1167.5 651v1M1168.5 650v1M1169.5 649v1M1173.5 646v1M1174.5 645v1M1175.5 645v1M1179.5 642v1M1180.5 642v1M1181.5 641v1M1185.5 640v1M1186.5 640v1M1187.5 640v1M1191.5 641v1M1192.5 641v1M1193.5 641v1M1197.5 643v1M1198.5 643v1M1199.5 644v1M1203.5 646v1M1204.5 646v1M1205.5 647v1M1209.5 650v1M1210.5 651v1M1211.5 651v1M1215.5 654v1M1216.5 654v1M1217.5 655v1M1221.5 657v1M1222.5 658v1M1223.5 658v1M1227.5 661v1M1228.5 661v1M1229.5 662v1M1233.5 663v1M1234.5 664v1M1235.5 664v1M1239.5 666v1M1240.5 666v1M1241.5 666v1M1245.5 667v1M1246.5 668v1M1247.5 668v1M1251.5 669v1M1252.5 669v1M1253.5 669v1M1257.5 670v1M1258.5 671v1M1259.5 671v1M1263.5 672v1M1264.5 672v1M1265.5 672v1"/>
</g>
<text x="42.900000000000006" y="15" font-size="10" fill="#3a3a3a">M1</text>
<text x="71.10000000000001" y="15" font-size="10" fill="#3a3a3a">M5</text>
<text x="97.0" y="15" font-size="10" fill="#3a3a3a">M15</text>
<text x="125.0" y="15" font-size="10" fill="#3a3a3a">M30</text>
<text x="155.79999999999998" y="15" font-size="10" fill="#3a3a3a">H1</text>
<text x="182.2" y="15" font-size="10" fill="#3a3a3a">H4</text>
<text x="211.7" y="15" font-size="10" fill="#3a3a3a">D1</text>
<text x="239.2" y="15" font-size="10" fill="#3a3a3a">W1</text>
<text x="265.7" y="15" font-size="10" fill="#3a3a3a">MN</text>
<text x="18.5" y="39" font-size="9.6" fill="#000" stroke="#000" stroke-width="0.12">EURUSD,Daily</text>
<text x="89.0" y="39" font-size="9.2" fill="#000" stroke="#000" stroke-width="0.12">1.12969 1.12993 1.12642 1.12702</text>
<text x="7.4" y="547.6" font-size="9.6" fill="#000" stroke="#000" stroke-width="0.12">RSI(14) 55.9312</text>
<text x="8.0" y="641.2" font-size="9.35" fill="#000" stroke="#000" stroke-width="0.12">MACD(12,26,9) 0.002873 0.002947</text>
<text x="1601.5" y="39" font-size="9.2" fill="#000" stroke="#000" stroke-width="0.12">1.15265</text>
<text x="1601.5" y="72" font-size="9.2" fill="#000" stroke="#000" stroke-width="0.12">1.14650</text>
<text x="1601.5" y="138" font-size="9.2" fill="#000" stroke="#000" stroke-width="0.12">1.13450</text>
<text x="1601.5" y="171" font-size="9.2" fill="#000" stroke="#000" stroke-width="0.12">1.12850</text>
<text x="1601.5" y="204" font-size="9.2" fill="#000" stroke="#000" stroke-width="0.12">1.12235</text>
<text x="1601.5" y="237" font-size="9.2" fill="#000" stroke="#000" stroke-width="0.12">1.11635</text>
<text x="1601.5" y="303" font-size="9.2" fill="#000" stroke="#000" stroke-width="0.12">1.10435</text>
<text x="1601.5" y="336" font-size="9.2" fill="#000" stroke="#000" stroke-width="0.12">1.09820</text>
<text x="1601.5" y="369" font-size="9.2" fill="#000" stroke="#000" stroke-width="0.12">1.09220</text>
<text x="1601.5" y="402" font-size="9.2" fill="#000" stroke="#000" stroke-width="0.12">1.08620</text>
<text x="1601.5" y="435" font-size="9.2" fill="#000" stroke="#000" stroke-width="0.12">1.08020</text>
<text x="1601.5" y="468" font-size="9.2" fill="#000" stroke="#000" stroke-width="0.12">1.07405</text>
<text x="1601.5" y="501" font-size="9.2" fill="#000" stroke="#000" stroke-width="0.12">1.06805</text>
<text x="1601.5" y="534" font-size="9.2" fill="#000" stroke="#000" stroke-width="0.12">1.06205</text>
<rect x="1598" y="95" width="40" height="11" fill="#ff0000" shape-rendering="crispEdges"/>
<text x="1601.5" y="104" font-size="9.2" fill="#fff" stroke="#fff" stroke-width="0.12">1.14047</text>
<rect x="1598" y="151" width="40" height="11" fill="#ff0000" shape-rendering="crispEdges"/>
<text x="1601.5" y="160" font-size="9.2" fill="#fff" stroke="#fff" stroke-width="0.12">1.13034</text>
<rect x="1598" y="170" width="40" height="11" fill="#000000" shape-rendering="crispEdges"/>
<text x="1601.5" y="179" font-size="9.2" fill="#fff" stroke="#fff" stroke-width="0.12">1.12702</text>
<rect x="1598" y="207" width="40" height="11" fill="#00ff00" shape-rendering="crispEdges"/>
<text x="1601.5" y="216" font-size="9.2" fill="#fff" stroke="#fff" stroke-width="0.12">1.12004</text>
<rect x="1598" y="261" width="40" height="11" fill="#0000ff" shape-rendering="crispEdges"/>
<text x="1601.5" y="270" font-size="9.2" fill="#fff" stroke="#fff" stroke-width="0.12">1.11009</text>
<rect x="1598" y="316" width="40" height="11" fill="#0000ff" shape-rendering="crispEdges"/>
<text x="1601.5" y="325" font-size="9.2" fill="#fff" stroke="#fff" stroke-width="0.12">1.10008</text>
<text x="1599.3" y="546" font-size="9.2" fill="#000" stroke="#000" stroke-width="0.12">100</text>
<text x="1599.3" y="566.8" font-size="9.2" fill="#000" stroke="#000" stroke-width="0.12">70</text>
<text x="1599.3" y="602.7" font-size="9.2" fill="#000" stroke="#000" stroke-width="0.12">30</text>
<text x="1599.3" y="623.7" font-size="9.2" fill="#000" stroke="#000" stroke-width="0.12">0</text>
<text x="1599.7" y="639.6" font-size="9.2" fill="#000" stroke="#000" stroke-width="0.12">0.013121</text>
<text x="1599.7" y="687.7" font-size="9.2" fill="#000" stroke="#000" stroke-width="0.12">0.00</text>
<text x="1599.7" y="718" font-size="9.2" fill="#000" stroke="#000" stroke-width="0.12">-0.008933</text>
<text x="2.5" y="734" font-size="9.2" fill="#000" stroke="#000" stroke-width="0.12" textLength="42.61" lengthAdjust="spacingAndGlyphs">5 Jul 2019</text>
<text x="66.8" y="734" font-size="9.2" fill="#000" stroke="#000" stroke-width="0.12" textLength="47.31" lengthAdjust="spacingAndGlyphs">24 Jul 2019</text>
<text x="130.3" y="734" font-size="9.2" fill="#000" stroke="#000" stroke-width="0.12" textLength="54.14" lengthAdjust="spacingAndGlyphs">12 Aug 2019</text>
<text x="194.3" y="734" font-size="9.2" fill="#000" stroke="#000" stroke-width="0.12" textLength="53.63" lengthAdjust="spacingAndGlyphs">30 Aug 2019</text>
<text x="258.5" y="734" font-size="9.2" fill="#000" stroke="#000" stroke-width="0.12" textLength="51.92" lengthAdjust="spacingAndGlyphs">18 Sep 2019</text>
<text x="322.5" y="734" font-size="9.2" fill="#000" stroke="#000" stroke-width="0.12" textLength="45.85" lengthAdjust="spacingAndGlyphs">7 Oct 2019</text>
<text x="386.7" y="734" font-size="9.2" fill="#000" stroke="#000" stroke-width="0.12" textLength="50.66" lengthAdjust="spacingAndGlyphs">25 Oct 2019</text>
<text x="450.90000000000003" y="734" font-size="9.2" fill="#000" stroke="#000" stroke-width="0.12" textLength="53.61" lengthAdjust="spacingAndGlyphs">13 Nov 2019</text>
<text x="514.5999999999999" y="734" font-size="9.2" fill="#000" stroke="#000" stroke-width="0.12" textLength="47.1" lengthAdjust="spacingAndGlyphs">2 Dec 2019</text>
<text x="578.8" y="734" font-size="9.2" fill="#000" stroke="#000" stroke-width="0.12" textLength="51.91" lengthAdjust="spacingAndGlyphs">20 Dec 2019</text>
<text x="642.3" y="734" font-size="9.2" fill="#000" stroke="#000" stroke-width="0.12" textLength="45.67" lengthAdjust="spacingAndGlyphs">8 Jan 2020</text>
<text x="706.5" y="734" font-size="9.2" fill="#000" stroke="#000" stroke-width="0.12" textLength="50.38" lengthAdjust="spacingAndGlyphs">27 Jan 2020</text>
<text x="770.5" y="734" font-size="9.2" fill="#000" stroke="#000" stroke-width="0.12" textLength="52.42" lengthAdjust="spacingAndGlyphs">14 Feb 2020</text>
<text x="834.5" y="734" font-size="9.2" fill="#000" stroke="#000" stroke-width="0.12" textLength="47.29" lengthAdjust="spacingAndGlyphs">4 Mar 2020</text>
<text x="898.5999999999999" y="734" font-size="9.2" fill="#000" stroke="#000" stroke-width="0.12" textLength="52.4" lengthAdjust="spacingAndGlyphs">23 Mar 2020</text>
<text x="963.0" y="734" font-size="9.2" fill="#000" stroke="#000" stroke-width="0.12" textLength="51.38" lengthAdjust="spacingAndGlyphs">10 Apr 2020</text>
<text x="1026.5" y="734" font-size="9.2" fill="#000" stroke="#000" stroke-width="0.12" textLength="51.38" lengthAdjust="spacingAndGlyphs">29 Apr 2020</text>
<text x="1090.8" y="734" font-size="9.2" fill="#000" stroke="#000" stroke-width="0.12" textLength="54.83" lengthAdjust="spacingAndGlyphs">18 May 2020</text>
<text x="1154.7" y="734" font-size="9.2" fill="#000" stroke="#000" stroke-width="0.12" textLength="45.17" lengthAdjust="spacingAndGlyphs">5 Jun 2020</text>
<text x="1218.5" y="734" font-size="9.2" fill="#000" stroke="#000" stroke-width="0.12" textLength="50.88" lengthAdjust="spacingAndGlyphs">24 Jun 2020</text>
<text x="16.6" y="759" font-size="12" fill="#000" stroke="#000" stroke-width="0.12">EURUSD,Daily</text>
<text x="119.3" y="759" font-size="12" fill="#626262" stroke="#626262" stroke-width="0.12" textLength="79.39" lengthAdjust="spacingAndGlyphs">USDCHF,Daily</text>
<text x="220.0" y="759" font-size="12" fill="#626262" stroke="#626262" stroke-width="0.12" textLength="81.58" lengthAdjust="spacingAndGlyphs">AUDUSD,Daily</text>
<text x="323.9" y="759" font-size="12" fill="#626262" stroke="#626262" stroke-width="0.12" textLength="81.7" lengthAdjust="spacingAndGlyphs">USDCAD,Daily</text>
<text x="426.5" y="759" font-size="12" fill="#626262" stroke="#626262" stroke-width="0.12" textLength="83.95" lengthAdjust="spacingAndGlyphs">USDCNH,Daily</text>
<text x="531.9" y="759" font-size="12" fill="#626262" stroke="#626262" stroke-width="0.12" textLength="78.06" lengthAdjust="spacingAndGlyphs">EURUSD,M15</text>
<text x="631.2" y="759" font-size="12" fill="#626262" stroke="#626262" stroke-width="0.12" textLength="78.77" lengthAdjust="spacingAndGlyphs">GBPUSD,M30</text>
<text x="731.2" y="759" font-size="12" fill="#626262" stroke="#626262" stroke-width="0.12" textLength="81.62" lengthAdjust="spacingAndGlyphs">XAUUSD,Daily</text>
<text x="835.4" y="759" font-size="12" fill="#626262" stroke="#626262" stroke-width="0.12" textLength="52.23" lengthAdjust="spacingAndGlyphs">HK50,H1</text>
<text x="907.4" y="759" font-size="12" fill="#626262" stroke="#626262" stroke-width="0.12" textLength="58.55" lengthAdjust="spacingAndGlyphs">UK100,H1</text>
<text x="987.8" y="759" font-size="12" fill="#626262" stroke="#626262" stroke-width="0.12" textLength="58.14" lengthAdjust="spacingAndGlyphs">UK100,H1</text>
<text x="1067.8" y="759" font-size="12" fill="#626262" stroke="#626262" stroke-width="0.12" textLength="57.73" lengthAdjust="spacingAndGlyphs">GER30,H1</text>
<text x="1146.5" y="759" font-size="12" fill="#626262" stroke="#626262" stroke-width="0.12" textLength="56.23" lengthAdjust="spacingAndGlyphs">FRA40,H1</text>
<text x="1222.7" y="759" font-size="12" fill="#626262" stroke="#626262" stroke-width="0.12" textLength="63.46" lengthAdjust="spacingAndGlyphs">USOil,Daily</text>
<text x="1306.8" y="759" font-size="12" fill="#626262" stroke="#626262" stroke-width="0.12" textLength="63.38" lengthAdjust="spacingAndGlyphs">USDJPY,H1</text>
<text x="1392.1" y="759" font-size="12" fill="#626262" stroke="#626262" stroke-width="0.12" textLength="57.44" lengthAdjust="spacingAndGlyphs">DJ30,M15</text>
<rect x="209" y="748" width="1" height="13" fill="#696969" shape-rendering="crispEdges"/>
<rect x="314" y="748" width="1" height="13" fill="#696969" shape-rendering="crispEdges"/>
<rect x="418" y="748" width="1" height="13" fill="#696969" shape-rendering="crispEdges"/>
<rect x="521" y="748" width="1" height="13" fill="#696969" shape-rendering="crispEdges"/>
<rect x="622" y="748" width="1" height="13" fill="#696969" shape-rendering="crispEdges"/>
<rect x="722" y="748" width="1" height="13" fill="#696969" shape-rendering="crispEdges"/>
<rect x="825" y="748" width="1" height="13" fill="#696969" shape-rendering="crispEdges"/>
<rect x="898" y="748" width="1" height="13" fill="#696969" shape-rendering="crispEdges"/>
<rect x="977" y="748" width="1" height="13" fill="#696969" shape-rendering="crispEdges"/>
<rect x="1057" y="748" width="1" height="13" fill="#696969" shape-rendering="crispEdges"/>
<rect x="1137" y="748" width="1" height="13" fill="#696969" shape-rendering="crispEdges"/>
<rect x="1214" y="748" width="1" height="13" fill="#696969" shape-rendering="crispEdges"/>
<rect x="1298" y="748" width="1" height="13" fill="#696969" shape-rendering="crispEdges"/>
<rect x="1382" y="748" width="1" height="13" fill="#696969" shape-rendering="crispEdges"/>
<rect x="1461" y="748" width="1" height="13" fill="#696969" shape-rendering="crispEdges"/>
<g shape-rendering="crispEdges">
<rect x="4" y="722" width="1" height="3" fill="#000"/><rect x="68" y="722" width="1" height="3" fill="#000"/><rect x="132" y="722" width="1" height="3" fill="#000"/><rect x="196" y="722" width="1" height="3" fill="#000"/><rect x="260" y="722" width="1" height="3" fill="#000"/><rect x="324" y="722" width="1" height="3" fill="#000"/><rect x="388" y="722" width="1" height="3" fill="#000"/><rect x="452" y="722" width="1" height="3" fill="#000"/><rect x="516" y="722" width="1" height="3" fill="#000"/><rect x="580" y="722" width="1" height="3" fill="#000"/><rect x="644" y="722" width="1" height="3" fill="#000"/><rect x="708" y="722" width="1" height="3" fill="#000"/><rect x="772" y="722" width="1" height="3" fill="#000"/><rect x="836" y="722" width="1" height="3" fill="#000"/><rect x="900" y="722" width="1" height="3" fill="#000"/><rect x="964" y="722" width="1" height="3" fill="#000"/><rect x="1028" y="722" width="1" height="3" fill="#000"/><rect x="1092" y="722" width="1" height="3" fill="#000"/><rect x="1156" y="722" width="1" height="3" fill="#000"/><rect x="1220" y="722" width="1" height="3" fill="#000"/>
</g>
<g shape-rendering="crispEdges" fill="#000">
<rect x="1597" y="35" width="2" height="1"/><rect x="1597" y="68" width="2" height="1"/><rect x="1597" y="101" width="2" height="1"/><rect x="1597" y="134" width="2" height="1"/><rect x="1597" y="167" width="2" height="1"/><rect x="1597" y="200" width="2" height="1"/><rect x="1597" y="233" width="2" height="1"/><rect x="1597" y="266" width="2" height="1"/><rect x="1597" y="299" width="2" height="1"/><rect x="1597" y="332" width="2" height="1"/><rect x="1597" y="365" width="2" height="1"/><rect x="1597" y="398" width="2" height="1"/><rect x="1597" y="431" width="2" height="1"/><rect x="1597" y="464" width="2" height="1"/><rect x="1597" y="497" width="2" height="1"/><rect x="1597" y="530" width="2" height="1"/>
<rect x="1597" y="537" width="2" height="1"/><rect x="1597" y="626" width="2" height="1"/>
<rect x="1597" y="631" width="2" height="1"/><rect x="1597" y="684" width="2" height="1"/><rect x="1597" y="720" width="2" height="1"/>
</g>
<g shape-rendering="crispEdges" fill="#c0c0c0"><rect x="1597" y="563" width="2" height="1"/><rect x="1597" y="599" width="2" height="1"/></g>
<polygon points="7,34 14,34 10.5,37.8" fill="#000"/>
<polygon points="16.8,9.8 22.2,9.8 19.5,12.9" fill="#000"/>
<g fill="#4a4a4a">
<polygon points="0,6 1.5,5.8 3,8.6 0,9"/>
<polygon points="-1,14 3.5,9 4.8,10 0.3,15" />
<polygon points="5,12.8 8,12.8 8,14 10,14 6.5,17.8 3.1,14 5,14"/>
</g>
<polygon points="1615,750 1615,756.5 1612,753.2" fill="#8a8a8a"/>
<polygon points="1631,750 1631,756.5 1634,753.2" fill="#8a8a8a"/>

</svg>
</body></html>
